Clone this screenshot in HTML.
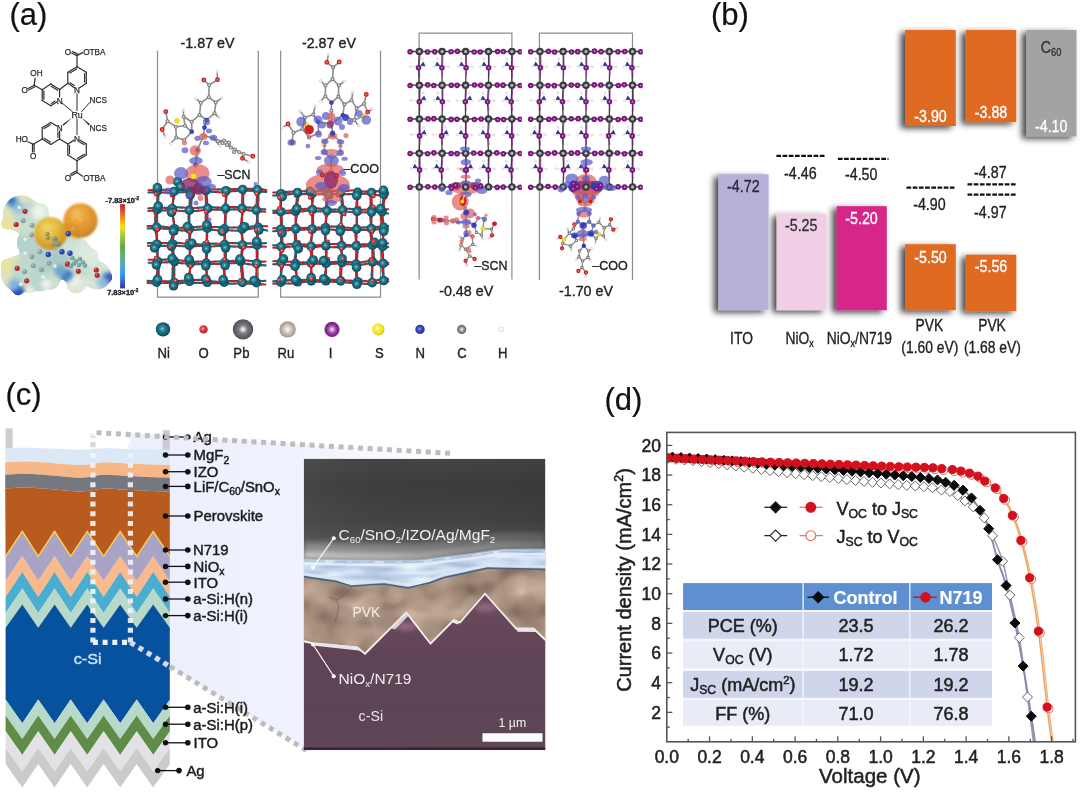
<!DOCTYPE html>
<html lang="en">
<head>
<meta charset="utf-8">
<title>Figure</title>
<style>
html,body{margin:0;padding:0;background:#fff;}
body{width:1080px;height:792px;overflow:hidden;font-family:'Liberation Sans', sans-serif;}
svg{display:block;position:absolute;left:0;top:0;}
svg text{font-family:'Liberation Sans', sans-serif;}
</style>
</head>
<body>
<svg width="1080" height="792" viewBox="0 0 1080 792">
<defs>
<filter id="soft" x="0" y="0" width="1080" height="792" filterUnits="userSpaceOnUse" color-interpolation-filters="sRGB"><feGaussianBlur stdDeviation="0.65"/></filter>
<radialGradient id="gNi" cx="0.45" cy="0.45" r="0.62" fx="0.45" fy="0.45"><stop offset="0" stop-color="#b5e0ea"/><stop offset="0.16" stop-color="#4397a9"/><stop offset="0.5" stop-color="#186b7c"/><stop offset="1" stop-color="#084251"/></radialGradient>
<radialGradient id="gO" cx="0.42" cy="0.42" r="0.65" fx="0.42" fy="0.42"><stop offset="0" stop-color="#ffc9c9"/><stop offset="0.3" stop-color="#e84848"/><stop offset="1" stop-color="#b00f14"/></radialGradient>
<radialGradient id="gPb" cx="0.5" cy="0.5" r="0.6" fx="0.5" fy="0.5"><stop offset="0" stop-color="#ffffff"/><stop offset="0.12" stop-color="#d8d8dc"/><stop offset="0.35" stop-color="#7c7c84"/><stop offset="1" stop-color="#3d3d44"/></radialGradient>
<radialGradient id="gRu" cx="0.5" cy="0.5" r="0.6" fx="0.5" fy="0.5"><stop offset="0" stop-color="#ffffff"/><stop offset="0.2" stop-color="#e8e2dc"/><stop offset="0.6" stop-color="#b9aea4"/><stop offset="1" stop-color="#8f857c"/></radialGradient>
<radialGradient id="gI" cx="0.5" cy="0.5" r="0.6" fx="0.5" fy="0.5"><stop offset="0" stop-color="#ffffff"/><stop offset="0.15" stop-color="#d8a8dc"/><stop offset="0.5" stop-color="#93359a"/><stop offset="1" stop-color="#5e1866"/></radialGradient>
<radialGradient id="gS" cx="0.42" cy="0.42" r="0.65" fx="0.42" fy="0.42"><stop offset="0" stop-color="#ffffe0"/><stop offset="0.25" stop-color="#f8f05a"/><stop offset="0.7" stop-color="#efe020"/><stop offset="1" stop-color="#c8b810"/></radialGradient>
<radialGradient id="gN" cx="0.45" cy="0.45" r="0.6" fx="0.45" fy="0.45"><stop offset="0" stop-color="#9aa2e8"/><stop offset="0.4" stop-color="#3b49b8"/><stop offset="1" stop-color="#26308c"/></radialGradient>
<radialGradient id="gC" cx="0.5" cy="0.5" r="0.6" fx="0.5" fy="0.5"><stop offset="0" stop-color="#f4f4f4"/><stop offset="0.3" stop-color="#b0b0b0"/><stop offset="0.6" stop-color="#787878"/><stop offset="1" stop-color="#5c5c5c"/></radialGradient>
<radialGradient id="gH" cx="0.5" cy="0.5" r="0.6" fx="0.5" fy="0.5"><stop offset="0" stop-color="#ffffff"/><stop offset="0.5" stop-color="#f4f4f4"/><stop offset="1" stop-color="#c4c4c4"/></radialGradient>
<radialGradient id="gor1" cx="0.4" cy="0.32" r="0.8" fx="0.4" fy="0.32"><stop offset="0" stop-color="#f2d766"/><stop offset="0.3" stop-color="#e9bd38"/><stop offset="0.7" stop-color="#d49c28"/><stop offset="1" stop-color="#a97a22"/></radialGradient>
<radialGradient id="gor2" cx="0.4" cy="0.32" r="0.8" fx="0.4" fy="0.32"><stop offset="0" stop-color="#f2bc5c"/><stop offset="0.3" stop-color="#e79c2a"/><stop offset="0.7" stop-color="#d6871e"/><stop offset="1" stop-color="#a96c1c"/></radialGradient>
<linearGradient id="cbar" x1="0" y1="0" x2="0" y2="1"><stop offset="0" stop-color="#c4232b"/><stop offset="0.1" stop-color="#e45a25"/><stop offset="0.19" stop-color="#f4a11c"/><stop offset="0.27" stop-color="#f5e11a"/><stop offset="0.37" stop-color="#a8c83a"/><stop offset="0.5" stop-color="#5faa45"/><stop offset="0.64" stop-color="#5db08a"/><stop offset="0.76" stop-color="#4aa6d8"/><stop offset="0.84" stop-color="#2f97ec"/><stop offset="0.92" stop-color="#3a62c4"/><stop offset="1" stop-color="#36399e"/></linearGradient>
<filter id="goo" x="-20%" y="-20%" width="140%" height="140%" color-interpolation-filters="sRGB"><feGaussianBlur stdDeviation="2.2" result="b"/><feColorMatrix in="b" mode="matrix" values="1 0 0 0 0  0 1 0 0 0  0 0 1 0 0  0 0 0 9 -3.6" result="g"/><feGaussianBlur in="g" stdDeviation="0.6"/></filter>
<filter id="blur08" x="-20%" y="-20%" width="140%" height="140%"><feGaussianBlur stdDeviation="0.8"/></filter>
<filter id="blur06" x="-20%" y="-20%" width="140%" height="140%"><feGaussianBlur stdDeviation="0.6"/></filter>
<filter id="blur04" x="-5%" y="-5%" width="110%" height="110%"><feGaussianBlur stdDeviation="0.4"/></filter>
<filter id="bsh" x="-30%" y="-30%" width="160%" height="160%"><feDropShadow dx="-4.4" dy="2.4" stdDeviation="3.3" flood-color="#000" flood-opacity="0.72"/></filter>
<linearGradient id="semtop" x1="0" y1="458.75" x2="0" y2="570" gradientUnits="userSpaceOnUse"><stop offset="0" stop-color="#454545"/><stop offset="0.25" stop-color="#3c3c3c"/><stop offset="0.55" stop-color="#434343"/><stop offset="0.75" stop-color="#505050"/><stop offset="0.9" stop-color="#686868"/><stop offset="1" stop-color="#7a7a7a"/></linearGradient>
<radialGradient id="semhaze"><stop offset="0" stop-color="#c8c8c8" stop-opacity="0.75"/><stop offset="0.5" stop-color="#a8a8a8" stop-opacity="0.4"/><stop offset="1" stop-color="#808080" stop-opacity="0"/></radialGradient>
<linearGradient id="zpan" x1="170" y1="0" x2="455" y2="0" gradientUnits="userSpaceOnUse"><stop offset="0" stop-color="#edf0fc"/><stop offset="0.45" stop-color="#f0f3fd"/><stop offset="0.7" stop-color="#f7f8fe"/><stop offset="1" stop-color="#ffffff"/></linearGradient>
<linearGradient id="csi" x1="0" y1="600" x2="0" y2="750" gradientUnits="userSpaceOnUse"><stop offset="0" stop-color="#6b4a5d"/><stop offset="0.4" stop-color="#5f4455"/><stop offset="1" stop-color="#5d4655"/></linearGradient>
<filter id="blur2" x="-20%" y="-50%" width="140%" height="200%"><feGaussianBlur stdDeviation="2"/></filter>
<filter id="blur3" x="-20%" y="-80%" width="140%" height="260%"><feGaussianBlur stdDeviation="3.2"/></filter>
<filter id="blur08c" x="-5%" y="-30%" width="110%" height="160%"><feGaussianBlur stdDeviation="0.7"/></filter>
<linearGradient id="hz" x1="303" y1="0" x2="546" y2="0" gradientUnits="userSpaceOnUse"><stop offset="0" stop-color="#d6d6d6"/><stop offset="0.35" stop-color="#c2c2c2"/><stop offset="0.65" stop-color="#9a9a9a"/><stop offset="1" stop-color="#7c7c7c"/></linearGradient>
<linearGradient id="semside" x1="303" y1="0" x2="546" y2="0" gradientUnits="userSpaceOnUse"><stop offset="0" stop-color="#606060" stop-opacity="0.25"/><stop offset="0.5" stop-color="#404040" stop-opacity="0"/><stop offset="1" stop-color="#202020" stop-opacity="0.12"/></linearGradient>
<filter id="pvktex" x="0" y="0" width="100%" height="100%" color-interpolation-filters="sRGB"><feTurbulence type="fractalNoise" baseFrequency="0.035 0.045" numOctaves="2" seed="4"/><feColorMatrix type="matrix" values="0.5 0 0 0 0.4  0.48 0 0 0 0.315  0.46 0 0 0 0.26  0 0 0 0 1"/><feGaussianBlur stdDeviation="0.8"/></filter>
<filter id="blutex" x="0" y="0" width="100%" height="100%" color-interpolation-filters="sRGB"><feTurbulence type="fractalNoise" baseFrequency="0.025 0.2" numOctaves="2" seed="9"/><feColorMatrix type="matrix" values="0.55 0 0 0 0.51  0.5 0 0 0 0.6  0.3 0 0 0 0.78  0 0 0 0 1"/><feGaussianBlur stdDeviation="0.8"/></filter>
<filter id="blur05" x="-5%" y="-5%" width="110%" height="110%"><feGaussianBlur stdDeviation="0.5"/></filter>

</defs>
<rect width="1080" height="792" fill="#fff"/>
<g filter="url(#soft)">
<g id="panel_a">
<text x="9.5" y="25.2" font-size="31" text-anchor="start" fill="#111" stroke="#111" stroke-width="0.2">(a)</text>
<line x1="77" y1="66.7" x2="86.3" y2="72.3" stroke="#2e2e2e" stroke-width="1.2" stroke-linecap="round"/>
<line x1="86.3" y1="72.3" x2="86.3" y2="83.3" stroke="#2e2e2e" stroke-width="1.2" stroke-linecap="round"/>
<line x1="84.6" y1="73.72" x2="84.6" y2="81.92" stroke="#2e2e2e" stroke-width="1.2" stroke-linecap="round"/>
<line x1="86.3" y1="83.3" x2="79.73" y2="87.75" stroke="#2e2e2e" stroke-width="1.2" stroke-linecap="round"/>
<line x1="74.28" y1="87.74" x2="67.8" y2="83.3" stroke="#2e2e2e" stroke-width="1.2" stroke-linecap="round"/>
<line x1="74.17" y1="85.61" x2="70.01" y2="82.76" stroke="#2e2e2e" stroke-width="1.2" stroke-linecap="round"/>
<line x1="67.8" y1="83.3" x2="67.8" y2="72.3" stroke="#2e2e2e" stroke-width="1.2" stroke-linecap="round"/>
<line x1="67.8" y1="72.3" x2="77" y2="66.7" stroke="#2e2e2e" stroke-width="1.2" stroke-linecap="round"/>
<line x1="69.82" y1="73.06" x2="76.62" y2="68.92" stroke="#2e2e2e" stroke-width="1.2" stroke-linecap="round"/>
<text x="77" y="93.25" font-size="8.2" text-anchor="middle" fill="#2a2a2a" stroke="#2a2a2a" stroke-width="0.25">N</text>
<line x1="50.8" y1="84" x2="59.6" y2="89.4" stroke="#2e2e2e" stroke-width="1.2" stroke-linecap="round"/>
<line x1="51.2" y1="86.24" x2="57.62" y2="90.17" stroke="#2e2e2e" stroke-width="1.2" stroke-linecap="round"/>
<line x1="59.6" y1="89.4" x2="59.6" y2="96.9" stroke="#2e2e2e" stroke-width="1.2" stroke-linecap="round"/>
<line x1="56.82" y1="101.97" x2="50.8" y2="105.8" stroke="#2e2e2e" stroke-width="1.2" stroke-linecap="round"/>
<line x1="55.1" y1="101.11" x2="51.45" y2="103.43" stroke="#2e2e2e" stroke-width="1.2" stroke-linecap="round"/>
<line x1="50.8" y1="105.8" x2="42.2" y2="100.6" stroke="#2e2e2e" stroke-width="1.2" stroke-linecap="round"/>
<line x1="42.2" y1="100.6" x2="42.2" y2="89.8" stroke="#2e2e2e" stroke-width="1.2" stroke-linecap="round"/>
<line x1="43.9" y1="99.15" x2="43.9" y2="91.15" stroke="#2e2e2e" stroke-width="1.2" stroke-linecap="round"/>
<line x1="42.2" y1="89.8" x2="50.8" y2="84" stroke="#2e2e2e" stroke-width="1.2" stroke-linecap="round"/>
<text x="59.6" y="103.55" font-size="8.2" text-anchor="middle" fill="#2a2a2a" stroke="#2a2a2a" stroke-width="0.25">N</text>
<line x1="59.6" y1="89.4" x2="67.8" y2="83.3" stroke="#2e2e2e" stroke-width="1.2" stroke-linecap="round"/>
<line x1="77" y1="66.7" x2="77" y2="55.6" stroke="#2e2e2e" stroke-width="1.2" stroke-linecap="round"/>
<line x1="77" y1="55.6" x2="71.64" y2="52.92" stroke="#2e2e2e" stroke-width="1.2" stroke-linecap="round"/>
<line x1="77.8" y1="54.1" x2="72.44" y2="51.42" stroke="#2e2e2e" stroke-width="1.2" stroke-linecap="round"/>
<line x1="77" y1="55.6" x2="82.56" y2="52.64" stroke="#2e2e2e" stroke-width="1.2" stroke-linecap="round"/>
<text x="68" y="54.55" font-size="8.2" text-anchor="middle" fill="#2a2a2a" stroke="#2a2a2a" stroke-width="0.25">O</text>
<text x="83.2" y="54.55" font-size="8.2" text-anchor="start" fill="#2a2a2a" stroke="#2a2a2a" stroke-width="0.25">OTBA</text>
<line x1="42.2" y1="89.8" x2="34.2" y2="85.2" stroke="#2e2e2e" stroke-width="1.2" stroke-linecap="round"/>
<line x1="34.2" y1="85.2" x2="35.08" y2="78.17" stroke="#2e2e2e" stroke-width="1.2" stroke-linecap="round"/>
<line x1="34.2" y1="85.2" x2="28.01" y2="88.43" stroke="#2e2e2e" stroke-width="1.2" stroke-linecap="round"/>
<line x1="34.9" y1="86.7" x2="28.71" y2="89.93" stroke="#2e2e2e" stroke-width="1.2" stroke-linecap="round"/>
<text x="36.5" y="76.25" font-size="8.2" text-anchor="middle" fill="#2a2a2a" stroke="#2a2a2a" stroke-width="0.25">OH</text>
<text x="24.6" y="93.15" font-size="8.2" text-anchor="middle" fill="#2a2a2a" stroke="#2a2a2a" stroke-width="0.25">O</text>
<text x="77" y="117.77" font-size="8.8" text-anchor="middle" fill="#2a2a2a" stroke="#2a2a2a" stroke-width="0.25">Ru</text>
<line x1="77" y1="93.6" x2="77" y2="110.6" stroke="#2e2e2e" stroke-width="1.0" stroke-linecap="round"/>
<line x1="62.3" y1="103.2" x2="72.4" y2="111.6" stroke="#2e2e2e" stroke-width="1.0" stroke-linecap="round"/>
<line x1="81.8" y1="111.5" x2="89.6" y2="102.6" stroke="#2e2e2e" stroke-width="1.0" stroke-linecap="round"/>
<text x="89.6" y="102.65" font-size="8.2" text-anchor="start" fill="#2a2a2a" stroke="#2a2a2a" stroke-width="0.25">NCS</text>
<text x="89.6" y="130.95" font-size="8.2" text-anchor="start" fill="#2a2a2a" stroke="#2a2a2a" stroke-width="0.25">NCS</text>
<polygon points="81.6,117.6 89.9,124.0 88.7,125.6" fill="#2e2e2e"/>
<polygon points="72.4,117.6 62.6,124.2 63.6,125.8" fill="#2e2e2e"/>
<line x1="77" y1="118.8" x2="77" y2="134.6" stroke="#2e2e2e" stroke-width="1.0" stroke-linecap="round"/>
<line x1="50.8" y1="122.4" x2="56.76" y2="125.92" stroke="#2e2e2e" stroke-width="1.2" stroke-linecap="round"/>
<line x1="59.6" y1="130.9" x2="59.6" y2="139" stroke="#2e2e2e" stroke-width="1.2" stroke-linecap="round"/>
<line x1="57.93" y1="132" x2="57.93" y2="137.3" stroke="#2e2e2e" stroke-width="1.2" stroke-linecap="round"/>
<line x1="59.6" y1="139" x2="50.8" y2="144.4" stroke="#2e2e2e" stroke-width="1.2" stroke-linecap="round"/>
<line x1="50.8" y1="144.4" x2="42.2" y2="139" stroke="#2e2e2e" stroke-width="1.2" stroke-linecap="round"/>
<line x1="50.4" y1="142.15" x2="44.17" y2="138.24" stroke="#2e2e2e" stroke-width="1.2" stroke-linecap="round"/>
<line x1="42.2" y1="139" x2="42.2" y2="127.8" stroke="#2e2e2e" stroke-width="1.2" stroke-linecap="round"/>
<line x1="42.2" y1="127.8" x2="50.8" y2="122.4" stroke="#2e2e2e" stroke-width="1.2" stroke-linecap="round"/>
<line x1="44.18" y1="128.56" x2="50.41" y2="124.65" stroke="#2e2e2e" stroke-width="1.2" stroke-linecap="round"/>
<text x="59.6" y="130.85" font-size="8.2" text-anchor="middle" fill="#2a2a2a" stroke="#2a2a2a" stroke-width="0.25">N</text>
<line x1="79.83" y1="140.1" x2="86.3" y2="144" stroke="#2e2e2e" stroke-width="1.2" stroke-linecap="round"/>
<line x1="79.96" y1="142.15" x2="84.03" y2="144.6" stroke="#2e2e2e" stroke-width="1.2" stroke-linecap="round"/>
<line x1="86.3" y1="144" x2="86.3" y2="155" stroke="#2e2e2e" stroke-width="1.2" stroke-linecap="round"/>
<line x1="86.3" y1="155" x2="77" y2="160.8" stroke="#2e2e2e" stroke-width="1.2" stroke-linecap="round"/>
<line x1="84.29" y1="154.25" x2="77.37" y2="158.57" stroke="#2e2e2e" stroke-width="1.2" stroke-linecap="round"/>
<line x1="77" y1="160.8" x2="67.8" y2="155" stroke="#2e2e2e" stroke-width="1.2" stroke-linecap="round"/>
<line x1="67.8" y1="155" x2="67.8" y2="144" stroke="#2e2e2e" stroke-width="1.2" stroke-linecap="round"/>
<line x1="69.5" y1="153.61" x2="69.5" y2="145.41" stroke="#2e2e2e" stroke-width="1.2" stroke-linecap="round"/>
<line x1="67.8" y1="144" x2="74.18" y2="140.12" stroke="#2e2e2e" stroke-width="1.2" stroke-linecap="round"/>
<text x="77" y="141.55" font-size="8.2" text-anchor="middle" fill="#2a2a2a" stroke="#2a2a2a" stroke-width="0.25">N</text>
<line x1="59.6" y1="139" x2="67.8" y2="144" stroke="#2e2e2e" stroke-width="1.2" stroke-linecap="round"/>
<line x1="42.2" y1="139" x2="33.3" y2="144.2" stroke="#2e2e2e" stroke-width="1.2" stroke-linecap="round"/>
<line x1="33.3" y1="144.2" x2="27.76" y2="141.75" stroke="#2e2e2e" stroke-width="1.2" stroke-linecap="round"/>
<line x1="32.5" y1="144.2" x2="32.5" y2="152" stroke="#2e2e2e" stroke-width="1.2" stroke-linecap="round"/>
<line x1="34.1" y1="144.2" x2="34.1" y2="152" stroke="#2e2e2e" stroke-width="1.2" stroke-linecap="round"/>
<text x="21.8" y="142.35" font-size="8.2" text-anchor="middle" fill="#2a2a2a" stroke="#2a2a2a" stroke-width="0.25">HO</text>
<text x="33.3" y="158.75" font-size="8.2" text-anchor="middle" fill="#2a2a2a" stroke="#2a2a2a" stroke-width="0.25">O</text>
<line x1="77" y1="160.8" x2="77" y2="172.4" stroke="#2e2e2e" stroke-width="1.2" stroke-linecap="round"/>
<line x1="77" y1="172.4" x2="71.22" y2="175.86" stroke="#2e2e2e" stroke-width="1.2" stroke-linecap="round"/>
<line x1="76.2" y1="170.9" x2="70.42" y2="174.36" stroke="#2e2e2e" stroke-width="1.2" stroke-linecap="round"/>
<line x1="77" y1="172.4" x2="82.58" y2="176.17" stroke="#2e2e2e" stroke-width="1.2" stroke-linecap="round"/>
<text x="68" y="180.95" font-size="8.2" text-anchor="middle" fill="#2a2a2a" stroke="#2a2a2a" stroke-width="0.25">O</text>
<text x="83.2" y="180.95" font-size="8.2" text-anchor="start" fill="#2a2a2a" stroke="#2a2a2a" stroke-width="0.25">OTBA</text>
<g filter="url(#goo)">
<circle cx="21.5" cy="214" r="18.5" fill="#dde2bd"/>
<circle cx="19" cy="273.5" r="18" fill="#dde2bd"/>
<circle cx="38" cy="228" r="15" fill="#c9ddd0"/>
<circle cx="36" cy="258" r="16" fill="#c9ddd0"/>
<circle cx="47" cy="246" r="15" fill="#c3dad0"/>
<circle cx="62" cy="262" r="14" fill="#c8ddd4"/>
<circle cx="79" cy="270" r="14.5" fill="#d3e2d6"/>
<circle cx="97" cy="275.5" r="14" fill="#d9e5d8"/>
<circle cx="50" cy="280" r="10" fill="#cbdfd0"/>
<circle cx="76" cy="284" r="9.5" fill="#dfe8d4"/>
<circle cx="60" cy="244" r="12" fill="#c3dad0"/>
<circle cx="70" cy="232" r="10" fill="#e2b860"/>
<circle cx="27" cy="215" r="13" fill="#bfd8d0"/>
<circle cx="25" cy="271" r="13" fill="#bfd8d0"/>
<circle cx="31" cy="243" r="14" fill="#b4d2cc"/>
<circle cx="45" cy="262" r="12" fill="#b0cfc9"/>
<circle cx="61" cy="258" r="10" fill="#a8c9c4"/>
<circle cx="84" cy="267" r="10" fill="#c3dad2"/>
<circle cx="96" cy="273" r="9" fill="#cfe0d6"/>
<circle cx="80" cy="248" r="9.5" fill="#d9e8e0"/>
<circle cx="89" cy="257" r="9.5" fill="#dcebe2"/>
<circle cx="70" cy="246" r="9" fill="#cfe2da"/>
<circle cx="40" cy="281" r="10.5" fill="#b9d6cf"/>
<circle cx="32" cy="226" r="12" fill="#c9ddd0"/>
<circle cx="40" cy="212" r="9" fill="#dfeadf"/>
<circle cx="38" cy="212" r="6" fill="#eef3ec"/>
<circle cx="46" cy="284" r="5" fill="#f0f4ee"/>
<circle cx="74" cy="281" r="5" fill="#eef3ea"/>
<circle cx="30" cy="290" r="4" fill="#e8efe6"/>
<circle cx="13.5" cy="203" r="5.2" fill="#2e70c8"/>
<circle cx="17.5" cy="207" r="5.5" fill="#8bbce0"/>
<circle cx="18" cy="290" r="5.6" fill="#2a4cb8"/>
<circle cx="14.5" cy="284.5" r="6" fill="#7fb2dc"/>
<circle cx="107.5" cy="277.5" r="5" fill="#3557b6"/>
<circle cx="102.5" cy="282" r="5.5" fill="#8fbadc"/>
<circle cx="67" cy="275" r="6" fill="#3f7cc4"/>
<circle cx="60" cy="271" r="6" fill="#6ea6cc"/>
<circle cx="6.5" cy="224" r="5.5" fill="#e8e49a"/>
<circle cx="6.5" cy="265" r="6" fill="#e8e49a"/>
</g>
<g filter="url(#blur08)" opacity="0.93">
<circle cx="80.5" cy="220.5" r="17.2" fill="url(#gor2)"/>
<circle cx="50.5" cy="233.5" r="16.4" fill="url(#gor1)"/>
</g>
<g filter="url(#blur05)">
<g fill="#b22a22"><circle cx="25" cy="211.3" r="2.6"/><circle cx="16.2" cy="224.5" r="2.6"/><circle cx="17.2" cy="268.3" r="2.6"/><circle cx="26.7" cy="280.8" r="2.6"/><circle cx="78.3" cy="271.3" r="2.6"/><circle cx="96.3" cy="270" r="2.6"/><circle cx="97.2" cy="275.3" r="2.6"/><circle cx="67.5" cy="264.2" r="2.6"/></g>
<g fill="#fff" opacity="0.4"><circle cx="24.22" cy="210.52" r="0.91"/><circle cx="15.42" cy="223.72" r="0.91"/><circle cx="16.42" cy="267.52" r="0.91"/><circle cx="25.92" cy="280.02" r="0.91"/><circle cx="77.52" cy="270.52" r="0.91"/><circle cx="95.52" cy="269.22" r="0.91"/><circle cx="96.42" cy="274.52" r="0.91"/><circle cx="66.72" cy="263.42" r="0.91"/></g>
<g fill="#8fa09c"><circle cx="23.3" cy="220.8" r="2.5"/><circle cx="32.2" cy="225.5" r="2.5"/><circle cx="31.7" cy="235" r="2.5"/><circle cx="32" cy="256.7" r="2.5"/><circle cx="40" cy="251.7" r="2.5"/><circle cx="33.3" cy="265.8" r="2.5"/><circle cx="24.7" cy="271.7" r="2.5"/><circle cx="41.7" cy="269.7" r="2.5"/><circle cx="49.2" cy="263.3" r="2.5"/></g>
<g fill="#fff" opacity="0.4"><circle cx="22.55" cy="220.05" r="0.88"/><circle cx="31.45" cy="224.75" r="0.88"/><circle cx="30.95" cy="234.25" r="0.88"/><circle cx="31.25" cy="255.95" r="0.88"/><circle cx="39.25" cy="250.95" r="0.88"/><circle cx="32.55" cy="265.05" r="0.88"/><circle cx="23.95" cy="270.95" r="0.88"/><circle cx="40.95" cy="268.95" r="0.88"/><circle cx="48.45" cy="262.55" r="0.88"/></g>
<g fill="#2b3fae"><circle cx="68.3" cy="233.7" r="2.7"/><circle cx="48.3" cy="254.5" r="2.7"/><circle cx="62" cy="251.7" r="2.7"/><circle cx="70" cy="253.3" r="2.7"/></g>
<g fill="#fff" opacity="0.4"><circle cx="67.49" cy="232.89" r="0.94"/><circle cx="47.49" cy="253.69" r="0.94"/><circle cx="61.19" cy="250.89" r="0.94"/><circle cx="69.19" cy="252.49" r="0.94"/></g>
<g fill="#6fa39a"><circle cx="72.5" cy="258" r="2.3"/><circle cx="76" cy="261" r="2.3"/><circle cx="80" cy="259" r="2.3"/><circle cx="83" cy="262.5" r="2.3"/><circle cx="74" cy="263.5" r="2.3"/><circle cx="79" cy="265" r="2.3"/><circle cx="85" cy="265.5" r="2.3"/><circle cx="71" cy="266" r="2.3"/></g>
<g fill="#fff" opacity="0.4"><circle cx="71.81" cy="257.31" r="0.8"/><circle cx="75.31" cy="260.31" r="0.8"/><circle cx="79.31" cy="258.31" r="0.8"/><circle cx="82.31" cy="261.81" r="0.8"/><circle cx="73.31" cy="262.81" r="0.8"/><circle cx="78.31" cy="264.31" r="0.8"/><circle cx="84.31" cy="264.81" r="0.8"/><circle cx="70.31" cy="265.31" r="0.8"/></g>
<g fill="#e9f1ee"><circle cx="19.2" cy="207.5" r="1.7"/><circle cx="41.7" cy="214.2" r="1.7"/><circle cx="25" cy="239.2" r="1.7"/><circle cx="25.3" cy="253.3" r="1.7"/><circle cx="43" cy="276.7" r="1.7"/><circle cx="20.8" cy="284.2" r="1.7"/><circle cx="55" cy="266" r="1.7"/></g>
<g fill="#fff" opacity="0.4"><circle cx="18.69" cy="206.99" r="0.59"/><circle cx="41.19" cy="213.69" r="0.59"/><circle cx="24.49" cy="238.69" r="0.59"/><circle cx="24.79" cy="252.79" r="0.59"/><circle cx="42.49" cy="276.19" r="0.59"/><circle cx="20.29" cy="283.69" r="0.59"/><circle cx="54.49" cy="265.49" r="0.59"/></g>
<g fill="#e9c92a"><circle cx="51.2" cy="233.7" r="2.8"/></g>
<g fill="#fff" opacity="0.4"><circle cx="50.36" cy="232.86" r="0.98"/></g>
<g fill="#9b8f5a"><circle cx="48" cy="238" r="2.3"/><circle cx="53" cy="244.5" r="2.3"/><circle cx="47.5" cy="234" r="2.3"/></g>
<g fill="#fff" opacity="0.4"><circle cx="47.31" cy="237.31" r="0.8"/><circle cx="52.31" cy="243.81" r="0.8"/><circle cx="46.81" cy="233.31" r="0.8"/></g>
<g fill="#6f8f80"><circle cx="55" cy="239" r="2.6"/><circle cx="58" cy="244" r="2.6"/></g>
<g fill="#fff" opacity="0.4"><circle cx="54.22" cy="238.22" r="0.91"/><circle cx="57.22" cy="243.22" r="0.91"/></g>
<g fill="#f0a63a"><circle cx="80.8" cy="220.5" r="2.5"/></g>
<g fill="#fff" opacity="0.4"><circle cx="80.05" cy="219.75" r="0.88"/></g>
<g fill="#d99a3c"><circle cx="73" cy="229" r="2.2"/></g>
<g fill="#fff" opacity="0.4"><circle cx="72.34" cy="228.34" r="0.77"/></g>
</g>
<rect x="120.1" y="204.2" width="4.9" height="84.2" fill="url(#cbar)"/>
<text x="122.3" y="203" font-size="7.4" text-anchor="middle" fill="#222" font-weight="bold" stroke="#222" stroke-width="0.35">-7.83×10<tspan font-size="62%" dy="-0.677em">-2</tspan><tspan dy="0.420em">&#8203;</tspan></text>
<text x="122.7" y="295.3" font-size="7.4" text-anchor="middle" fill="#222" font-weight="bold" stroke="#222" stroke-width="0.35">7.83×10<tspan font-size="62%" dy="-0.677em">-2</tspan><tspan dy="0.420em">&#8203;</tspan></text>
<path d="M157.5,50.8 V297.2 H258.3 V50.8" fill="none" stroke="#8f8f8f" stroke-width="1.25"/>
<path d="M280.6,50.8 V297.2 H380.5 V50.8" fill="none" stroke="#8f8f8f" stroke-width="1.25"/>
<g filter="url(#blur04)">
<path d="M157.47,189.83L164.97,189.73M164.37,192.51L173.95,193.02M157.47,189.83L152.97,190.01M152.97,192.32L148.47,192.51M157.39,199.11L157.3,209.38M158.67,190.98L158.16,201.81M182.63,190.03L190.33,189.77M173.95,192.6L183.71,192.15M173.95,191.46L173.02,200.7M173.78,197.99L171.57,208.52M190.33,190.44L197.13,189.91M197.6,192.2L206.16,191.98M189.84,200.54L189.31,210.2M192.32,191.41L191.22,204.38M218,189.43L225.98,189.51M206.16,191.32L216.57,192.03M206.16,190.32L206.97,199.35M205.77,197.7L206.14,208.38M225.98,189.61L232.73,189.16M234.48,191.05L242.58,190.23M225.8,200.43L225.65,208.33M227.32,190.76L225.51,202.93M249.22,188.75L257.33,188.98M242.58,190.38L249.85,190.71M242.58,189.47L242.21,200.68M243.16,197.74L243.15,208.3M257.33,188.41L262.65,189.41M261.88,191.57L266.33,191.95M256.92,197.91L256.3,210.09M258.68,189.79L258.37,199.76M164.53,207.82L172.23,207.54M157.3,210.68L165.58,210.35M152.8,208.21L148.3,208.34M157.3,210.68L152.8,210.82M157.3,209.38L156.88,219.42M155.31,217.83L155.2,227.12M172.23,207L182.37,207.53M180.94,210.88L189.31,211.69M173.24,218.1L174.36,228.69M171.63,208.52L172.74,215.15M197.82,207.83L207.78,206.91M189.31,211.77L198.6,210.66M189.31,210.2L189.33,222.09M188.58,216.78L188.74,228.91M207.78,207.09L218.39,207.6M216.19,209.76L225.65,209.84M207.48,220.65L207.29,228.23M205.79,208.38L205.75,218.83M234.49,207.05L241.96,207.02M225.65,209.58L234.96,209.43M225.65,208.33L225.14,216.5M225.73,216.96L225.31,228.86M241.96,207.07L249.48,207.61M248.54,210.31L256.3,211.21M242.05,220.35L242.12,228.92M243.27,208.3L241.68,218.88M261.69,209.25L265.3,209.42M256.3,211.19L261.46,211.47M256.3,210.09L257.51,220.67M257.34,216.13L256.33,227.32M156.56,225.97L166.57,227.06M163.69,228.6L174.36,229.1M156.56,225.97L152.06,226.03M152.06,228.32L147.56,228.37M156.75,236.61L156.89,244.2M154.99,227.12L155.99,233.55M182.51,227.78L189.34,228.04M174.36,229.93L181.74,230.43M174.36,228.69L173.3,237.51M171.72,238.03L170.53,243.96M189.34,227.63L199.15,226.76M196.82,229.71L207.29,229.04M189.35,234.93L189.36,245.25M191.11,228.91L189.97,236.62M214.74,227.02L224.35,227.02M207.29,229.43L214.34,229.94M207.29,228.23L206.8,235.35M207.05,238.52L206.75,245.43M224.35,227.62L233.79,227.49M231.95,230.48L242.12,230.99M224.48,235.74L224.64,244.54M224.63,228.86L224.93,235.39M249,226.92L258.27,225.88M242.12,230.14L249.68,228.94M242.12,228.92L242.27,237.29M242.07,236.98L243.85,244.95M258.27,225.94L262.08,226.09M263.06,229.68L267.27,230.54M257.51,237.83L256.99,244.95M256.83,227.32L257.12,235.11M164.5,243.02L172.52,243.21M156.89,245.55L164.76,245.78M152.39,242.94L147.89,243.03M156.89,245.55L152.39,245.64M156.89,244.2L157.29,253.14M157.64,250L157.23,261.34M172.52,242.43L180.7,243.18M179.59,245.99L189.36,246.7M173.24,250.81L174.35,261.25M171.16,243.96L172.38,251.81M197.12,244.42L206.11,244.79M189.36,246.39L196.13,246.1M189.36,245.25L189.84,254M189.66,256.29L188.97,263.23M206.11,243.89L216.04,243.64M214.86,246.25L224.64,245.45M206.12,251.96L206.14,263.09M208.08,245.43L206.82,256.21M231.86,243.07L242.4,242.92M224.64,245.92L234.72,246.53M224.64,244.54L224.68,253.92M226.07,251.67L225.57,262.59M242.4,243.47L250.11,243.41M251.01,246.88L256.99,247.19M241.67,251.63L240.62,261.31M243.18,244.95L242.43,251.09M260.63,243.3L265.99,243.08M256.99,246.45L261.47,246.59M256.99,244.95L256.84,254.62M256.91,255.9L257.2,263.49M157.65,259.89L165.67,259.62M166.12,262.37L174.35,261.97M157.65,259.89L153.15,259.86M153.15,262.75L148.65,262.73M157.03,273.01L156.53,282.21M158.85,261.34L158.6,273.16M183.21,260.78L190.35,261.55M174.35,262.69L181.66,263.14M174.35,261.25L174.28,274.79M172.69,268.91L172.36,282.66M190.35,262.11L198.24,261.68M196.77,264.14L206.14,263.85M189.89,272.47L189.46,281.25M191.31,263.23L190,269.51M214.17,261.71L224.71,261.26M206.14,264.13L214.17,264.02M206.14,263.09L206.86,275.45M206.57,273.68L207.68,282.26M224.71,261.38L234.05,260.94M234.16,263.08L240.62,262.59M224.41,272.96L224.14,282.2M223.12,262.59L224.18,271.76M248.71,260.74L256.7,261.62M240.62,262.79L249.58,264.3M240.62,261.31L241.42,271.04M242.85,273.27L243.61,282.46M256.7,262.06L261.96,261.69M261.66,265.13L265.7,265.31M256.54,272.95L256.38,282.67M256.58,263.49L256.56,269.94M164.74,281.29L174.25,281.41M156.53,283.24L164.72,283.01M152.03,281.07L147.53,280.95M156.53,283.24L152.03,283.13M174.25,281.35L181.92,280.82M180.57,283.21L189.46,282.14M196.71,279.9L207.25,280.18M189.46,282.8L200,282.91M207.25,281.19L215.84,281.64M214.02,283.22L224.14,283.05M234.03,281.02L242.35,281.19M224.14,283.58L234.65,283.59M242.35,281.43L249.56,281.7M249.76,283.74L256.38,283.95M260.49,280.98L265.38,280.8M256.38,284.2L261.72,284.36" stroke="#156777" stroke-width="2.2" fill="none" stroke-linecap="round"/>
<path d="M164.97,189.73L173.95,189.6M157.47,192.13L164.37,192.51M152.97,190.01L148.47,190.2M157.47,192.13L152.97,192.32M157.47,190.98L157.39,199.11M158.16,201.81L157.8,209.38M173.95,190.32L182.63,190.03M183.71,192.15L190.33,191.85M173.02,200.7L172.23,208.52M175.16,191.46L173.78,197.99M197.13,189.91L206.16,189.21M190.33,192.39L197.6,192.2M190.33,191.41L189.84,200.54M191.22,204.38L190.72,210.2M206.16,189.31L218,189.43M216.57,192.03L225.98,192.68M206.97,199.35L207.78,208.38M205.52,190.32L205.77,197.7M232.73,189.16L242.58,188.5M225.98,191.91L234.48,191.05M225.98,190.76L225.8,200.43M225.51,202.93L224.71,208.33M242.58,188.56L249.22,188.75M249.85,190.71L257.33,191.04M242.21,200.68L241.96,208.3M243.17,189.47L243.16,197.74M262.65,189.41L266.33,190.1M257.33,191.17L261.88,191.57M257.33,189.79L256.92,197.91M258.37,199.76L258.05,210.09M157.3,208.07L164.53,207.82M165.58,210.35L172.23,210.07M157.3,208.07L152.8,208.21M152.8,210.82L148.3,210.96M156.88,219.42L156.56,227.12M155.41,209.38L155.31,217.83M182.37,207.53L189.31,207.9M172.23,210.04L180.94,210.88M172.23,208.52L173.24,218.1M172.74,215.15L175.01,228.69M189.31,208.62L197.82,207.83M198.6,210.66L207.78,209.55M189.33,222.09L189.34,228.91M188.49,210.2L188.58,216.78M218.39,207.6L225.65,207.95M207.78,209.68L216.19,209.76M207.78,208.38L207.48,220.65M205.75,218.83L205.72,228.23M225.65,207.09L234.49,207.05M234.96,209.43L241.96,209.32M225.14,216.5L224.35,228.86M226.03,208.33L225.73,216.96M249.48,207.61L256.3,208.1M241.96,209.54L248.54,210.31M241.96,208.3L242.05,220.35M241.68,218.88L240.17,228.92M256.3,208.99L261.69,209.25M261.46,211.47L265.3,211.67M257.51,220.67L258.27,227.32M257.88,210.09L257.34,216.13M166.57,227.06L174.36,227.91M156.56,228.26L163.69,228.6M152.06,226.03L147.56,226.08M156.56,228.26L152.06,228.32M156.56,227.12L156.75,236.61M155.99,233.55L157.64,244.2M174.36,227.46L182.51,227.78M181.74,230.43L189.34,230.94M173.3,237.51L172.52,243.96M173.58,228.69L171.72,238.03M199.15,226.76L207.29,226.04M189.34,230.19L196.82,229.71M189.34,228.91L189.35,234.93M189.97,236.62L188.7,245.25M207.29,227.02L214.74,227.02M214.34,229.94L224.35,230.67M206.8,235.35L206.11,245.43M207.51,228.23L207.05,238.52M233.79,227.49L242.12,227.38M224.35,230.1L231.95,230.48M224.35,228.86L224.48,235.74M224.93,235.39L225.36,244.54M242.12,227.7L249,226.92M249.68,228.94L258.27,227.57M242.27,237.29L242.4,244.95M240.26,228.92L242.07,236.98M262.08,226.09L267.27,226.29M258.27,228.69L263.06,229.68M258.27,227.32L257.51,237.83M257.12,235.11L257.49,244.95M156.89,242.84L164.5,243.02M164.76,245.78L172.52,246.01M156.89,242.84L152.39,242.94M152.39,245.64L147.89,245.74M157.29,253.14L157.65,261.34M157.86,244.2L157.64,250M180.7,243.18L189.36,243.96M172.52,245.48L179.59,245.99M172.52,243.96L173.24,250.81M172.38,251.81L173.84,261.25M189.36,244.11L197.12,244.42M196.13,246.1L206.11,245.69M189.84,254L190.35,263.23M190.76,245.25L189.66,256.29M216.04,243.64L224.64,243.42M206.11,246.97L214.86,246.25M206.11,245.43L206.12,251.96M206.82,256.21L206.01,263.09M224.64,243.17L231.86,243.07M234.72,246.53L242.4,247M224.68,253.92L224.71,262.59M226.4,244.54L226.07,251.67M250.11,243.41L256.99,243.36M242.4,246.44L251.01,246.88M242.4,244.95L241.67,251.63M242.43,251.09L241.18,261.31M256.99,243.46L260.63,243.3M261.47,246.59L265.99,246.73M256.84,254.62L256.7,263.49M256.5,244.95L256.91,255.9M165.67,259.62L174.35,259.34M157.65,262.78L166.12,262.37M153.15,259.86L148.65,259.83M157.65,262.78L153.15,262.75M157.65,261.34L157.03,273.01M158.6,273.16L158.4,282.21M174.35,259.82L183.21,260.78M181.66,263.14L190.35,263.67M174.28,274.79L174.25,282.66M172.87,261.25L172.69,268.91M198.24,261.68L206.14,261.25M190.35,264.34L196.77,264.14M190.35,263.23L189.89,272.47M190,269.51L187.57,281.25M206.14,262.05L214.17,261.71M214.17,264.02L224.71,263.87M206.86,275.45L207.25,282.26M205.21,263.09L206.57,273.68M234.05,260.94L240.62,260.64M224.71,263.8L234.16,263.08M224.71,262.59L224.41,272.96M224.18,271.76L225.39,282.2M240.62,259.84L248.71,260.74M249.58,264.3L256.7,265.5M241.42,271.04L242.35,282.46M241.86,261.31L242.85,273.27M261.96,261.69L265.7,261.42M256.7,264.92L261.66,265.13M256.7,263.49L256.54,272.95M256.56,269.94L256.52,282.67M156.53,281.18L164.74,281.29M164.72,283.01L174.25,282.74M156.53,281.18L152.03,281.07M152.03,283.13L147.53,283.01M181.92,280.82L189.46,280.29M174.25,283.98L180.57,283.21M189.46,279.7L196.71,279.9M200,282.91L207.25,282.99M215.84,281.64L224.14,282.08M207.25,283.33L214.02,283.22M224.14,280.81L234.03,281.02M234.65,283.59L242.35,283.59M249.56,281.7L256.38,281.95M242.35,283.49L249.76,283.74M256.38,281.14L260.49,280.98M261.72,284.36L265.38,284.47" stroke="#cc1c26" stroke-width="2.0" fill="none" stroke-linecap="round"/>
<g fill="url(#gO)"><circle cx="156.19" cy="194.3" r="2.3"/><circle cx="171.89" cy="195.19" r="2.3"/><circle cx="190.9" cy="195.23" r="2.3"/><circle cx="205.24" cy="193.44" r="2.3"/><circle cx="224.05" cy="194.59" r="2.3"/><circle cx="243.24" cy="192.92" r="2.3"/><circle cx="256.67" cy="193.71" r="2.3"/><circle cx="155.85" cy="213.18" r="2.3"/><circle cx="174.34" cy="211.22" r="2.3"/><circle cx="190.15" cy="206.81" r="2.3"/><circle cx="206.21" cy="211.86" r="2.3"/><circle cx="225.34" cy="212.49" r="2.3"/><circle cx="241.92" cy="211.22" r="2.3"/><circle cx="256.26" cy="206.17" r="2.3"/><circle cx="157.58" cy="229.57" r="2.3"/><circle cx="175.94" cy="232.61" r="2.3"/><circle cx="189.5" cy="232.07" r="2.3"/><circle cx="209.46" cy="224.56" r="2.3"/><circle cx="222.55" cy="232.49" r="2.3"/><circle cx="243.47" cy="224.97" r="2.3"/><circle cx="256.3" cy="229.99" r="2.3"/><circle cx="155.29" cy="248.09" r="2.3"/><circle cx="170.32" cy="247.2" r="2.3"/><circle cx="187.31" cy="241.23" r="2.3"/><circle cx="206.8" cy="241.92" r="2.3"/><circle cx="224.48" cy="241.33" r="2.3"/><circle cx="243.64" cy="247.44" r="2.3"/><circle cx="257.18" cy="240.9" r="2.3"/><circle cx="156.06" cy="258.07" r="2.3"/><circle cx="176.04" cy="263.78" r="2.3"/><circle cx="190.62" cy="266.21" r="2.3"/><circle cx="206.26" cy="260.46" r="2.3"/><circle cx="224.53" cy="259.41" r="2.3"/><circle cx="240.46" cy="264.07" r="2.3"/><circle cx="256.18" cy="266.06" r="2.3"/><circle cx="156.58" cy="280.14" r="2.3"/><circle cx="175.56" cy="280.83" r="2.3"/><circle cx="191.52" cy="279.8" r="2.3"/><circle cx="207.33" cy="279.85" r="2.3"/><circle cx="223.64" cy="280.64" r="2.3"/><circle cx="240.49" cy="280.58" r="2.3"/><circle cx="256.01" cy="280.77" r="2.3"/></g>
<g fill="url(#gNi)"><circle cx="157.47" cy="190.98" r="4.8"/><circle cx="157.39" cy="187.54" r="4.8"/><circle cx="173.95" cy="191.46" r="4.8"/><circle cx="190.33" cy="191.41" r="4.8"/><circle cx="190.27" cy="194.87" r="4.8"/><circle cx="206.16" cy="190.32" r="4.8"/><circle cx="225.98" cy="190.76" r="4.8"/><circle cx="242.58" cy="189.47" r="4.8"/><circle cx="257.33" cy="189.79" r="4.8"/><circle cx="157.3" cy="209.38" r="4.8"/><circle cx="158.23" cy="206.12" r="4.8"/><circle cx="172.23" cy="208.52" r="4.8"/><circle cx="171.48" cy="212.42" r="4.8"/><circle cx="189.31" cy="210.2" r="4.8"/><circle cx="207.78" cy="208.38" r="4.8"/><circle cx="225.65" cy="208.33" r="4.8"/><circle cx="241.96" cy="208.3" r="4.8"/><circle cx="256.3" cy="210.09" r="4.8"/><circle cx="156.56" cy="227.12" r="4.8"/><circle cx="174.36" cy="228.69" r="4.8"/><circle cx="173.42" cy="231.02" r="4.8"/><circle cx="189.34" cy="228.91" r="4.8"/><circle cx="187.45" cy="226.66" r="4.8"/><circle cx="207.29" cy="228.23" r="4.8"/><circle cx="206.78" cy="224.98" r="4.8"/><circle cx="224.35" cy="228.86" r="4.8"/><circle cx="222.17" cy="231.33" r="4.8"/><circle cx="242.12" cy="228.92" r="4.8"/><circle cx="244.44" cy="226.7" r="4.8"/><circle cx="258.27" cy="227.32" r="4.8"/><circle cx="258.84" cy="230.01" r="4.8"/><circle cx="156.89" cy="244.2" r="4.8"/><circle cx="154.59" cy="247.98" r="4.8"/><circle cx="172.52" cy="243.96" r="4.8"/><circle cx="171.41" cy="246.28" r="4.8"/><circle cx="189.36" cy="245.25" r="4.8"/><circle cx="191.83" cy="243.18" r="4.8"/><circle cx="206.11" cy="245.43" r="4.8"/><circle cx="206.65" cy="248.88" r="4.8"/><circle cx="224.64" cy="244.54" r="4.8"/><circle cx="225.56" cy="247.83" r="4.8"/><circle cx="242.4" cy="244.95" r="4.8"/><circle cx="256.99" cy="244.95" r="4.8"/><circle cx="256.74" cy="241.3" r="4.8"/><circle cx="157.65" cy="261.34" r="4.8"/><circle cx="156.39" cy="264.74" r="4.8"/><circle cx="174.35" cy="261.25" r="4.8"/><circle cx="172.08" cy="258.4" r="4.8"/><circle cx="190.35" cy="263.23" r="4.8"/><circle cx="189.14" cy="259.32" r="4.8"/><circle cx="206.14" cy="263.09" r="4.8"/><circle cx="205.79" cy="265.76" r="4.8"/><circle cx="224.71" cy="262.59" r="4.8"/><circle cx="225.09" cy="265.55" r="4.8"/><circle cx="240.62" cy="261.31" r="4.8"/><circle cx="239.87" cy="259.03" r="4.8"/><circle cx="256.7" cy="263.49" r="4.8"/><circle cx="156.53" cy="282.21" r="4.8"/><circle cx="157.55" cy="279.42" r="4.8"/><circle cx="174.25" cy="282.66" r="4.8"/><circle cx="173.52" cy="285.82" r="4.8"/><circle cx="189.46" cy="281.25" r="4.8"/><circle cx="188.71" cy="277.65" r="4.8"/><circle cx="207.25" cy="282.26" r="4.8"/><circle cx="205.65" cy="278.96" r="4.8"/><circle cx="224.14" cy="282.2" r="4.8"/><circle cx="223.17" cy="279.66" r="4.8"/><circle cx="242.35" cy="282.46" r="4.8"/><circle cx="256.38" cy="282.67" r="4.8"/><circle cx="254.03" cy="280.44" r="4.8"/><circle cx="177.5" cy="181.7" r="4.8"/><circle cx="180.5" cy="186.5" r="4.8"/><circle cx="198.3" cy="187.3" r="4.8"/></g>
<g fill="url(#gO)"><circle cx="156.19" cy="194.3" r="2.0"/><circle cx="190.9" cy="195.23" r="2.0"/><circle cx="224.05" cy="194.59" r="2.0"/><circle cx="256.67" cy="193.71" r="2.0"/><circle cx="174.34" cy="211.22" r="2.0"/><circle cx="206.21" cy="211.86" r="2.0"/><circle cx="241.92" cy="211.22" r="2.0"/><circle cx="157.58" cy="229.57" r="2.0"/><circle cx="189.5" cy="232.07" r="2.0"/><circle cx="222.55" cy="232.49" r="2.0"/><circle cx="256.3" cy="229.99" r="2.0"/><circle cx="170.32" cy="247.2" r="2.0"/><circle cx="206.8" cy="241.92" r="2.0"/><circle cx="243.64" cy="247.44" r="2.0"/><circle cx="156.06" cy="258.07" r="2.0"/><circle cx="190.62" cy="266.21" r="2.0"/><circle cx="224.53" cy="259.41" r="2.0"/><circle cx="256.18" cy="266.06" r="2.0"/><circle cx="175.56" cy="280.83" r="2.0"/><circle cx="207.33" cy="279.85" r="2.0"/><circle cx="240.49" cy="280.58" r="2.0"/></g>
<path d="M281.05,192.25L288.96,191.8M287.91,194.35L297.51,193.13M281.05,192.25L277.12,192.39M277.12,195.36L273.2,195.5M280.94,201.32L280.78,211.7M281.18,193.74L280.69,200.3M304.68,191.23L312.09,191.31M297.51,193.83L304.75,194.05M297.51,192.5L296.34,203.67M297.02,205.34L295.93,211.25M312.09,191.92L320.84,190.68M318.92,194.16L326.86,193.1M312.18,199.99L312.33,209.66M313.98,193.49L312.65,201.15M333.56,190.78L340.46,190.79M326.86,193.35L332.67,193.94M326.86,192.06L326.91,201.63M326.47,199.01L326.13,210.64M340.46,191.36L347.68,190.81M348.32,194.14L357.54,194.19M341.3,199.75L342.5,209.8M341.58,192.72L342.86,203.45M365.5,191.61L371.5,191.81M357.54,193.46L364.32,193.82M357.54,192.41L357.38,199.39M356.74,202.21L355.84,211.42M371.5,190.97L378.24,191.33M377.94,195.26L383.76,196.25M371.69,203.22L371.81,210.04M370.81,192.56L370.62,198.7M386.15,192.77L388.2,192.47M383.76,195.02L385.65,194.8M383.76,194.07L382.92,202.84M383.64,204.8L382.37,211.56M289.28,210.67L295.54,210.73M280.78,212.82L287.89,213.04M276.99,210.69L273.2,210.81M280.78,212.82L276.99,212.93M280.78,211.7L280.85,218.7M281.83,219.93L282.06,229.19M295.54,210.17L302.28,209.29M303.91,211.16L312.33,209.98M295.62,219.64L295.71,228.75M297.1,211.25L296.41,217.69M318.6,208.55L326.95,209.12M312.33,211.21L320.57,211.31M312.33,209.66L312.24,221.59M313.15,221.61L313.28,229.01M326.95,209.53L335.18,209.58M333.21,211.73L342.5,211.68M326.03,221.05L325.44,227.69M327.28,210.64L325.92,220.19M348.94,208.84L357.09,209.42M342.5,211.23L350.89,212M342.5,209.8L341.24,221.7M341.25,218.3L341.05,228.6M357.09,210.21L363.36,209.75M365.24,212.28L371.81,212.01M356.92,218.82L356.68,229.1M356.7,211.42L356.65,222.75M377.92,209.6L382.08,210.14M371.81,211.27L377.89,212.15M371.81,210.04L371.57,217.59M370.38,217.11L371.11,228.66M382.08,210.09L385.32,209.61M384.88,213.23L388.2,213.48M383,220L383.81,227.37M380.37,211.56L381.06,218.16M280.94,227.73L287.93,227.99M288.63,230.13L295.71,229.65M280.94,227.73L277.07,228.02M277.07,230.95L273.2,231.24M281.03,237.1L281.12,246.6M282.09,229.19L282.25,235.22M305.08,227.89L312.19,228.15M295.71,229.96L304.26,229.59M295.71,228.75L296.2,238.3M294.99,238.86L295.44,245.16M312.19,227.78L318.91,227.5M318.71,229.41L325.44,228.56M311.49,238.97L310.99,246.19M313.67,229.01L311.26,238.6M331.93,226.56L340.51,226.56M325.44,228.82L333.19,229.73M325.44,227.69L325.6,235.1M324.91,233.73L325.5,245.75M340.51,227.28L347.7,227.75M347.73,230L356.68,230.09M341.01,236.18L341.62,245.63M339.77,228.6L341.75,237.94M363.26,227.59L371.22,226.86M356.68,230.01L364.91,230M356.68,229.1L356.45,236.92M355.92,240.5L356.42,245.88M371.22,227.21L378.73,226.9M377.79,229.29L383.81,228.54M371.76,235.96L372.42,245.07M370.18,228.66L370.8,236.48M385.9,226.4L388.2,226.32M383.81,228.28L385.92,228.83M383.81,227.37L383.3,235.67M383.09,237.74L383.48,246.48M288.06,244.43L296.56,243.28M281.12,247.83L287.61,247.01M277.16,245.39L273.2,245.4M281.12,247.83L277.16,247.84M281.12,246.6L281.15,254.91M280.33,253.83L280.22,262.45M296.56,244.19L304.39,244.59M304.54,246.36L310.99,246.54M296.08,252.88L295.42,263.61M296.58,245.16L294.9,257.56M319.89,245.16L325.82,245.3M310.99,247.41L317.11,246.84M310.99,246.19L311.06,252.89M312.25,255.58L312.4,262.92M325.82,244.2L332.88,243.98M334.76,247.18L341.62,247.1M325.92,255.32L326,263.32M326.32,245.75L326.52,252.54M348.99,245.08L356.18,245.47M341.62,246.57L350.26,246.52M341.62,245.63L341.79,253.21M342.23,256.02L343.86,262.54M356.18,244.63L363.71,244.35M364.11,246.37L372.42,245.58M356.11,256.92L356.07,264.17M358.03,245.88L357.08,257.23M377.06,244.29L382.63,244.79M372.42,246.25L376.86,246.69M372.42,245.07L372.41,253.2M373.54,251.88L374.26,261.85M382.63,245.13L385.17,244.27M385.56,247.44L388.2,247.08M382.86,254.26L383.14,263.45M381.66,246.48L382.06,253.62M281.17,260.95L287.5,261.56M289.44,265.16L295.42,266.04M281.17,260.95L277.19,261.09M277.19,264.1L273.2,264.25M281.01,270.91L280.79,282.16M282.85,262.45L280.88,275.71M302.71,262.47L311.17,262.55M295.42,264.82L304.14,263.99M295.42,263.61L296.38,271.99M296.45,275.73L297.56,281.82M311.17,261.91L319.15,261.65M319.66,263.78L326,263.66M311.22,272.7L311.26,280.87M310.39,262.92L311.22,268.97M334.59,261.92L342,261.76M326,264.54L334.82,263.67M326,263.32L325.98,272M325.48,271.4L323.97,280.76M342,261.23L349.72,261.99M348.38,264.25L356.07,264.72M341.17,273.74L340.64,280.91M340.86,262.54L340.44,269.05M365.69,261.52L372.4,260.51M356.07,265.35L365.53,264.11M356.07,264.17L357.01,274M356.35,276.11L356.95,281.69M372.4,260.71L378.15,261.87M377.33,264.05L383.14,265.31M372.3,271.43L372.17,282.61M372.51,261.85L371.69,275.49M385.41,262.32L388.2,262.86M383.14,265.02L385.86,264.74M383.14,263.45L383.47,273.82M382.53,270.71L383.75,280.52M288.21,280.44L297.51,279.72M280.79,283.3L288.87,283.49M276.99,281.22L273.2,281.43M280.79,283.3L276.99,283.5M297.51,280.77L304.32,279.95M303.48,282.05L311.26,280.99M319.99,280.26L325.95,280.55M311.26,281.89L319.94,281.65M325.95,279.74L332.01,279.81M333.61,281.83L340.64,281.87M350.01,280.65L357.75,281.31M340.64,281.95L350.74,282.96M357.75,280.25L365,280.97M364.49,283.77L372.17,284.5M377.83,280.01L383.68,278.57M372.17,283.82L377.01,282.94M383.68,279.14L385.6,279.08M386.12,281.58L388.2,281.32" stroke="#156777" stroke-width="2.2" fill="none" stroke-linecap="round"/>
<path d="M288.96,191.8L297.51,191.32M281.05,195.22L287.91,194.35M277.12,192.39L273.2,192.52M281.05,195.22L277.12,195.36M281.05,193.74L280.94,201.32M280.69,200.3L279.84,211.7M297.51,191.16L304.68,191.23M304.75,194.05L312.09,194.27M296.34,203.67L295.54,211.25M299.39,192.5L297.02,205.34M320.84,190.68L326.86,189.83M312.09,195.07L318.92,194.16M312.09,193.49L312.18,199.99M312.65,201.15L311.17,209.66M326.86,190.78L333.56,190.78M332.67,193.94L340.46,194.72M326.91,201.63L326.95,210.64M326.67,192.06L326.47,199.01M347.68,190.81L357.54,190.07M340.46,194.09L348.32,194.14M340.46,192.72L341.3,199.75M342.86,203.45L343.61,209.8M357.54,191.35L365.5,191.61M364.32,193.82L371.5,194.21M357.38,199.39L357.09,211.42M357.7,192.41L356.74,202.21M378.24,191.33L383.76,191.63M371.5,194.16L377.94,195.26M371.5,192.56L371.69,203.22M370.62,198.7L370.28,210.04M383.76,193.12L386.15,192.77M385.65,194.8L388.2,194.5M382.92,202.84L382.08,211.56M385.66,194.07L383.64,204.8M280.78,210.57L289.28,210.67M287.89,213.04L295.54,213.29M280.78,210.57L276.99,210.69M276.99,212.93L273.2,213.05M280.85,218.7L280.94,229.19M281.63,211.7L281.83,219.93M302.28,209.29L312.33,207.97M295.54,212.33L303.91,211.16M295.54,211.25L295.62,219.64M296.41,217.69L295.22,228.75M312.33,208.12L318.6,208.55M320.57,211.31L326.95,211.39M312.24,221.59L312.19,229.01M312.94,209.66L313.15,221.61M335.18,209.58L342.5,209.63M326.95,211.76L333.21,211.73M326.95,210.64L326.03,221.05M325.92,220.19L324.85,227.69M342.5,208.38L348.94,208.84M350.89,212L357.09,212.57M341.24,221.7L340.51,228.6M341.42,209.8L341.25,218.3M363.36,209.75L371.81,209.13M357.09,212.63L365.24,212.28M357.09,211.42L356.92,218.82M356.65,222.75L356.62,229.1M371.81,208.81L377.92,209.6M377.89,212.15L382.08,212.75M371.57,217.59L371.22,228.66M369.93,210.04L370.38,217.11M385.32,209.61L388.2,209.19M382.08,213.02L384.88,213.23M382.08,211.56L383,220M381.06,218.16L382.03,227.37M287.93,227.99L295.71,228.28M280.94,230.65L288.63,230.13M277.07,228.02L273.2,228.32M280.94,230.65L277.07,230.95M280.94,229.19L281.03,237.1M282.25,235.22L282.53,246.6M295.71,227.54L305.08,227.89M304.26,229.59L312.19,229.25M296.2,238.3L296.56,245.16M294.27,228.75L294.99,238.86M318.91,227.5L325.44,227.22M312.19,230.23L318.71,229.41M312.19,229.01L311.49,238.97M311.26,238.6L309.36,246.19M325.44,226.57L331.93,226.56M333.19,229.73L340.51,230.59M325.6,235.1L325.82,245.75M324.62,227.69L324.91,233.73M347.7,227.75L356.68,228.32M340.51,229.93L347.73,230M340.51,228.6L341.01,236.18M341.75,237.94L343.37,245.63M356.68,228.2L363.26,227.59M364.91,230L371.22,229.99M356.45,236.92L356.18,245.88M354.86,229.1L355.92,240.5M378.73,226.9L383.81,226.7M371.22,230.11L377.79,229.29M371.22,228.66L371.76,235.96M370.8,236.48L371.48,245.07M383.81,226.47L385.9,226.4M385.92,228.83L388.2,229.43M383.3,235.67L382.63,246.48M382.62,227.37L383.09,237.74M281.12,245.37L288.06,244.43M287.61,247.01L296.56,245.89M281.12,245.37L277.16,245.39M277.16,247.84L273.2,247.86M281.15,254.91L281.17,262.45M280.42,246.6L280.33,253.83M304.39,244.59L310.99,244.93M296.56,246.14L304.54,246.36M296.56,245.16L296.08,252.88M294.9,257.56L294.07,263.61M310.99,244.96L319.89,245.16M317.11,246.84L325.82,246.03M311.06,252.89L311.17,262.92M312.05,246.19L312.25,255.58M332.88,243.98L341.62,243.72M325.82,247.3L334.76,247.18M325.82,245.75L325.92,255.32M326.52,252.54L326.82,263.32M341.62,244.68L348.99,245.08M350.26,246.52L356.18,246.48M341.79,253.21L342,262.54M339.64,245.63L342.23,256.02M363.71,244.35L372.42,244.02M356.18,247.13L364.11,246.37M356.18,245.88L356.11,256.92M357.08,257.23L356.5,264.17M372.42,243.88L377.06,244.29M376.86,246.69L382.63,247.26M372.41,253.2L372.4,261.85M373.04,245.07L373.54,251.88M385.17,244.27L388.2,243.26M382.63,247.84L385.56,247.44M382.63,246.48L382.86,254.26M382.06,253.62L382.6,263.45M287.5,261.56L295.42,262.33M281.17,263.96L289.44,265.16M277.19,261.09L273.2,261.24M281.17,263.96L277.19,264.1M281.17,262.45L281.01,270.91M280.88,275.71L279.93,282.16M295.42,262.4L302.71,262.47M304.14,263.99L311.17,263.31M296.38,271.99L297.51,281.82M294.22,263.61L296.45,275.73M319.15,261.65L326,261.42M311.17,263.93L319.66,263.78M311.17,262.92L311.22,272.7M311.22,268.97L312.84,280.87M326,262.1L334.59,261.92M334.82,263.67L342,262.96M325.98,272L325.95,280.76M326.78,263.32L325.48,271.4M349.72,261.99L356.07,262.62M342,263.86L348.38,264.25M342,262.54L341.17,273.74M340.44,269.05L339.68,280.91M356.07,262.98L365.69,261.52M365.53,264.11L372.4,263.21M357.01,274L357.75,281.69M355.06,264.17L356.35,276.11M378.15,261.87L383.14,262.87M372.4,262.99L377.33,264.05M372.4,261.85L372.3,271.43M371.69,275.49L371.27,282.61M383.14,261.87L385.41,262.32M385.86,264.74L388.2,264.51M383.47,273.82L383.68,280.52M381.63,263.45L382.53,270.71M280.79,281.01L288.21,280.44M288.87,283.49L297.51,283.7M280.79,281.01L276.99,281.22M276.99,283.5L273.2,283.71M304.32,279.95L311.26,279.11M297.51,282.87L303.48,282.05M311.26,279.85L319.99,280.26M319.94,281.65L325.95,281.49M332.01,279.81L340.64,279.9M325.95,281.78L333.61,281.83M340.64,279.87L350.01,280.65M350.74,282.96L357.75,283.66M365,280.97L372.17,281.68M357.75,283.13L364.49,283.77M372.17,281.39L377.83,280.01M377.01,282.94L383.68,281.73M385.6,279.08L388.2,278.99M383.68,281.89L386.12,281.58" stroke="#cc1c26" stroke-width="2.0" fill="none" stroke-linecap="round"/>
<g fill="url(#gO)"><circle cx="279.26" cy="197.52" r="2.3"/><circle cx="296.29" cy="195.63" r="2.3"/><circle cx="310.12" cy="197.39" r="2.3"/><circle cx="328.8" cy="196.08" r="2.3"/><circle cx="338.49" cy="195.3" r="2.3"/><circle cx="357.7" cy="196.17" r="2.3"/><circle cx="373.32" cy="195.91" r="2.3"/><circle cx="385.18" cy="197.27" r="2.3"/><circle cx="279.31" cy="208.33" r="2.3"/><circle cx="294.61" cy="208.41" r="2.3"/><circle cx="311.48" cy="213.62" r="2.3"/><circle cx="326.4" cy="214.74" r="2.3"/><circle cx="344.23" cy="213.9" r="2.3"/><circle cx="359.02" cy="208.15" r="2.3"/><circle cx="373.38" cy="206.76" r="2.3"/><circle cx="382.22" cy="215.12" r="2.3"/><circle cx="280.38" cy="232.39" r="2.3"/><circle cx="296.37" cy="225.36" r="2.3"/><circle cx="310.38" cy="231.41" r="2.3"/><circle cx="326.59" cy="225.17" r="2.3"/><circle cx="340.79" cy="224.88" r="2.3"/><circle cx="355.36" cy="226.48" r="2.3"/><circle cx="372.11" cy="231.64" r="2.3"/><circle cx="383.84" cy="231.07" r="2.3"/><circle cx="282.05" cy="250.61" r="2.3"/><circle cx="298.56" cy="242.38" r="2.3"/><circle cx="310.61" cy="249.52" r="2.3"/><circle cx="327.65" cy="241.81" r="2.3"/><circle cx="341.47" cy="248.59" r="2.3"/><circle cx="357.56" cy="242.81" r="2.3"/><circle cx="373.6" cy="241.51" r="2.3"/><circle cx="382.22" cy="242.87" r="2.3"/><circle cx="281.83" cy="266.16" r="2.3"/><circle cx="295.65" cy="260.97" r="2.3"/><circle cx="311.35" cy="265.71" r="2.3"/><circle cx="327.89" cy="259.14" r="2.3"/><circle cx="342.81" cy="258.73" r="2.3"/><circle cx="357.83" cy="267.7" r="2.3"/><circle cx="371.38" cy="259.42" r="2.3"/><circle cx="382.46" cy="266.14" r="2.3"/><circle cx="279.15" cy="280.16" r="2.3"/><circle cx="298.99" cy="279.98" r="2.3"/><circle cx="311.38" cy="278.98" r="2.3"/><circle cx="324.74" cy="278.66" r="2.3"/><circle cx="340.98" cy="279.1" r="2.3"/><circle cx="356.32" cy="280.09" r="2.3"/><circle cx="372.39" cy="280.94" r="2.3"/><circle cx="384.28" cy="278.89" r="2.3"/></g>
<g fill="url(#gNi)"><circle cx="281.05" cy="193.74" r="4.8"/><circle cx="282.17" cy="196.71" r="4.8"/><circle cx="297.51" cy="192.5" r="4.8"/><circle cx="312.09" cy="193.49" r="4.8"/><circle cx="310.05" cy="191.28" r="4.8"/><circle cx="326.86" cy="192.06" r="4.8"/><circle cx="328.86" cy="194.74" r="4.8"/><circle cx="340.46" cy="192.72" r="4.8"/><circle cx="357.54" cy="192.41" r="4.8"/><circle cx="356.78" cy="195.49" r="4.8"/><circle cx="371.5" cy="192.56" r="4.8"/><circle cx="383.76" cy="194.07" r="4.8"/><circle cx="383.45" cy="190.27" r="4.8"/><circle cx="280.78" cy="211.7" r="4.8"/><circle cx="295.54" cy="211.25" r="4.8"/><circle cx="296.85" cy="208.61" r="4.8"/><circle cx="312.33" cy="209.66" r="4.8"/><circle cx="326.95" cy="210.64" r="4.8"/><circle cx="342.5" cy="209.8" r="4.8"/><circle cx="357.09" cy="211.42" r="4.8"/><circle cx="371.81" cy="210.04" r="4.8"/><circle cx="371.51" cy="212.22" r="4.8"/><circle cx="382.08" cy="211.56" r="4.8"/><circle cx="380.64" cy="208.55" r="4.8"/><circle cx="280.94" cy="229.19" r="4.8"/><circle cx="282.01" cy="233.07" r="4.8"/><circle cx="295.71" cy="228.75" r="4.8"/><circle cx="312.19" cy="229.01" r="4.8"/><circle cx="325.44" cy="227.69" r="4.8"/><circle cx="325.51" cy="230.52" r="4.8"/><circle cx="340.51" cy="228.6" r="4.8"/><circle cx="340.21" cy="231.34" r="4.8"/><circle cx="356.68" cy="229.1" r="4.8"/><circle cx="371.22" cy="228.66" r="4.8"/><circle cx="383.81" cy="227.37" r="4.8"/><circle cx="383.69" cy="231.3" r="4.8"/><circle cx="281.12" cy="246.6" r="4.8"/><circle cx="296.56" cy="245.16" r="4.8"/><circle cx="298.32" cy="248.59" r="4.8"/><circle cx="310.99" cy="246.19" r="4.8"/><circle cx="325.82" cy="245.75" r="4.8"/><circle cx="341.62" cy="245.63" r="4.8"/><circle cx="356.18" cy="245.88" r="4.8"/><circle cx="372.42" cy="245.07" r="4.8"/><circle cx="374.45" cy="242.29" r="4.8"/><circle cx="382.63" cy="246.48" r="4.8"/><circle cx="382.61" cy="242.98" r="4.8"/><circle cx="281.17" cy="262.45" r="4.8"/><circle cx="283.43" cy="258.83" r="4.8"/><circle cx="295.42" cy="263.61" r="4.8"/><circle cx="295.03" cy="266.13" r="4.8"/><circle cx="311.17" cy="262.92" r="4.8"/><circle cx="313.2" cy="259.94" r="4.8"/><circle cx="326" cy="263.32" r="4.8"/><circle cx="323.63" cy="260.67" r="4.8"/><circle cx="342" cy="262.54" r="4.8"/><circle cx="342.07" cy="258.76" r="4.8"/><circle cx="356.07" cy="264.17" r="4.8"/><circle cx="356.58" cy="267.44" r="4.8"/><circle cx="372.4" cy="261.85" r="4.8"/><circle cx="383.14" cy="263.45" r="4.8"/><circle cx="280.79" cy="282.16" r="4.8"/><circle cx="282.15" cy="279.64" r="4.8"/><circle cx="297.51" cy="281.82" r="4.8"/><circle cx="295.28" cy="279.7" r="4.8"/><circle cx="311.26" cy="280.87" r="4.8"/><circle cx="311.22" cy="277.57" r="4.8"/><circle cx="325.95" cy="280.76" r="4.8"/><circle cx="323.82" cy="278.71" r="4.8"/><circle cx="340.64" cy="280.91" r="4.8"/><circle cx="357.75" cy="281.69" r="4.8"/><circle cx="356.88" cy="284.25" r="4.8"/><circle cx="372.17" cy="282.61" r="4.8"/><circle cx="383.68" cy="280.52" r="4.8"/></g>
<g fill="url(#gO)"><circle cx="279.26" cy="197.52" r="2.0"/><circle cx="310.12" cy="197.39" r="2.0"/><circle cx="338.49" cy="195.3" r="2.0"/><circle cx="373.32" cy="195.91" r="2.0"/><circle cx="279.31" cy="208.33" r="2.0"/><circle cx="311.48" cy="213.62" r="2.0"/><circle cx="344.23" cy="213.9" r="2.0"/><circle cx="373.38" cy="206.76" r="2.0"/><circle cx="280.38" cy="232.39" r="2.0"/><circle cx="310.38" cy="231.41" r="2.0"/><circle cx="340.79" cy="224.88" r="2.0"/><circle cx="372.11" cy="231.64" r="2.0"/><circle cx="282.05" cy="250.61" r="2.0"/><circle cx="310.61" cy="249.52" r="2.0"/><circle cx="341.47" cy="248.59" r="2.0"/><circle cx="373.6" cy="241.51" r="2.0"/><circle cx="281.83" cy="266.16" r="2.0"/><circle cx="311.35" cy="265.71" r="2.0"/><circle cx="342.81" cy="258.73" r="2.0"/><circle cx="371.38" cy="259.42" r="2.0"/><circle cx="279.15" cy="280.16" r="2.0"/><circle cx="311.38" cy="278.98" r="2.0"/><circle cx="340.98" cy="279.1" r="2.0"/><circle cx="372.39" cy="280.94" r="2.0"/></g>
</g>
<g filter="url(#blur04)">
<line x1="217.2" y1="71.7" x2="217.5" y2="79.7" stroke="#8c8c8c" stroke-width="1.6"/>
<line x1="203.8" y1="80" x2="209.2" y2="85" stroke="#8c8c8c" stroke-width="1.6"/>
<line x1="217.5" y1="79.7" x2="209.2" y2="85" stroke="#8c8c8c" stroke-width="1.6"/>
<line x1="209.2" y1="85" x2="208.8" y2="97.2" stroke="#8c8c8c" stroke-width="1.6"/>
<line x1="208.8" y1="97.2" x2="215.8" y2="102.5" stroke="#8c8c8c" stroke-width="1.6"/>
<line x1="215.8" y1="102.5" x2="214.5" y2="113.3" stroke="#8c8c8c" stroke-width="1.6"/>
<line x1="214.5" y1="113.3" x2="206.7" y2="120" stroke="#8c8c8c" stroke-width="1.6"/>
<line x1="206.7" y1="120" x2="199.5" y2="115" stroke="#8c8c8c" stroke-width="1.6"/>
<line x1="199.5" y1="115" x2="200.8" y2="102.8" stroke="#8c8c8c" stroke-width="1.6"/>
<line x1="200.8" y1="102.8" x2="208.8" y2="97.2" stroke="#8c8c8c" stroke-width="1.6"/>
<line x1="200.8" y1="102.8" x2="195.8" y2="98.7" stroke="#8c8c8c" stroke-width="1.6"/>
<line x1="215.8" y1="102.5" x2="221.7" y2="97.8" stroke="#8c8c8c" stroke-width="1.6"/>
<line x1="214.5" y1="113.3" x2="219.2" y2="117.8" stroke="#8c8c8c" stroke-width="1.6"/>
<line x1="199.5" y1="115" x2="191.7" y2="121.7" stroke="#8c8c8c" stroke-width="1.6"/>
<line x1="191.7" y1="121.7" x2="183.7" y2="116.7" stroke="#8c8c8c" stroke-width="1.6"/>
<line x1="183.7" y1="116.7" x2="183.3" y2="110" stroke="#8c8c8c" stroke-width="1.6"/>
<line x1="183.7" y1="116.7" x2="185" y2="125.8" stroke="#8c8c8c" stroke-width="1.6"/>
<line x1="185" y1="125.8" x2="175.8" y2="126.7" stroke="#8c8c8c" stroke-width="1.6"/>
<line x1="175.8" y1="126.7" x2="167.5" y2="121.3" stroke="#8c8c8c" stroke-width="1.6"/>
<line x1="167.5" y1="121.3" x2="165.8" y2="111.7" stroke="#8c8c8c" stroke-width="1.6"/>
<line x1="167.5" y1="121.3" x2="162.2" y2="129.5" stroke="#8c8c8c" stroke-width="1.6"/>
<line x1="162.2" y1="129.5" x2="165" y2="136.7" stroke="#8c8c8c" stroke-width="1.6"/>
<line x1="175.8" y1="126.7" x2="176.3" y2="137.5" stroke="#8c8c8c" stroke-width="1.6"/>
<line x1="176.3" y1="137.5" x2="170.8" y2="143.3" stroke="#8c8c8c" stroke-width="1.6"/>
<line x1="176.3" y1="137.5" x2="184.2" y2="140" stroke="#8c8c8c" stroke-width="1.6"/>
<line x1="184.2" y1="140" x2="191.7" y2="131.7" stroke="#8c8c8c" stroke-width="1.6"/>
<line x1="191.7" y1="131.7" x2="191.7" y2="121.7" stroke="#8c8c8c" stroke-width="1.6"/>
<line x1="191.7" y1="131.7" x2="185" y2="125.8" stroke="#8c8c8c" stroke-width="1.6"/>
<line x1="206.7" y1="120" x2="204.5" y2="127.5" stroke="#8c8c8c" stroke-width="1.6"/>
<line x1="204.5" y1="127.5" x2="203.5" y2="135.5" stroke="#8c8c8c" stroke-width="1.6"/>
<line x1="203.5" y1="135.5" x2="213.3" y2="138.3" stroke="#8c8c8c" stroke-width="1.6"/>
<line x1="213.3" y1="138.3" x2="218" y2="141" stroke="#8c8c8c" stroke-width="1.6"/>
<line x1="218" y1="141" x2="222.5" y2="143" stroke="#8c8c8c" stroke-width="1.6"/>
<line x1="222.5" y1="143" x2="227" y2="145" stroke="#8c8c8c" stroke-width="1.6"/>
<line x1="227" y1="145" x2="231" y2="147.5" stroke="#8c8c8c" stroke-width="1.6"/>
<line x1="231" y1="147.5" x2="235" y2="149.5" stroke="#8c8c8c" stroke-width="1.6"/>
<line x1="235" y1="149.5" x2="239" y2="152" stroke="#8c8c8c" stroke-width="1.6"/>
<line x1="239" y1="152" x2="243.5" y2="154" stroke="#8c8c8c" stroke-width="1.6"/>
<line x1="243.5" y1="154" x2="242.5" y2="158.3" stroke="#8c8c8c" stroke-width="1.6"/>
<line x1="243.5" y1="154" x2="252.8" y2="156.2" stroke="#8c8c8c" stroke-width="1.6"/>
<line x1="242.5" y1="158.3" x2="248.5" y2="162" stroke="#8c8c8c" stroke-width="1.6"/>
<line x1="218" y1="141" x2="224" y2="140.5" stroke="#8c8c8c" stroke-width="1.6"/>
<line x1="224" y1="140.5" x2="229" y2="142.5" stroke="#8c8c8c" stroke-width="1.6"/>
<line x1="229" y1="142.5" x2="231" y2="147.5" stroke="#8c8c8c" stroke-width="1.6"/>
<line x1="235" y1="149.5" x2="234" y2="152" stroke="#8c8c8c" stroke-width="1.6"/>
<line x1="213.3" y1="138.3" x2="220" y2="146" stroke="#8c8c8c" stroke-width="1.6"/>
<line x1="203.5" y1="135.5" x2="197.5" y2="150" stroke="#8c8c8c" stroke-width="1.6"/>
<line x1="197.5" y1="150" x2="196.5" y2="157.5" stroke="#8c8c8c" stroke-width="1.6"/>
<line x1="196.5" y1="157.5" x2="195.5" y2="165" stroke="#8c8c8c" stroke-width="1.6"/>
<circle cx="217.2" cy="71.7" r="1.3" fill="#f6f6f6" stroke="#cfcfcf" stroke-width="0.7"/>
<circle cx="203.8" cy="80" r="1.8" fill="#e86a6a" stroke="#cf1a1a" stroke-width="1.25"/>
<circle cx="217.5" cy="79.7" r="1.8" fill="#e86a6a" stroke="#cf1a1a" stroke-width="1.25"/>
<circle cx="209.2" cy="85" r="1.5" fill="#e6e6e6" stroke="#7b7b7b" stroke-width="1.1"/>
<circle cx="208.8" cy="97.2" r="1.5" fill="#e6e6e6" stroke="#7b7b7b" stroke-width="1.1"/>
<circle cx="215.8" cy="102.5" r="1.5" fill="#e6e6e6" stroke="#7b7b7b" stroke-width="1.1"/>
<circle cx="214.5" cy="113.3" r="1.5" fill="#e6e6e6" stroke="#7b7b7b" stroke-width="1.1"/>
<circle cx="206.7" cy="120" r="1.9" fill="#3a48c4" stroke="#2a38b4" stroke-width="0.9"/>
<circle cx="199.5" cy="115" r="1.5" fill="#e6e6e6" stroke="#7b7b7b" stroke-width="1.1"/>
<circle cx="200.8" cy="102.8" r="1.5" fill="#e6e6e6" stroke="#7b7b7b" stroke-width="1.1"/>
<circle cx="195.8" cy="98.7" r="1.3" fill="#f6f6f6" stroke="#cfcfcf" stroke-width="0.7"/>
<circle cx="221.7" cy="97.8" r="1.3" fill="#f6f6f6" stroke="#cfcfcf" stroke-width="0.7"/>
<circle cx="219.2" cy="117.8" r="1.3" fill="#f6f6f6" stroke="#cfcfcf" stroke-width="0.7"/>
<circle cx="191.7" cy="121.7" r="1.5" fill="#e6e6e6" stroke="#7b7b7b" stroke-width="1.1"/>
<circle cx="183.7" cy="116.7" r="1.5" fill="#e6e6e6" stroke="#7b7b7b" stroke-width="1.1"/>
<circle cx="183.3" cy="110" r="1.3" fill="#f6f6f6" stroke="#cfcfcf" stroke-width="0.7"/>
<circle cx="177" cy="120.8" r="2.5" fill="#f2df1e" stroke="#d8c010" stroke-width="0.4"/>
<circle cx="167.5" cy="121.3" r="1.5" fill="#e6e6e6" stroke="#7b7b7b" stroke-width="1.1"/>
<circle cx="165.8" cy="111.7" r="1.8" fill="#e86a6a" stroke="#cf1a1a" stroke-width="1.25"/>
<circle cx="162.2" cy="129.5" r="1.8" fill="#e86a6a" stroke="#cf1a1a" stroke-width="1.25"/>
<circle cx="165" cy="136.7" r="1.3" fill="#f6f6f6" stroke="#cfcfcf" stroke-width="0.7"/>
<circle cx="175.8" cy="126.7" r="1.5" fill="#e6e6e6" stroke="#7b7b7b" stroke-width="1.1"/>
<circle cx="176.3" cy="137.5" r="1.5" fill="#e6e6e6" stroke="#7b7b7b" stroke-width="1.1"/>
<circle cx="170.8" cy="143.3" r="1.3" fill="#f6f6f6" stroke="#cfcfcf" stroke-width="0.7"/>
<circle cx="184.2" cy="140" r="1.5" fill="#e6e6e6" stroke="#7b7b7b" stroke-width="1.1"/>
<circle cx="191.7" cy="131.7" r="1.9" fill="#3a48c4" stroke="#2a38b4" stroke-width="0.9"/>
<circle cx="185" cy="125.8" r="1.5" fill="#e6e6e6" stroke="#7b7b7b" stroke-width="1.1"/>
<circle cx="204.5" cy="127.5" r="1.9" fill="#3a48c4" stroke="#2a38b4" stroke-width="0.9"/>
<circle cx="203.5" cy="135.5" r="1.5" fill="#e6e6e6" stroke="#7b7b7b" stroke-width="1.1"/>
<circle cx="213.3" cy="138.3" r="1.5" fill="#e6e6e6" stroke="#7b7b7b" stroke-width="1.1"/>
<circle cx="218" cy="141" r="1.5" fill="#e6e6e6" stroke="#7b7b7b" stroke-width="1.1"/>
<circle cx="222.5" cy="143" r="1.5" fill="#e6e6e6" stroke="#7b7b7b" stroke-width="1.1"/>
<circle cx="227" cy="145" r="1.5" fill="#e6e6e6" stroke="#7b7b7b" stroke-width="1.1"/>
<circle cx="231" cy="147.5" r="1.5" fill="#e6e6e6" stroke="#7b7b7b" stroke-width="1.1"/>
<circle cx="235" cy="149.5" r="1.5" fill="#e6e6e6" stroke="#7b7b7b" stroke-width="1.1"/>
<circle cx="239" cy="152" r="1.5" fill="#e6e6e6" stroke="#7b7b7b" stroke-width="1.1"/>
<circle cx="243.5" cy="154" r="1.5" fill="#e6e6e6" stroke="#7b7b7b" stroke-width="1.1"/>
<circle cx="242.5" cy="158.3" r="1.8" fill="#e86a6a" stroke="#cf1a1a" stroke-width="1.25"/>
<circle cx="252.8" cy="156.2" r="1.8" fill="#e86a6a" stroke="#cf1a1a" stroke-width="1.25"/>
<circle cx="248.5" cy="162" r="1.3" fill="#f6f6f6" stroke="#cfcfcf" stroke-width="0.7"/>
<circle cx="224" cy="140.5" r="1.5" fill="#e6e6e6" stroke="#7b7b7b" stroke-width="1.1"/>
<circle cx="229" cy="142.5" r="1.5" fill="#e6e6e6" stroke="#7b7b7b" stroke-width="1.1"/>
<circle cx="234" cy="152" r="1.5" fill="#e6e6e6" stroke="#7b7b7b" stroke-width="1.1"/>
<circle cx="220" cy="146" r="1.3" fill="#f6f6f6" stroke="#cfcfcf" stroke-width="0.7"/>
<circle cx="197.5" cy="150" r="1.9" fill="#3a48c4" stroke="#2a38b4" stroke-width="0.9"/>
<circle cx="196.5" cy="157.5" r="1.5" fill="#e6e6e6" stroke="#7b7b7b" stroke-width="1.1"/>
<circle cx="195.5" cy="165" r="1.9" fill="#3a48c4" stroke="#2a38b4" stroke-width="0.9"/>
<line x1="193.3" y1="176.3" x2="196" y2="166" stroke="#e8d820" stroke-width="1.3"/><line x1="193.3" y1="176.3" x2="186" y2="180" stroke="#e8d820" stroke-width="1.3"/><line x1="193.3" y1="176.3" x2="197" y2="181.5" stroke="#e8d820" stroke-width="1.3"/>
<line x1="328.4" y1="54.4" x2="326.8" y2="62.3" stroke="#8c8c8c" stroke-width="1.6"/>
<line x1="326.8" y1="62.3" x2="333.2" y2="67.4" stroke="#8c8c8c" stroke-width="1.6"/>
<line x1="339.2" y1="62" x2="333.2" y2="67.4" stroke="#8c8c8c" stroke-width="1.6"/>
<line x1="333.2" y1="67.4" x2="332.6" y2="79.1" stroke="#8c8c8c" stroke-width="1.6"/>
<line x1="332.6" y1="79.1" x2="338.8" y2="85.5" stroke="#8c8c8c" stroke-width="1.6"/>
<line x1="338.8" y1="85.5" x2="338.4" y2="96.6" stroke="#8c8c8c" stroke-width="1.6"/>
<line x1="338.4" y1="96.6" x2="331.4" y2="102.6" stroke="#8c8c8c" stroke-width="1.6"/>
<line x1="331.4" y1="102.6" x2="325.4" y2="96.3" stroke="#8c8c8c" stroke-width="1.6"/>
<line x1="325.4" y1="96.3" x2="325.4" y2="85.5" stroke="#8c8c8c" stroke-width="1.6"/>
<line x1="325.4" y1="85.5" x2="332.6" y2="79.1" stroke="#8c8c8c" stroke-width="1.6"/>
<line x1="325.4" y1="85.5" x2="320.8" y2="80.9" stroke="#8c8c8c" stroke-width="1.6"/>
<line x1="338.8" y1="85.5" x2="344.4" y2="81.3" stroke="#8c8c8c" stroke-width="1.6"/>
<line x1="325.4" y1="96.3" x2="320.6" y2="101.4" stroke="#8c8c8c" stroke-width="1.6"/>
<line x1="338.4" y1="96.6" x2="344.4" y2="104.4" stroke="#8c8c8c" stroke-width="1.6"/>
<line x1="344.4" y1="104.4" x2="351.6" y2="100.2" stroke="#8c8c8c" stroke-width="1.6"/>
<line x1="351.6" y1="100.2" x2="352.8" y2="92" stroke="#8c8c8c" stroke-width="1.6"/>
<line x1="351.6" y1="100.2" x2="356.7" y2="108.4" stroke="#8c8c8c" stroke-width="1.6"/>
<line x1="356.7" y1="108.4" x2="364.1" y2="103.8" stroke="#8c8c8c" stroke-width="1.6"/>
<line x1="364.1" y1="103.8" x2="366.3" y2="94.4" stroke="#8c8c8c" stroke-width="1.6"/>
<line x1="364.1" y1="103.8" x2="367.7" y2="112.2" stroke="#8c8c8c" stroke-width="1.6"/>
<line x1="367.7" y1="112.2" x2="372.3" y2="108.8" stroke="#8c8c8c" stroke-width="1.6"/>
<line x1="344.4" y1="104.4" x2="342.8" y2="115.2" stroke="#8c8c8c" stroke-width="1.6"/>
<line x1="342.8" y1="115.2" x2="354.3" y2="120" stroke="#8c8c8c" stroke-width="1.6"/>
<line x1="354.3" y1="120" x2="356.7" y2="108.4" stroke="#8c8c8c" stroke-width="1.6"/>
<line x1="354.3" y1="120" x2="358.5" y2="125.7" stroke="#8c8c8c" stroke-width="1.6"/>
<line x1="354.3" y1="120" x2="363.6" y2="116.1" stroke="#8c8c8c" stroke-width="1.6"/>
<line x1="313.3" y1="114.6" x2="315.1" y2="106" stroke="#8c8c8c" stroke-width="1.6"/>
<line x1="313.3" y1="114.6" x2="304.9" y2="117.6" stroke="#8c8c8c" stroke-width="1.6"/>
<line x1="304.9" y1="117.6" x2="300.1" y2="111" stroke="#8c8c8c" stroke-width="1.6"/>
<line x1="304.9" y1="117.6" x2="302.5" y2="129.1" stroke="#8c8c8c" stroke-width="1.6"/>
<line x1="302.5" y1="129.1" x2="293.5" y2="132.7" stroke="#8c8c8c" stroke-width="1.6"/>
<line x1="293.5" y1="132.7" x2="288.1" y2="124" stroke="#8c8c8c" stroke-width="1.6"/>
<line x1="288.1" y1="124" x2="282.6" y2="127.3" stroke="#8c8c8c" stroke-width="1.6"/>
<line x1="293.5" y1="132.7" x2="291.7" y2="142.5" stroke="#8c8c8c" stroke-width="1.6"/>
<line x1="313.3" y1="114.6" x2="318.1" y2="121.8" stroke="#8c8c8c" stroke-width="1.6"/>
<line x1="318.1" y1="121.8" x2="318.5" y2="133" stroke="#8c8c8c" stroke-width="1.6"/>
<line x1="318.5" y1="133" x2="309.1" y2="137.5" stroke="#8c8c8c" stroke-width="1.6"/>
<line x1="309.1" y1="137.5" x2="302.5" y2="129.1" stroke="#8c8c8c" stroke-width="1.6"/>
<line x1="332.6" y1="134.7" x2="324.8" y2="140.7" stroke="#8c8c8c" stroke-width="1.6"/>
<line x1="332.6" y1="134.7" x2="340.4" y2="141.5" stroke="#8c8c8c" stroke-width="1.6"/>
<line x1="324.8" y1="140.7" x2="324.2" y2="152.1" stroke="#8c8c8c" stroke-width="1.6"/>
<line x1="340.4" y1="141.5" x2="340.4" y2="152.7" stroke="#8c8c8c" stroke-width="1.6"/>
<line x1="324.2" y1="152.1" x2="331.4" y2="158.7" stroke="#8c8c8c" stroke-width="1.6"/>
<line x1="340.4" y1="152.7" x2="331.4" y2="158.7" stroke="#8c8c8c" stroke-width="1.6"/>
<line x1="331.4" y1="158.7" x2="331" y2="170.5" stroke="#8c8c8c" stroke-width="1.6"/>
<line x1="331" y1="170.5" x2="322.4" y2="175" stroke="#8c8c8c" stroke-width="1.6"/>
<line x1="331" y1="170.5" x2="336.8" y2="175.6" stroke="#8c8c8c" stroke-width="1.6"/>
<line x1="331.4" y1="102.6" x2="331.4" y2="110.5" stroke="#8c8c8c" stroke-width="1.6"/>
<line x1="331.4" y1="110.5" x2="331.8" y2="124" stroke="#8c8c8c" stroke-width="1.6"/>
<line x1="331.8" y1="124" x2="332.6" y2="134.7" stroke="#8c8c8c" stroke-width="1.6"/>
<line x1="342.8" y1="115.2" x2="331.8" y2="124" stroke="#8c8c8c" stroke-width="1.6"/>
<line x1="318.1" y1="121.8" x2="331.8" y2="124" stroke="#8c8c8c" stroke-width="1.6"/>
<circle cx="328.4" cy="54.4" r="1.3" fill="#f6f6f6" stroke="#cfcfcf" stroke-width="0.7"/>
<circle cx="326.8" cy="62.3" r="1.8" fill="#e86a6a" stroke="#cf1a1a" stroke-width="1.25"/>
<circle cx="339.2" cy="62" r="1.8" fill="#e86a6a" stroke="#cf1a1a" stroke-width="1.25"/>
<circle cx="333.2" cy="67.4" r="1.5" fill="#e6e6e6" stroke="#7b7b7b" stroke-width="1.1"/>
<circle cx="332.6" cy="79.1" r="1.5" fill="#e6e6e6" stroke="#7b7b7b" stroke-width="1.1"/>
<circle cx="338.8" cy="85.5" r="1.5" fill="#e6e6e6" stroke="#7b7b7b" stroke-width="1.1"/>
<circle cx="338.4" cy="96.6" r="1.5" fill="#e6e6e6" stroke="#7b7b7b" stroke-width="1.1"/>
<circle cx="331.4" cy="102.6" r="1.9" fill="#3a48c4" stroke="#2a38b4" stroke-width="0.9"/>
<circle cx="325.4" cy="96.3" r="1.5" fill="#e6e6e6" stroke="#7b7b7b" stroke-width="1.1"/>
<circle cx="325.4" cy="85.5" r="1.5" fill="#e6e6e6" stroke="#7b7b7b" stroke-width="1.1"/>
<circle cx="320.8" cy="80.9" r="1.3" fill="#f6f6f6" stroke="#cfcfcf" stroke-width="0.7"/>
<circle cx="344.4" cy="81.3" r="1.3" fill="#f6f6f6" stroke="#cfcfcf" stroke-width="0.7"/>
<circle cx="320.6" cy="101.4" r="1.3" fill="#f6f6f6" stroke="#cfcfcf" stroke-width="0.7"/>
<circle cx="344.4" cy="104.4" r="1.5" fill="#e6e6e6" stroke="#7b7b7b" stroke-width="1.1"/>
<circle cx="351.6" cy="100.2" r="1.5" fill="#e6e6e6" stroke="#7b7b7b" stroke-width="1.1"/>
<circle cx="352.8" cy="92" r="1.3" fill="#f6f6f6" stroke="#cfcfcf" stroke-width="0.7"/>
<circle cx="356.7" cy="108.4" r="1.5" fill="#e6e6e6" stroke="#7b7b7b" stroke-width="1.1"/>
<circle cx="364.1" cy="103.8" r="1.5" fill="#e6e6e6" stroke="#7b7b7b" stroke-width="1.1"/>
<circle cx="366.3" cy="94.4" r="1.8" fill="#e86a6a" stroke="#cf1a1a" stroke-width="1.25"/>
<circle cx="367.7" cy="112.2" r="1.8" fill="#e86a6a" stroke="#cf1a1a" stroke-width="1.25"/>
<circle cx="372.3" cy="108.8" r="1.3" fill="#f6f6f6" stroke="#cfcfcf" stroke-width="0.7"/>
<circle cx="342.8" cy="115.2" r="1.9" fill="#3a48c4" stroke="#2a38b4" stroke-width="0.9"/>
<circle cx="354.3" cy="120" r="1.5" fill="#e6e6e6" stroke="#7b7b7b" stroke-width="1.1"/>
<circle cx="363.6" cy="116.1" r="2.5" fill="#f2df1e" stroke="#d8c010" stroke-width="0.4"/>
<circle cx="358.5" cy="125.7" r="1.3" fill="#f6f6f6" stroke="#cfcfcf" stroke-width="0.7"/>
<circle cx="313.3" cy="114.6" r="1.5" fill="#e6e6e6" stroke="#7b7b7b" stroke-width="1.1"/>
<circle cx="315.1" cy="106" r="1.3" fill="#f6f6f6" stroke="#cfcfcf" stroke-width="0.7"/>
<circle cx="304.9" cy="117.6" r="1.5" fill="#e6e6e6" stroke="#7b7b7b" stroke-width="1.1"/>
<circle cx="300.1" cy="111" r="1.3" fill="#f6f6f6" stroke="#cfcfcf" stroke-width="0.7"/>
<circle cx="306.7" cy="124.9" r="2.5" fill="#f2df1e" stroke="#d8c010" stroke-width="0.4"/>
<circle cx="302.5" cy="129.1" r="1.5" fill="#e6e6e6" stroke="#7b7b7b" stroke-width="1.1"/>
<circle cx="293.5" cy="132.7" r="1.5" fill="#e6e6e6" stroke="#7b7b7b" stroke-width="1.1"/>
<circle cx="288.1" cy="124" r="1.8" fill="#e86a6a" stroke="#cf1a1a" stroke-width="1.25"/>
<circle cx="282.6" cy="127.3" r="1.3" fill="#f6f6f6" stroke="#cfcfcf" stroke-width="0.7"/>
<circle cx="318.1" cy="121.8" r="1.9" fill="#3a48c4" stroke="#2a38b4" stroke-width="0.9"/>
<circle cx="291.7" cy="142.5" r="1.8" fill="#e86a6a" stroke="#cf1a1a" stroke-width="1.25"/>
<circle cx="309.1" cy="137.5" r="1.5" fill="#e6e6e6" stroke="#7b7b7b" stroke-width="1.1"/>
<circle cx="318.5" cy="133" r="1.5" fill="#e6e6e6" stroke="#7b7b7b" stroke-width="1.1"/>
<circle cx="332.6" cy="134.7" r="1.9" fill="#3a48c4" stroke="#2a38b4" stroke-width="0.9"/>
<circle cx="324.8" cy="140.7" r="1.5" fill="#e6e6e6" stroke="#7b7b7b" stroke-width="1.1"/>
<circle cx="340.4" cy="141.5" r="1.5" fill="#e6e6e6" stroke="#7b7b7b" stroke-width="1.1"/>
<circle cx="324.2" cy="152.1" r="1.5" fill="#e6e6e6" stroke="#7b7b7b" stroke-width="1.1"/>
<circle cx="340.4" cy="152.7" r="1.5" fill="#e6e6e6" stroke="#7b7b7b" stroke-width="1.1"/>
<circle cx="331.4" cy="158.7" r="1.5" fill="#e6e6e6" stroke="#7b7b7b" stroke-width="1.1"/>
<circle cx="331" cy="170.5" r="1.5" fill="#e6e6e6" stroke="#7b7b7b" stroke-width="1.1"/>
<circle cx="322.4" cy="175" r="1.8" fill="#e86a6a" stroke="#cf1a1a" stroke-width="1.25"/>
<circle cx="336.8" cy="175.6" r="1.8" fill="#e86a6a" stroke="#cf1a1a" stroke-width="1.25"/>
<circle cx="331.4" cy="110.5" r="1.5" fill="#e6e6e6" stroke="#7b7b7b" stroke-width="1.1"/>
<circle cx="345.8" cy="135.3" r="1.3" fill="#f6f6f6" stroke="#cfcfcf" stroke-width="0.7"/>
<circle cx="331.8" cy="124" r="1.5" fill="#e6e6e6" stroke="#7b7b7b" stroke-width="1.1"/>
</g>
<g filter="url(#blur06)">
<ellipse cx="206.5" cy="122" rx="3.6" ry="3.2" fill="#5a5cc8" opacity="0.72"/>
<ellipse cx="203.3" cy="136.7" rx="4.2" ry="3.6" fill="#e0615c" opacity="0.72"/>
<ellipse cx="197.5" cy="138.3" rx="3.2" ry="2.6" fill="#5a5cc8" opacity="0.72"/>
<ellipse cx="213.3" cy="137.8" rx="4" ry="3" fill="#5a5cc8" opacity="0.72"/>
<ellipse cx="209" cy="131" rx="3" ry="2.4" fill="#5a5cc8" opacity="0.72"/>
<ellipse cx="185" cy="150.3" rx="3.4" ry="3" fill="#5a5cc8" opacity="0.72"/>
<ellipse cx="195.3" cy="150.5" rx="5.6" ry="5.2" fill="#e0615c" opacity="0.72"/>
<ellipse cx="196" cy="160.8" rx="6.8" ry="3.8" fill="#5a5cc8" opacity="0.72"/>
<ellipse cx="184.5" cy="143" rx="2.6" ry="2.4" fill="#e0615c" opacity="0.72"/>
<ellipse cx="206" cy="143" rx="3" ry="2.2" fill="#5a5cc8" opacity="0.72"/>
<ellipse cx="197.5" cy="173.5" rx="12" ry="9.5" fill="#e0615c" opacity="0.72"/>
<ellipse cx="181" cy="173.3" rx="7" ry="6.2" fill="#5a5cc8" opacity="0.72"/>
<ellipse cx="170" cy="180" rx="4.6" ry="4.6" fill="#e0615c" opacity="0.72"/>
<ellipse cx="203.8" cy="182" rx="8" ry="6" fill="#5a5cc8" opacity="0.72"/>
<ellipse cx="190" cy="184" rx="9" ry="6" fill="#8a2a6c" opacity="0.8"/>
<ellipse cx="199" cy="190" rx="8" ry="5" fill="#8a2a6c" opacity="0.8"/>
<ellipse cx="168" cy="191" rx="3.5" ry="3.5" fill="#5a5cc8" opacity="0.72"/>
<ellipse cx="212" cy="187" rx="4" ry="3" fill="#5a5cc8" opacity="0.72"/>
<ellipse cx="189" cy="196" rx="3" ry="3" fill="#5a5cc8" opacity="0.72"/>
<ellipse cx="196" cy="203" rx="2.5" ry="2.5" fill="#5a5cc8" opacity="0.72"/>
<ellipse cx="209.5" cy="219.5" rx="2" ry="2" fill="#5a5cc8" opacity="0.72"/>
<ellipse cx="255.5" cy="184" rx="2" ry="2" fill="#5a5cc8" opacity="0.72"/>
<ellipse cx="200.5" cy="198" rx="3" ry="3" fill="#e0615c" opacity="0.72"/>
</g>
<circle cx="193.3" cy="176.3" r="2.8" fill="#f5e21c"/>
<g filter="url(#blur06)">
<ellipse cx="301.3" cy="121.8" rx="5" ry="5" fill="#5a5cc8" opacity="0.72"/>
<ellipse cx="318" cy="119.5" rx="4.5" ry="4" fill="#5a5cc8" opacity="0.72"/>
<ellipse cx="326" cy="116" rx="4" ry="4" fill="#5a5cc8" opacity="0.72"/>
<ellipse cx="331.4" cy="117" rx="4" ry="5" fill="#e0615c" opacity="0.72"/>
<ellipse cx="338" cy="121" rx="4.5" ry="4.5" fill="#5a5cc8" opacity="0.72"/>
<ellipse cx="345.5" cy="117.5" rx="3.5" ry="3.5" fill="#2d3bb8" opacity="0.85"/>
<ellipse cx="366.3" cy="120" rx="4.8" ry="4.8" fill="#5a5cc8" opacity="0.72"/>
<ellipse cx="359" cy="113.5" rx="3.6" ry="3.6" fill="#5a5cc8" opacity="0.72"/>
<ellipse cx="322" cy="125" rx="4" ry="3.5" fill="#5a5cc8" opacity="0.72"/>
<ellipse cx="330" cy="124.5" rx="3.5" ry="4" fill="#8a2a6c" opacity="0.8"/>
<ellipse cx="342" cy="127" rx="3" ry="3" fill="#5a5cc8" opacity="0.72"/>
<ellipse cx="350" cy="122" rx="3" ry="3" fill="#5a5cc8" opacity="0.72"/>
<ellipse cx="291.7" cy="142.5" rx="4.2" ry="3.2" fill="#5a5cc8" opacity="0.72"/>
<ellipse cx="307.9" cy="146.1" rx="2.4" ry="2.4" fill="#5a5cc8" opacity="0.72"/>
<ellipse cx="309.1" cy="137" rx="2.4" ry="2" fill="#e0615c" opacity="0.72"/>
<ellipse cx="318.5" cy="134" rx="3.5" ry="3.5" fill="#5a5cc8" opacity="0.72"/>
<ellipse cx="346" cy="135.5" rx="2.6" ry="2.6" fill="#e0615c" opacity="0.72"/>
<ellipse cx="332.6" cy="136" rx="4.6" ry="3.4" fill="#e0615c" opacity="0.72"/>
<ellipse cx="332.6" cy="133" rx="2.6" ry="2.6" fill="#2d3bb8" opacity="0.85"/>
<ellipse cx="324.8" cy="141.5" rx="3.8" ry="2.8" fill="#5a5cc8" opacity="0.72"/>
<ellipse cx="340.4" cy="142" rx="3.8" ry="2.8" fill="#5a5cc8" opacity="0.72"/>
<ellipse cx="324.5" cy="145.5" rx="2.4" ry="1.6" fill="#e0615c" opacity="0.72"/>
<ellipse cx="340.5" cy="146" rx="2.4" ry="1.6" fill="#e0615c" opacity="0.72"/>
<ellipse cx="331.4" cy="152.1" rx="7" ry="3.2" fill="#e0615c" opacity="0.72"/>
<ellipse cx="324.2" cy="152.1" rx="3.6" ry="3.2" fill="#5a5cc8" opacity="0.72"/>
<ellipse cx="340.4" cy="152.7" rx="3.6" ry="3.2" fill="#5a5cc8" opacity="0.72"/>
<ellipse cx="318.1" cy="158.1" rx="3.2" ry="2" fill="#5a5cc8" opacity="0.72"/>
<ellipse cx="344.6" cy="158.7" rx="3.2" ry="2" fill="#5a5cc8" opacity="0.72"/>
<ellipse cx="331.4" cy="160.8" rx="7.4" ry="6.2" fill="#5a5cc8" opacity="0.72"/>
<ellipse cx="330.2" cy="169.5" rx="13.5" ry="6" fill="#e0615c" opacity="0.72"/>
<ellipse cx="319.5" cy="172.6" rx="3.5" ry="3" fill="#5a5cc8" opacity="0.72"/>
<ellipse cx="342.5" cy="173" rx="3.5" ry="3" fill="#5a5cc8" opacity="0.72"/>
<ellipse cx="327.8" cy="185" rx="22" ry="11.5" fill="#e0615c" opacity="0.72"/>
<ellipse cx="331" cy="180" rx="7" ry="9" fill="#8a2a6c" opacity="0.8"/>
<ellipse cx="321" cy="186" rx="6" ry="4" fill="#5a5cc8" opacity="0.72"/>
<ellipse cx="344" cy="188" rx="6" ry="4" fill="#5a5cc8" opacity="0.72"/>
<ellipse cx="332" cy="199" rx="10" ry="4" fill="#e0615c" opacity="0.72"/>
<ellipse cx="331" cy="203" rx="6" ry="3" fill="#5a5cc8" opacity="0.72"/>
<ellipse cx="309.1" cy="129.7" rx="4.8" ry="4.8" fill="#d01822" opacity="0.95"/>
</g>
<circle cx="322.4" cy="175" r="1.9" fill="#e04040" stroke="#c01010" stroke-width="1"/><circle cx="336.8" cy="175.6" r="1.9" fill="#e04040" stroke="#c01010" stroke-width="1"/>
<text x="207.6" y="48.2" font-size="14.3" text-anchor="middle" fill="#222" stroke="#222" stroke-width="0.35">-1.87 eV</text>
<text x="328.9" y="48.2" font-size="14.3" text-anchor="middle" fill="#222" stroke="#222" stroke-width="0.35">-2.87 eV</text>
<text transform="translate(217.4,178.8) scale(0.97,1)" font-size="12.8" text-anchor="start" fill="#222" stroke="#222" stroke-width="0.35">–SCN</text>
<text transform="translate(343.4,173.2) scale(0.98,1)" font-size="12.8" text-anchor="start" fill="#222" stroke="#222" stroke-width="0.35">–COO</text>
<path d="M419.1,279.6 V33.0 H511.9 V279.6" fill="none" stroke="#8f8f8f" stroke-width="1.25"/>
<path d="M539.4,279.9 V33.0 H632.5 V279.9" fill="none" stroke="#8f8f8f" stroke-width="1.25"/>
<clipPath id="clipR21"><rect x="400" y="0" width="121.8" height="300"/></clipPath><clipPath id="clipR22"><rect x="520" y="0" width="122.8" height="300"/></clipPath>
<g filter="url(#blur04)">
<line x1="408.5" y1="51.5" x2="520.8" y2="51.5" stroke="#3b3b42" stroke-width="1.3"/><line x1="408.5" y1="85.2" x2="520.8" y2="85.2" stroke="#3b3b42" stroke-width="1.3"/><line x1="408.5" y1="119" x2="520.8" y2="119" stroke="#3b3b42" stroke-width="1.3"/><line x1="408.5" y1="153.2" x2="520.8" y2="153.2" stroke="#3b3b42" stroke-width="1.3"/><line x1="408.5" y1="186.9" x2="520.8" y2="186.9" stroke="#3b3b42" stroke-width="1.3"/><line x1="419.3" y1="51.5" x2="418.56" y2="67.7" stroke="#3b3b42" stroke-width="1.25"/><line x1="418.56" y1="67.7" x2="419.3" y2="85.2" stroke="#3b3b42" stroke-width="1.25"/><line x1="420.2" y1="53.5" x2="419.16" y2="67.7" stroke="#8b1d8c" stroke-width="0.9" opacity="0.8"/><line x1="418.86" y1="67.7" x2="419.9" y2="76.7" stroke="#8b1d8c" stroke-width="0.9" opacity="0.8"/><line x1="419.3" y1="85.2" x2="419.32" y2="101.7" stroke="#3b3b42" stroke-width="1.25"/><line x1="419.32" y1="101.7" x2="419.3" y2="119" stroke="#3b3b42" stroke-width="1.25"/><line x1="420.2" y1="87.2" x2="419.92" y2="101.7" stroke="#8b1d8c" stroke-width="0.9" opacity="0.8"/><line x1="419.62" y1="101.7" x2="419.9" y2="110.7" stroke="#8b1d8c" stroke-width="0.9" opacity="0.8"/><line x1="419.3" y1="119" x2="419.65" y2="135.9" stroke="#3b3b42" stroke-width="1.25"/><line x1="419.65" y1="135.9" x2="419.3" y2="153.2" stroke="#3b3b42" stroke-width="1.25"/><line x1="420.2" y1="121" x2="420.25" y2="135.9" stroke="#8b1d8c" stroke-width="0.9" opacity="0.8"/><line x1="419.95" y1="135.9" x2="419.9" y2="144.9" stroke="#8b1d8c" stroke-width="0.9" opacity="0.8"/><line x1="419.3" y1="153.2" x2="419.59" y2="169.9" stroke="#3b3b42" stroke-width="1.25"/><line x1="419.59" y1="169.9" x2="419.3" y2="186.9" stroke="#3b3b42" stroke-width="1.25"/><line x1="420.2" y1="155.2" x2="420.19" y2="169.9" stroke="#8b1d8c" stroke-width="0.9" opacity="0.8"/><line x1="419.89" y1="169.9" x2="419.9" y2="178.9" stroke="#8b1d8c" stroke-width="0.9" opacity="0.8"/><line x1="442.1" y1="51.5" x2="441.91" y2="67.7" stroke="#3b3b42" stroke-width="1.25"/><line x1="441.91" y1="67.7" x2="442.1" y2="85.2" stroke="#3b3b42" stroke-width="1.25"/><line x1="443" y1="53.5" x2="442.51" y2="67.7" stroke="#8b1d8c" stroke-width="0.9" opacity="0.8"/><line x1="442.21" y1="67.7" x2="442.7" y2="76.7" stroke="#8b1d8c" stroke-width="0.9" opacity="0.8"/><line x1="442.1" y1="85.2" x2="442.36" y2="101.7" stroke="#3b3b42" stroke-width="1.25"/><line x1="442.36" y1="101.7" x2="442.1" y2="119" stroke="#3b3b42" stroke-width="1.25"/><line x1="443" y1="87.2" x2="442.96" y2="101.7" stroke="#8b1d8c" stroke-width="0.9" opacity="0.8"/><line x1="442.66" y1="101.7" x2="442.7" y2="110.7" stroke="#8b1d8c" stroke-width="0.9" opacity="0.8"/><line x1="442.1" y1="119" x2="441.69" y2="135.9" stroke="#3b3b42" stroke-width="1.25"/><line x1="441.69" y1="135.9" x2="442.1" y2="153.2" stroke="#3b3b42" stroke-width="1.25"/><line x1="443" y1="121" x2="442.29" y2="135.9" stroke="#8b1d8c" stroke-width="0.9" opacity="0.8"/><line x1="441.99" y1="135.9" x2="442.7" y2="144.9" stroke="#8b1d8c" stroke-width="0.9" opacity="0.8"/><line x1="442.1" y1="153.2" x2="441.21" y2="169.9" stroke="#3b3b42" stroke-width="1.25"/><line x1="441.21" y1="169.9" x2="442.1" y2="186.9" stroke="#3b3b42" stroke-width="1.25"/><line x1="443" y1="155.2" x2="441.81" y2="169.9" stroke="#8b1d8c" stroke-width="0.9" opacity="0.8"/><line x1="441.51" y1="169.9" x2="442.7" y2="178.9" stroke="#8b1d8c" stroke-width="0.9" opacity="0.8"/><line x1="465.6" y1="51.5" x2="466.07" y2="67.7" stroke="#3b3b42" stroke-width="1.25"/><line x1="466.07" y1="67.7" x2="465.6" y2="85.2" stroke="#3b3b42" stroke-width="1.25"/><line x1="466.5" y1="53.5" x2="466.67" y2="67.7" stroke="#8b1d8c" stroke-width="0.9" opacity="0.8"/><line x1="466.37" y1="67.7" x2="466.2" y2="76.7" stroke="#8b1d8c" stroke-width="0.9" opacity="0.8"/><line x1="465.6" y1="85.2" x2="465.3" y2="101.7" stroke="#3b3b42" stroke-width="1.25"/><line x1="465.3" y1="101.7" x2="465.6" y2="119" stroke="#3b3b42" stroke-width="1.25"/><line x1="466.5" y1="87.2" x2="465.9" y2="101.7" stroke="#8b1d8c" stroke-width="0.9" opacity="0.8"/><line x1="465.6" y1="101.7" x2="466.2" y2="110.7" stroke="#8b1d8c" stroke-width="0.9" opacity="0.8"/><line x1="465.6" y1="119" x2="465.59" y2="135.9" stroke="#3b3b42" stroke-width="1.25"/><line x1="465.59" y1="135.9" x2="465.6" y2="153.2" stroke="#3b3b42" stroke-width="1.25"/><line x1="466.5" y1="121" x2="466.19" y2="135.9" stroke="#8b1d8c" stroke-width="0.9" opacity="0.8"/><line x1="465.89" y1="135.9" x2="466.2" y2="144.9" stroke="#8b1d8c" stroke-width="0.9" opacity="0.8"/><line x1="465.6" y1="153.2" x2="466.13" y2="169.9" stroke="#3b3b42" stroke-width="1.25"/><line x1="466.13" y1="169.9" x2="465.6" y2="186.9" stroke="#3b3b42" stroke-width="1.25"/><line x1="466.5" y1="155.2" x2="466.73" y2="169.9" stroke="#8b1d8c" stroke-width="0.9" opacity="0.8"/><line x1="466.43" y1="169.9" x2="466.2" y2="178.9" stroke="#8b1d8c" stroke-width="0.9" opacity="0.8"/><line x1="488.5" y1="51.5" x2="488.61" y2="67.7" stroke="#3b3b42" stroke-width="1.25"/><line x1="488.61" y1="67.7" x2="488.5" y2="85.2" stroke="#3b3b42" stroke-width="1.25"/><line x1="489.4" y1="53.5" x2="489.21" y2="67.7" stroke="#8b1d8c" stroke-width="0.9" opacity="0.8"/><line x1="488.91" y1="67.7" x2="489.1" y2="76.7" stroke="#8b1d8c" stroke-width="0.9" opacity="0.8"/><line x1="488.5" y1="85.2" x2="487.54" y2="101.7" stroke="#3b3b42" stroke-width="1.25"/><line x1="487.54" y1="101.7" x2="488.5" y2="119" stroke="#3b3b42" stroke-width="1.25"/><line x1="489.4" y1="87.2" x2="488.14" y2="101.7" stroke="#8b1d8c" stroke-width="0.9" opacity="0.8"/><line x1="487.84" y1="101.7" x2="489.1" y2="110.7" stroke="#8b1d8c" stroke-width="0.9" opacity="0.8"/><line x1="488.5" y1="119" x2="487.7" y2="135.9" stroke="#3b3b42" stroke-width="1.25"/><line x1="487.7" y1="135.9" x2="488.5" y2="153.2" stroke="#3b3b42" stroke-width="1.25"/><line x1="489.4" y1="121" x2="488.3" y2="135.9" stroke="#8b1d8c" stroke-width="0.9" opacity="0.8"/><line x1="488" y1="135.9" x2="489.1" y2="144.9" stroke="#8b1d8c" stroke-width="0.9" opacity="0.8"/><line x1="488.5" y1="153.2" x2="488.23" y2="169.9" stroke="#3b3b42" stroke-width="1.25"/><line x1="488.23" y1="169.9" x2="488.5" y2="186.9" stroke="#3b3b42" stroke-width="1.25"/><line x1="489.4" y1="155.2" x2="488.83" y2="169.9" stroke="#8b1d8c" stroke-width="0.9" opacity="0.8"/><line x1="488.53" y1="169.9" x2="489.1" y2="178.9" stroke="#8b1d8c" stroke-width="0.9" opacity="0.8"/><line x1="511.9" y1="51.5" x2="511.54" y2="67.7" stroke="#3b3b42" stroke-width="1.25"/><line x1="511.54" y1="67.7" x2="511.9" y2="85.2" stroke="#3b3b42" stroke-width="1.25"/><line x1="512.8" y1="53.5" x2="512.14" y2="67.7" stroke="#8b1d8c" stroke-width="0.9" opacity="0.8"/><line x1="511.84" y1="67.7" x2="512.5" y2="76.7" stroke="#8b1d8c" stroke-width="0.9" opacity="0.8"/><line x1="511.9" y1="85.2" x2="511.2" y2="101.7" stroke="#3b3b42" stroke-width="1.25"/><line x1="511.2" y1="101.7" x2="511.9" y2="119" stroke="#3b3b42" stroke-width="1.25"/><line x1="512.8" y1="87.2" x2="511.8" y2="101.7" stroke="#8b1d8c" stroke-width="0.9" opacity="0.8"/><line x1="511.5" y1="101.7" x2="512.5" y2="110.7" stroke="#8b1d8c" stroke-width="0.9" opacity="0.8"/><line x1="511.9" y1="119" x2="511.65" y2="135.9" stroke="#3b3b42" stroke-width="1.25"/><line x1="511.65" y1="135.9" x2="511.9" y2="153.2" stroke="#3b3b42" stroke-width="1.25"/><line x1="512.8" y1="121" x2="512.25" y2="135.9" stroke="#8b1d8c" stroke-width="0.9" opacity="0.8"/><line x1="511.95" y1="135.9" x2="512.5" y2="144.9" stroke="#8b1d8c" stroke-width="0.9" opacity="0.8"/><line x1="511.9" y1="153.2" x2="511.02" y2="169.9" stroke="#3b3b42" stroke-width="1.25"/><line x1="511.02" y1="169.9" x2="511.9" y2="186.9" stroke="#3b3b42" stroke-width="1.25"/><line x1="512.8" y1="155.2" x2="511.62" y2="169.9" stroke="#8b1d8c" stroke-width="0.9" opacity="0.8"/><line x1="511.32" y1="169.9" x2="512.5" y2="178.9" stroke="#8b1d8c" stroke-width="0.9" opacity="0.8"/>
<circle cx="410.36" cy="66.5" r="1.1" fill="#ededed" stroke="#cfcfcf" stroke-width="0.5"/>
<circle cx="424.86" cy="66.7" r="1.1" fill="#ededed" stroke="#cfcfcf" stroke-width="0.5"/>
<circle cx="422.46" cy="59.1" r="1.1" fill="#ededed" stroke="#cfcfcf" stroke-width="0.5"/>
<line x1="411.36" y1="66.5" x2="424.06" y2="66.7" stroke="#d4d4d4" stroke-width="0.7"/>
<polygon points="420.06,65.8 423.36,61.5 425.36,66" fill="#2b3796"/>
<circle cx="411.12" cy="100.5" r="1.1" fill="#ededed" stroke="#cfcfcf" stroke-width="0.5"/>
<circle cx="425.62" cy="100.7" r="1.1" fill="#ededed" stroke="#cfcfcf" stroke-width="0.5"/>
<circle cx="423.22" cy="93.1" r="1.1" fill="#ededed" stroke="#cfcfcf" stroke-width="0.5"/>
<line x1="412.12" y1="100.5" x2="424.82" y2="100.7" stroke="#d4d4d4" stroke-width="0.7"/>
<polygon points="420.82,99.8 424.12,95.5 426.12,100" fill="#2b3796"/>
<circle cx="411.45" cy="134.7" r="1.1" fill="#ededed" stroke="#cfcfcf" stroke-width="0.5"/>
<circle cx="425.95" cy="134.9" r="1.1" fill="#ededed" stroke="#cfcfcf" stroke-width="0.5"/>
<circle cx="423.55" cy="127.3" r="1.1" fill="#ededed" stroke="#cfcfcf" stroke-width="0.5"/>
<line x1="412.45" y1="134.7" x2="425.15" y2="134.9" stroke="#d4d4d4" stroke-width="0.7"/>
<polygon points="421.15,134 424.45,129.7 426.45,134.2" fill="#2b3796"/>
<circle cx="411.39" cy="168.7" r="1.1" fill="#ededed" stroke="#cfcfcf" stroke-width="0.5"/>
<circle cx="425.89" cy="168.9" r="1.1" fill="#ededed" stroke="#cfcfcf" stroke-width="0.5"/>
<circle cx="415.09" cy="161.3" r="1.1" fill="#ededed" stroke="#cfcfcf" stroke-width="0.5"/>
<line x1="412.39" y1="168.7" x2="425.09" y2="168.9" stroke="#d4d4d4" stroke-width="0.7"/>
<polygon points="412.69,168 414.79,163.7 417.99,168.2" fill="#2b3796"/>
<circle cx="433.71" cy="66.5" r="1.1" fill="#ededed" stroke="#cfcfcf" stroke-width="0.5"/>
<circle cx="448.21" cy="66.7" r="1.1" fill="#ededed" stroke="#cfcfcf" stroke-width="0.5"/>
<circle cx="437.41" cy="59.1" r="1.1" fill="#ededed" stroke="#cfcfcf" stroke-width="0.5"/>
<line x1="434.71" y1="66.5" x2="447.41" y2="66.7" stroke="#d4d4d4" stroke-width="0.7"/>
<polygon points="435.01,65.8 437.11,61.5 440.31,66" fill="#2b3796"/>
<circle cx="434.16" cy="100.5" r="1.1" fill="#ededed" stroke="#cfcfcf" stroke-width="0.5"/>
<circle cx="448.66" cy="100.7" r="1.1" fill="#ededed" stroke="#cfcfcf" stroke-width="0.5"/>
<circle cx="437.86" cy="93.1" r="1.1" fill="#ededed" stroke="#cfcfcf" stroke-width="0.5"/>
<line x1="435.16" y1="100.5" x2="447.86" y2="100.7" stroke="#d4d4d4" stroke-width="0.7"/>
<polygon points="435.46,99.8 437.56,95.5 440.76,100" fill="#2b3796"/>
<circle cx="433.49" cy="134.7" r="1.1" fill="#ededed" stroke="#cfcfcf" stroke-width="0.5"/>
<circle cx="447.99" cy="134.9" r="1.1" fill="#ededed" stroke="#cfcfcf" stroke-width="0.5"/>
<circle cx="445.59" cy="127.3" r="1.1" fill="#ededed" stroke="#cfcfcf" stroke-width="0.5"/>
<line x1="434.49" y1="134.7" x2="447.19" y2="134.9" stroke="#d4d4d4" stroke-width="0.7"/>
<polygon points="443.19,134 446.49,129.7 448.49,134.2" fill="#2b3796"/>
<circle cx="433.01" cy="168.7" r="1.1" fill="#ededed" stroke="#cfcfcf" stroke-width="0.5"/>
<circle cx="447.51" cy="168.9" r="1.1" fill="#ededed" stroke="#cfcfcf" stroke-width="0.5"/>
<circle cx="436.71" cy="161.3" r="1.1" fill="#ededed" stroke="#cfcfcf" stroke-width="0.5"/>
<line x1="434.01" y1="168.7" x2="446.71" y2="168.9" stroke="#d4d4d4" stroke-width="0.7"/>
<polygon points="434.31,168 436.41,163.7 439.61,168.2" fill="#2b3796"/>
<circle cx="457.87" cy="66.5" r="1.1" fill="#ededed" stroke="#cfcfcf" stroke-width="0.5"/>
<circle cx="472.37" cy="66.7" r="1.1" fill="#ededed" stroke="#cfcfcf" stroke-width="0.5"/>
<circle cx="461.57" cy="59.1" r="1.1" fill="#ededed" stroke="#cfcfcf" stroke-width="0.5"/>
<line x1="458.87" y1="66.5" x2="471.57" y2="66.7" stroke="#d4d4d4" stroke-width="0.7"/>
<polygon points="459.17,65.8 461.27,61.5 464.47,66" fill="#2b3796"/>
<circle cx="457.1" cy="100.5" r="1.1" fill="#ededed" stroke="#cfcfcf" stroke-width="0.5"/>
<circle cx="471.6" cy="100.7" r="1.1" fill="#ededed" stroke="#cfcfcf" stroke-width="0.5"/>
<circle cx="469.2" cy="93.1" r="1.1" fill="#ededed" stroke="#cfcfcf" stroke-width="0.5"/>
<line x1="458.1" y1="100.5" x2="470.8" y2="100.7" stroke="#d4d4d4" stroke-width="0.7"/>
<polygon points="466.8,99.8 470.1,95.5 472.1,100" fill="#2b3796"/>
<circle cx="457.39" cy="134.7" r="1.1" fill="#ededed" stroke="#cfcfcf" stroke-width="0.5"/>
<circle cx="471.89" cy="134.9" r="1.1" fill="#ededed" stroke="#cfcfcf" stroke-width="0.5"/>
<circle cx="461.09" cy="127.3" r="1.1" fill="#ededed" stroke="#cfcfcf" stroke-width="0.5"/>
<line x1="458.39" y1="134.7" x2="471.09" y2="134.9" stroke="#d4d4d4" stroke-width="0.7"/>
<polygon points="458.69,134 460.79,129.7 463.99,134.2" fill="#2b3796"/>
<circle cx="457.93" cy="168.7" r="1.1" fill="#ededed" stroke="#cfcfcf" stroke-width="0.5"/>
<circle cx="472.43" cy="168.9" r="1.1" fill="#ededed" stroke="#cfcfcf" stroke-width="0.5"/>
<circle cx="470.03" cy="161.3" r="1.1" fill="#ededed" stroke="#cfcfcf" stroke-width="0.5"/>
<line x1="458.93" y1="168.7" x2="471.63" y2="168.9" stroke="#d4d4d4" stroke-width="0.7"/>
<polygon points="467.63,168 470.93,163.7 472.93,168.2" fill="#2b3796"/>
<circle cx="480.41" cy="66.5" r="1.1" fill="#ededed" stroke="#cfcfcf" stroke-width="0.5"/>
<circle cx="494.91" cy="66.7" r="1.1" fill="#ededed" stroke="#cfcfcf" stroke-width="0.5"/>
<circle cx="484.11" cy="59.1" r="1.1" fill="#ededed" stroke="#cfcfcf" stroke-width="0.5"/>
<line x1="481.41" y1="66.5" x2="494.11" y2="66.7" stroke="#d4d4d4" stroke-width="0.7"/>
<polygon points="481.71,65.8 483.81,61.5 487.01,66" fill="#2b3796"/>
<circle cx="479.34" cy="100.5" r="1.1" fill="#ededed" stroke="#cfcfcf" stroke-width="0.5"/>
<circle cx="493.84" cy="100.7" r="1.1" fill="#ededed" stroke="#cfcfcf" stroke-width="0.5"/>
<circle cx="483.04" cy="93.1" r="1.1" fill="#ededed" stroke="#cfcfcf" stroke-width="0.5"/>
<line x1="480.34" y1="100.5" x2="493.04" y2="100.7" stroke="#d4d4d4" stroke-width="0.7"/>
<polygon points="480.64,99.8 482.74,95.5 485.94,100" fill="#2b3796"/>
<circle cx="479.5" cy="134.7" r="1.1" fill="#ededed" stroke="#cfcfcf" stroke-width="0.5"/>
<circle cx="494" cy="134.9" r="1.1" fill="#ededed" stroke="#cfcfcf" stroke-width="0.5"/>
<circle cx="483.2" cy="127.3" r="1.1" fill="#ededed" stroke="#cfcfcf" stroke-width="0.5"/>
<line x1="480.5" y1="134.7" x2="493.2" y2="134.9" stroke="#d4d4d4" stroke-width="0.7"/>
<polygon points="480.8,134 482.9,129.7 486.1,134.2" fill="#2b3796"/>
<circle cx="480.03" cy="168.7" r="1.1" fill="#ededed" stroke="#cfcfcf" stroke-width="0.5"/>
<circle cx="494.53" cy="168.9" r="1.1" fill="#ededed" stroke="#cfcfcf" stroke-width="0.5"/>
<circle cx="483.73" cy="161.3" r="1.1" fill="#ededed" stroke="#cfcfcf" stroke-width="0.5"/>
<line x1="481.03" y1="168.7" x2="493.73" y2="168.9" stroke="#d4d4d4" stroke-width="0.7"/>
<polygon points="481.33,168 483.43,163.7 486.63,168.2" fill="#2b3796"/>
<circle cx="503.34" cy="66.5" r="1.1" fill="#ededed" stroke="#cfcfcf" stroke-width="0.5"/>
<circle cx="517.84" cy="66.7" r="1.1" fill="#ededed" stroke="#cfcfcf" stroke-width="0.5"/>
<circle cx="507.04" cy="59.1" r="1.1" fill="#ededed" stroke="#cfcfcf" stroke-width="0.5"/>
<line x1="504.34" y1="66.5" x2="517.04" y2="66.7" stroke="#d4d4d4" stroke-width="0.7"/>
<polygon points="504.64,65.8 506.74,61.5 509.94,66" fill="#2b3796"/>
<circle cx="503" cy="100.5" r="1.1" fill="#ededed" stroke="#cfcfcf" stroke-width="0.5"/>
<circle cx="517.5" cy="100.7" r="1.1" fill="#ededed" stroke="#cfcfcf" stroke-width="0.5"/>
<circle cx="506.7" cy="93.1" r="1.1" fill="#ededed" stroke="#cfcfcf" stroke-width="0.5"/>
<line x1="504" y1="100.5" x2="516.7" y2="100.7" stroke="#d4d4d4" stroke-width="0.7"/>
<polygon points="504.3,99.8 506.4,95.5 509.6,100" fill="#2b3796"/>
<circle cx="503.45" cy="134.7" r="1.1" fill="#ededed" stroke="#cfcfcf" stroke-width="0.5"/>
<circle cx="517.95" cy="134.9" r="1.1" fill="#ededed" stroke="#cfcfcf" stroke-width="0.5"/>
<circle cx="507.15" cy="127.3" r="1.1" fill="#ededed" stroke="#cfcfcf" stroke-width="0.5"/>
<line x1="504.45" y1="134.7" x2="517.15" y2="134.9" stroke="#d4d4d4" stroke-width="0.7"/>
<polygon points="504.75,134 506.85,129.7 510.05,134.2" fill="#2b3796"/>
<circle cx="502.82" cy="168.7" r="1.1" fill="#ededed" stroke="#cfcfcf" stroke-width="0.5"/>
<circle cx="517.32" cy="168.9" r="1.1" fill="#ededed" stroke="#cfcfcf" stroke-width="0.5"/>
<circle cx="506.52" cy="161.3" r="1.1" fill="#ededed" stroke="#cfcfcf" stroke-width="0.5"/>
<line x1="503.82" y1="168.7" x2="516.52" y2="168.9" stroke="#d4d4d4" stroke-width="0.7"/>
<polygon points="504.12,168 506.22,163.7 509.42,168.2" fill="#2b3796"/>
<circle cx="418.56" cy="67.7" r="2.8" fill="#7a187c"/><circle cx="418.56" cy="67.7" r="0.84" fill="#c98fca"/>
<circle cx="419.32" cy="101.7" r="2.8" fill="#7a187c"/><circle cx="419.32" cy="101.7" r="0.84" fill="#c98fca"/>
<circle cx="419.65" cy="135.9" r="2.8" fill="#7a187c"/><circle cx="419.65" cy="135.9" r="0.84" fill="#c98fca"/>
<circle cx="419.59" cy="169.9" r="2.8" fill="#7a187c"/><circle cx="419.59" cy="169.9" r="0.84" fill="#c98fca"/>
<circle cx="441.91" cy="67.7" r="2.8" fill="#7a187c"/><circle cx="441.91" cy="67.7" r="0.84" fill="#c98fca"/>
<circle cx="442.36" cy="101.7" r="2.8" fill="#7a187c"/><circle cx="442.36" cy="101.7" r="0.84" fill="#c98fca"/>
<circle cx="441.69" cy="135.9" r="2.8" fill="#7a187c"/><circle cx="441.69" cy="135.9" r="0.84" fill="#c98fca"/>
<circle cx="441.21" cy="169.9" r="2.8" fill="#7a187c"/><circle cx="441.21" cy="169.9" r="0.84" fill="#c98fca"/>
<circle cx="466.07" cy="67.7" r="2.8" fill="#7a187c"/><circle cx="466.07" cy="67.7" r="0.84" fill="#c98fca"/>
<circle cx="465.3" cy="101.7" r="2.8" fill="#7a187c"/><circle cx="465.3" cy="101.7" r="0.84" fill="#c98fca"/>
<circle cx="465.59" cy="135.9" r="2.8" fill="#7a187c"/><circle cx="465.59" cy="135.9" r="0.84" fill="#c98fca"/>
<circle cx="466.13" cy="169.9" r="2.8" fill="#7a187c"/><circle cx="466.13" cy="169.9" r="0.84" fill="#c98fca"/>
<circle cx="488.61" cy="67.7" r="2.8" fill="#7a187c"/><circle cx="488.61" cy="67.7" r="0.84" fill="#c98fca"/>
<circle cx="487.54" cy="101.7" r="2.8" fill="#7a187c"/><circle cx="487.54" cy="101.7" r="0.84" fill="#c98fca"/>
<circle cx="487.7" cy="135.9" r="2.8" fill="#7a187c"/><circle cx="487.7" cy="135.9" r="0.84" fill="#c98fca"/>
<circle cx="488.23" cy="169.9" r="2.8" fill="#7a187c"/><circle cx="488.23" cy="169.9" r="0.84" fill="#c98fca"/>
<circle cx="511.54" cy="67.7" r="2.8" fill="#7a187c"/><circle cx="511.54" cy="67.7" r="0.84" fill="#c98fca"/>
<circle cx="511.2" cy="101.7" r="2.8" fill="#7a187c"/><circle cx="511.2" cy="101.7" r="0.84" fill="#c98fca"/>
<circle cx="511.65" cy="135.9" r="2.8" fill="#7a187c"/><circle cx="511.65" cy="135.9" r="0.84" fill="#c98fca"/>
<circle cx="511.02" cy="169.9" r="2.8" fill="#7a187c"/><circle cx="511.02" cy="169.9" r="0.84" fill="#c98fca"/>
<circle cx="427.55" cy="52.07" r="2.8" fill="#7a187c"/><circle cx="427.55" cy="52.07" r="0.84" fill="#c98fca"/>
<circle cx="434.77" cy="51.85" r="2.8" fill="#7a187c"/><circle cx="434.77" cy="51.85" r="0.84" fill="#c98fca"/>
<circle cx="451.02" cy="51.68" r="2.8" fill="#7a187c"/><circle cx="451.02" cy="51.68" r="0.84" fill="#c98fca"/>
<circle cx="457.38" cy="51.22" r="2.8" fill="#7a187c"/><circle cx="457.38" cy="51.22" r="0.84" fill="#c98fca"/>
<circle cx="474.17" cy="51.93" r="2.8" fill="#7a187c"/><circle cx="474.17" cy="51.93" r="0.84" fill="#c98fca"/>
<circle cx="480.24" cy="52.02" r="2.8" fill="#7a187c"/><circle cx="480.24" cy="52.02" r="0.84" fill="#c98fca"/>
<circle cx="497.57" cy="51.51" r="2.8" fill="#7a187c"/><circle cx="497.57" cy="51.51" r="0.84" fill="#c98fca"/>
<circle cx="503.34" cy="51.55" r="2.8" fill="#7a187c"/><circle cx="503.34" cy="51.55" r="0.84" fill="#c98fca"/>
<circle cx="410.1" cy="51.8" r="2.8" fill="#7a187c"/><circle cx="410.1" cy="51.8" r="0.84" fill="#c98fca"/>
<g clip-path="url(#clipR21)"><circle cx="520.1" cy="51.8" r="2.8" fill="#7a187c"/><circle cx="520.1" cy="51.8" r="0.84" fill="#c98fca"/></g>
<circle cx="419.3" cy="51.5" r="3.75" fill="#3a3a41"/><circle cx="419.3" cy="51.5" r="1.57" fill="#b9b9bf"/>
<circle cx="442.1" cy="51.5" r="3.75" fill="#3a3a41"/><circle cx="442.1" cy="51.5" r="1.57" fill="#b9b9bf"/>
<circle cx="465.6" cy="51.5" r="3.75" fill="#3a3a41"/><circle cx="465.6" cy="51.5" r="1.57" fill="#b9b9bf"/>
<circle cx="488.5" cy="51.5" r="3.75" fill="#3a3a41"/><circle cx="488.5" cy="51.5" r="1.57" fill="#b9b9bf"/>
<circle cx="511.9" cy="51.5" r="3.75" fill="#3a3a41"/><circle cx="511.9" cy="51.5" r="1.57" fill="#b9b9bf"/>
<circle cx="427.76" cy="84.83" r="2.8" fill="#7a187c"/><circle cx="427.76" cy="84.83" r="0.84" fill="#c98fca"/>
<circle cx="433.81" cy="85.52" r="2.8" fill="#7a187c"/><circle cx="433.81" cy="85.52" r="0.84" fill="#c98fca"/>
<circle cx="451.29" cy="85.3" r="2.8" fill="#7a187c"/><circle cx="451.29" cy="85.3" r="0.84" fill="#c98fca"/>
<circle cx="457.09" cy="85.35" r="2.8" fill="#7a187c"/><circle cx="457.09" cy="85.35" r="0.84" fill="#c98fca"/>
<circle cx="474.5" cy="85.02" r="2.8" fill="#7a187c"/><circle cx="474.5" cy="85.02" r="0.84" fill="#c98fca"/>
<circle cx="480.73" cy="85.36" r="2.8" fill="#7a187c"/><circle cx="480.73" cy="85.36" r="0.84" fill="#c98fca"/>
<circle cx="497.25" cy="84.98" r="2.8" fill="#7a187c"/><circle cx="497.25" cy="84.98" r="0.84" fill="#c98fca"/>
<circle cx="503.1" cy="85.15" r="2.8" fill="#7a187c"/><circle cx="503.1" cy="85.15" r="0.84" fill="#c98fca"/>
<circle cx="410.1" cy="85.5" r="2.8" fill="#7a187c"/><circle cx="410.1" cy="85.5" r="0.84" fill="#c98fca"/>
<g clip-path="url(#clipR21)"><circle cx="520.1" cy="85.5" r="2.8" fill="#7a187c"/><circle cx="520.1" cy="85.5" r="0.84" fill="#c98fca"/></g>
<circle cx="419.3" cy="85.2" r="3.75" fill="#3a3a41"/><circle cx="419.3" cy="85.2" r="1.57" fill="#b9b9bf"/>
<circle cx="442.1" cy="85.2" r="3.75" fill="#3a3a41"/><circle cx="442.1" cy="85.2" r="1.57" fill="#b9b9bf"/>
<circle cx="465.6" cy="85.2" r="3.75" fill="#3a3a41"/><circle cx="465.6" cy="85.2" r="1.57" fill="#b9b9bf"/>
<circle cx="488.5" cy="85.2" r="3.75" fill="#3a3a41"/><circle cx="488.5" cy="85.2" r="1.57" fill="#b9b9bf"/>
<circle cx="511.9" cy="85.2" r="3.75" fill="#3a3a41"/><circle cx="511.9" cy="85.2" r="1.57" fill="#b9b9bf"/>
<circle cx="428.02" cy="118.91" r="2.8" fill="#7a187c"/><circle cx="428.02" cy="118.91" r="0.84" fill="#c98fca"/>
<circle cx="433.82" cy="118.67" r="2.8" fill="#7a187c"/><circle cx="433.82" cy="118.67" r="0.84" fill="#c98fca"/>
<circle cx="451.08" cy="119.38" r="2.8" fill="#7a187c"/><circle cx="451.08" cy="119.38" r="0.84" fill="#c98fca"/>
<circle cx="456.95" cy="119.28" r="2.8" fill="#7a187c"/><circle cx="456.95" cy="119.28" r="0.84" fill="#c98fca"/>
<circle cx="474.41" cy="119.5" r="2.8" fill="#7a187c"/><circle cx="474.41" cy="119.5" r="0.84" fill="#c98fca"/>
<circle cx="481.15" cy="119.01" r="2.8" fill="#7a187c"/><circle cx="481.15" cy="119.01" r="0.84" fill="#c98fca"/>
<circle cx="497.69" cy="119.56" r="2.8" fill="#7a187c"/><circle cx="497.69" cy="119.56" r="0.84" fill="#c98fca"/>
<circle cx="503.61" cy="119.48" r="2.8" fill="#7a187c"/><circle cx="503.61" cy="119.48" r="0.84" fill="#c98fca"/>
<circle cx="410.1" cy="119.3" r="2.8" fill="#7a187c"/><circle cx="410.1" cy="119.3" r="0.84" fill="#c98fca"/>
<g clip-path="url(#clipR21)"><circle cx="520.1" cy="119.3" r="2.8" fill="#7a187c"/><circle cx="520.1" cy="119.3" r="0.84" fill="#c98fca"/></g>
<circle cx="419.3" cy="119" r="3.75" fill="#3a3a41"/><circle cx="419.3" cy="119" r="1.57" fill="#b9b9bf"/>
<circle cx="442.1" cy="119" r="3.75" fill="#3a3a41"/><circle cx="442.1" cy="119" r="1.57" fill="#b9b9bf"/>
<circle cx="465.6" cy="119" r="3.75" fill="#3a3a41"/><circle cx="465.6" cy="119" r="1.57" fill="#b9b9bf"/>
<circle cx="488.5" cy="119" r="3.75" fill="#3a3a41"/><circle cx="488.5" cy="119" r="1.57" fill="#b9b9bf"/>
<circle cx="511.9" cy="119" r="3.75" fill="#3a3a41"/><circle cx="511.9" cy="119" r="1.57" fill="#b9b9bf"/>
<circle cx="427.6" cy="153.68" r="2.8" fill="#7a187c"/><circle cx="427.6" cy="153.68" r="0.84" fill="#c98fca"/>
<circle cx="433.89" cy="152.87" r="2.8" fill="#7a187c"/><circle cx="433.89" cy="152.87" r="0.84" fill="#c98fca"/>
<circle cx="451.07" cy="153.57" r="2.8" fill="#7a187c"/><circle cx="451.07" cy="153.57" r="0.84" fill="#c98fca"/>
<circle cx="457.08" cy="153.64" r="2.8" fill="#7a187c"/><circle cx="457.08" cy="153.64" r="0.84" fill="#c98fca"/>
<circle cx="473.66" cy="153.06" r="2.8" fill="#7a187c"/><circle cx="473.66" cy="153.06" r="0.84" fill="#c98fca"/>
<circle cx="480.35" cy="153.22" r="2.8" fill="#7a187c"/><circle cx="480.35" cy="153.22" r="0.84" fill="#c98fca"/>
<circle cx="496.7" cy="152.87" r="2.8" fill="#7a187c"/><circle cx="496.7" cy="152.87" r="0.84" fill="#c98fca"/>
<circle cx="503.31" cy="153.7" r="2.8" fill="#7a187c"/><circle cx="503.31" cy="153.7" r="0.84" fill="#c98fca"/>
<circle cx="410.1" cy="153.5" r="2.8" fill="#7a187c"/><circle cx="410.1" cy="153.5" r="0.84" fill="#c98fca"/>
<g clip-path="url(#clipR21)"><circle cx="520.1" cy="153.5" r="2.8" fill="#7a187c"/><circle cx="520.1" cy="153.5" r="0.84" fill="#c98fca"/></g>
<circle cx="419.3" cy="153.2" r="3.75" fill="#3a3a41"/><circle cx="419.3" cy="153.2" r="1.57" fill="#b9b9bf"/>
<circle cx="442.1" cy="153.2" r="3.75" fill="#3a3a41"/><circle cx="442.1" cy="153.2" r="1.57" fill="#b9b9bf"/>
<circle cx="465.6" cy="153.2" r="3.75" fill="#3a3a41"/><circle cx="465.6" cy="153.2" r="1.57" fill="#b9b9bf"/>
<circle cx="488.5" cy="153.2" r="3.75" fill="#3a3a41"/><circle cx="488.5" cy="153.2" r="1.57" fill="#b9b9bf"/>
<circle cx="511.9" cy="153.2" r="3.75" fill="#3a3a41"/><circle cx="511.9" cy="153.2" r="1.57" fill="#b9b9bf"/>
<circle cx="427.87" cy="186.75" r="2.8" fill="#7a187c"/><circle cx="427.87" cy="186.75" r="0.84" fill="#c98fca"/>
<circle cx="434.85" cy="187.03" r="2.8" fill="#7a187c"/><circle cx="434.85" cy="187.03" r="0.84" fill="#c98fca"/>
<circle cx="450.97" cy="186.53" r="2.8" fill="#7a187c"/><circle cx="450.97" cy="186.53" r="0.84" fill="#c98fca"/>
<circle cx="456.75" cy="187.34" r="2.8" fill="#7a187c"/><circle cx="456.75" cy="187.34" r="0.84" fill="#c98fca"/>
<circle cx="474.55" cy="187.38" r="2.8" fill="#7a187c"/><circle cx="474.55" cy="187.38" r="0.84" fill="#c98fca"/>
<circle cx="480.72" cy="186.93" r="2.8" fill="#7a187c"/><circle cx="480.72" cy="186.93" r="0.84" fill="#c98fca"/>
<circle cx="497.2" cy="187.35" r="2.8" fill="#7a187c"/><circle cx="497.2" cy="187.35" r="0.84" fill="#c98fca"/>
<circle cx="503.27" cy="187.03" r="2.8" fill="#7a187c"/><circle cx="503.27" cy="187.03" r="0.84" fill="#c98fca"/>
<circle cx="410.1" cy="187.2" r="2.8" fill="#7a187c"/><circle cx="410.1" cy="187.2" r="0.84" fill="#c98fca"/>
<g clip-path="url(#clipR21)"><circle cx="520.1" cy="187.2" r="2.8" fill="#7a187c"/><circle cx="520.1" cy="187.2" r="0.84" fill="#c98fca"/></g>
<circle cx="419.3" cy="186.9" r="3.75" fill="#3a3a41"/><circle cx="419.3" cy="186.9" r="1.57" fill="#b9b9bf"/>
<circle cx="442.1" cy="186.9" r="3.75" fill="#3a3a41"/><circle cx="442.1" cy="186.9" r="1.57" fill="#b9b9bf"/>
<circle cx="465.6" cy="186.9" r="3.75" fill="#3a3a41"/><circle cx="465.6" cy="186.9" r="1.57" fill="#b9b9bf"/>
<circle cx="488.5" cy="186.9" r="3.75" fill="#3a3a41"/><circle cx="488.5" cy="186.9" r="1.57" fill="#b9b9bf"/>
<circle cx="511.9" cy="186.9" r="3.75" fill="#3a3a41"/><circle cx="511.9" cy="186.9" r="1.57" fill="#b9b9bf"/>
<line x1="531.6" y1="51.5" x2="641.8" y2="51.5" stroke="#3b3b42" stroke-width="1.3"/><line x1="531.6" y1="85.2" x2="641.8" y2="85.2" stroke="#3b3b42" stroke-width="1.3"/><line x1="531.6" y1="119" x2="641.8" y2="119" stroke="#3b3b42" stroke-width="1.3"/><line x1="531.6" y1="153.2" x2="641.8" y2="153.2" stroke="#3b3b42" stroke-width="1.3"/><line x1="531.6" y1="186.9" x2="641.8" y2="186.9" stroke="#3b3b42" stroke-width="1.3"/><line x1="539.9" y1="51.5" x2="540.43" y2="67.7" stroke="#3b3b42" stroke-width="1.25"/><line x1="540.43" y1="67.7" x2="539.9" y2="85.2" stroke="#3b3b42" stroke-width="1.25"/><line x1="540.8" y1="53.5" x2="541.03" y2="67.7" stroke="#8b1d8c" stroke-width="0.9" opacity="0.8"/><line x1="540.73" y1="67.7" x2="540.5" y2="76.7" stroke="#8b1d8c" stroke-width="0.9" opacity="0.8"/><line x1="539.9" y1="85.2" x2="539.29" y2="101.7" stroke="#3b3b42" stroke-width="1.25"/><line x1="539.29" y1="101.7" x2="539.9" y2="119" stroke="#3b3b42" stroke-width="1.25"/><line x1="540.8" y1="87.2" x2="539.89" y2="101.7" stroke="#8b1d8c" stroke-width="0.9" opacity="0.8"/><line x1="539.59" y1="101.7" x2="540.5" y2="110.7" stroke="#8b1d8c" stroke-width="0.9" opacity="0.8"/><line x1="539.9" y1="119" x2="539.19" y2="135.9" stroke="#3b3b42" stroke-width="1.25"/><line x1="539.19" y1="135.9" x2="539.9" y2="153.2" stroke="#3b3b42" stroke-width="1.25"/><line x1="540.8" y1="121" x2="539.79" y2="135.9" stroke="#8b1d8c" stroke-width="0.9" opacity="0.8"/><line x1="539.49" y1="135.9" x2="540.5" y2="144.9" stroke="#8b1d8c" stroke-width="0.9" opacity="0.8"/><line x1="539.9" y1="153.2" x2="540.08" y2="169.9" stroke="#3b3b42" stroke-width="1.25"/><line x1="540.08" y1="169.9" x2="539.9" y2="186.9" stroke="#3b3b42" stroke-width="1.25"/><line x1="540.8" y1="155.2" x2="540.68" y2="169.9" stroke="#8b1d8c" stroke-width="0.9" opacity="0.8"/><line x1="540.38" y1="169.9" x2="540.5" y2="178.9" stroke="#8b1d8c" stroke-width="0.9" opacity="0.8"/><line x1="563.1" y1="51.5" x2="563.37" y2="67.7" stroke="#3b3b42" stroke-width="1.25"/><line x1="563.37" y1="67.7" x2="563.1" y2="85.2" stroke="#3b3b42" stroke-width="1.25"/><line x1="564" y1="53.5" x2="563.97" y2="67.7" stroke="#8b1d8c" stroke-width="0.9" opacity="0.8"/><line x1="563.67" y1="67.7" x2="563.7" y2="76.7" stroke="#8b1d8c" stroke-width="0.9" opacity="0.8"/><line x1="563.1" y1="85.2" x2="562.47" y2="101.7" stroke="#3b3b42" stroke-width="1.25"/><line x1="562.47" y1="101.7" x2="563.1" y2="119" stroke="#3b3b42" stroke-width="1.25"/><line x1="564" y1="87.2" x2="563.07" y2="101.7" stroke="#8b1d8c" stroke-width="0.9" opacity="0.8"/><line x1="562.77" y1="101.7" x2="563.7" y2="110.7" stroke="#8b1d8c" stroke-width="0.9" opacity="0.8"/><line x1="563.1" y1="119" x2="562.61" y2="135.9" stroke="#3b3b42" stroke-width="1.25"/><line x1="562.61" y1="135.9" x2="563.1" y2="153.2" stroke="#3b3b42" stroke-width="1.25"/><line x1="564" y1="121" x2="563.21" y2="135.9" stroke="#8b1d8c" stroke-width="0.9" opacity="0.8"/><line x1="562.91" y1="135.9" x2="563.7" y2="144.9" stroke="#8b1d8c" stroke-width="0.9" opacity="0.8"/><line x1="563.1" y1="153.2" x2="563.59" y2="169.9" stroke="#3b3b42" stroke-width="1.25"/><line x1="563.59" y1="169.9" x2="563.1" y2="186.9" stroke="#3b3b42" stroke-width="1.25"/><line x1="564" y1="155.2" x2="564.19" y2="169.9" stroke="#8b1d8c" stroke-width="0.9" opacity="0.8"/><line x1="563.89" y1="169.9" x2="563.7" y2="178.9" stroke="#8b1d8c" stroke-width="0.9" opacity="0.8"/><line x1="586" y1="51.5" x2="586.13" y2="67.7" stroke="#3b3b42" stroke-width="1.25"/><line x1="586.13" y1="67.7" x2="586" y2="85.2" stroke="#3b3b42" stroke-width="1.25"/><line x1="586.9" y1="53.5" x2="586.73" y2="67.7" stroke="#8b1d8c" stroke-width="0.9" opacity="0.8"/><line x1="586.43" y1="67.7" x2="586.6" y2="76.7" stroke="#8b1d8c" stroke-width="0.9" opacity="0.8"/><line x1="586" y1="85.2" x2="585.92" y2="101.7" stroke="#3b3b42" stroke-width="1.25"/><line x1="585.92" y1="101.7" x2="586" y2="119" stroke="#3b3b42" stroke-width="1.25"/><line x1="586.9" y1="87.2" x2="586.52" y2="101.7" stroke="#8b1d8c" stroke-width="0.9" opacity="0.8"/><line x1="586.22" y1="101.7" x2="586.6" y2="110.7" stroke="#8b1d8c" stroke-width="0.9" opacity="0.8"/><line x1="586" y1="119" x2="585.94" y2="135.9" stroke="#3b3b42" stroke-width="1.25"/><line x1="585.94" y1="135.9" x2="586" y2="153.2" stroke="#3b3b42" stroke-width="1.25"/><line x1="586.9" y1="121" x2="586.54" y2="135.9" stroke="#8b1d8c" stroke-width="0.9" opacity="0.8"/><line x1="586.24" y1="135.9" x2="586.6" y2="144.9" stroke="#8b1d8c" stroke-width="0.9" opacity="0.8"/><line x1="586" y1="153.2" x2="585.67" y2="169.9" stroke="#3b3b42" stroke-width="1.25"/><line x1="585.67" y1="169.9" x2="586" y2="186.9" stroke="#3b3b42" stroke-width="1.25"/><line x1="586.9" y1="155.2" x2="586.27" y2="169.9" stroke="#8b1d8c" stroke-width="0.9" opacity="0.8"/><line x1="585.97" y1="169.9" x2="586.6" y2="178.9" stroke="#8b1d8c" stroke-width="0.9" opacity="0.8"/><line x1="609.3" y1="51.5" x2="609.66" y2="67.7" stroke="#3b3b42" stroke-width="1.25"/><line x1="609.66" y1="67.7" x2="609.3" y2="85.2" stroke="#3b3b42" stroke-width="1.25"/><line x1="610.2" y1="53.5" x2="610.26" y2="67.7" stroke="#8b1d8c" stroke-width="0.9" opacity="0.8"/><line x1="609.96" y1="67.7" x2="609.9" y2="76.7" stroke="#8b1d8c" stroke-width="0.9" opacity="0.8"/><line x1="609.3" y1="85.2" x2="609.42" y2="101.7" stroke="#3b3b42" stroke-width="1.25"/><line x1="609.42" y1="101.7" x2="609.3" y2="119" stroke="#3b3b42" stroke-width="1.25"/><line x1="610.2" y1="87.2" x2="610.02" y2="101.7" stroke="#8b1d8c" stroke-width="0.9" opacity="0.8"/><line x1="609.72" y1="101.7" x2="609.9" y2="110.7" stroke="#8b1d8c" stroke-width="0.9" opacity="0.8"/><line x1="609.3" y1="119" x2="608.71" y2="135.9" stroke="#3b3b42" stroke-width="1.25"/><line x1="608.71" y1="135.9" x2="609.3" y2="153.2" stroke="#3b3b42" stroke-width="1.25"/><line x1="610.2" y1="121" x2="609.31" y2="135.9" stroke="#8b1d8c" stroke-width="0.9" opacity="0.8"/><line x1="609.01" y1="135.9" x2="609.9" y2="144.9" stroke="#8b1d8c" stroke-width="0.9" opacity="0.8"/><line x1="609.3" y1="153.2" x2="608.8" y2="169.9" stroke="#3b3b42" stroke-width="1.25"/><line x1="608.8" y1="169.9" x2="609.3" y2="186.9" stroke="#3b3b42" stroke-width="1.25"/><line x1="610.2" y1="155.2" x2="609.4" y2="169.9" stroke="#8b1d8c" stroke-width="0.9" opacity="0.8"/><line x1="609.1" y1="169.9" x2="609.9" y2="178.9" stroke="#8b1d8c" stroke-width="0.9" opacity="0.8"/><line x1="632.5" y1="51.5" x2="631.95" y2="67.7" stroke="#3b3b42" stroke-width="1.25"/><line x1="631.95" y1="67.7" x2="632.5" y2="85.2" stroke="#3b3b42" stroke-width="1.25"/><line x1="633.4" y1="53.5" x2="632.55" y2="67.7" stroke="#8b1d8c" stroke-width="0.9" opacity="0.8"/><line x1="632.25" y1="67.7" x2="633.1" y2="76.7" stroke="#8b1d8c" stroke-width="0.9" opacity="0.8"/><line x1="632.5" y1="85.2" x2="632.57" y2="101.7" stroke="#3b3b42" stroke-width="1.25"/><line x1="632.57" y1="101.7" x2="632.5" y2="119" stroke="#3b3b42" stroke-width="1.25"/><line x1="633.4" y1="87.2" x2="633.17" y2="101.7" stroke="#8b1d8c" stroke-width="0.9" opacity="0.8"/><line x1="632.87" y1="101.7" x2="633.1" y2="110.7" stroke="#8b1d8c" stroke-width="0.9" opacity="0.8"/><line x1="632.5" y1="119" x2="632.19" y2="135.9" stroke="#3b3b42" stroke-width="1.25"/><line x1="632.19" y1="135.9" x2="632.5" y2="153.2" stroke="#3b3b42" stroke-width="1.25"/><line x1="633.4" y1="121" x2="632.79" y2="135.9" stroke="#8b1d8c" stroke-width="0.9" opacity="0.8"/><line x1="632.49" y1="135.9" x2="633.1" y2="144.9" stroke="#8b1d8c" stroke-width="0.9" opacity="0.8"/><line x1="632.5" y1="153.2" x2="632.35" y2="169.9" stroke="#3b3b42" stroke-width="1.25"/><line x1="632.35" y1="169.9" x2="632.5" y2="186.9" stroke="#3b3b42" stroke-width="1.25"/><line x1="633.4" y1="155.2" x2="632.95" y2="169.9" stroke="#8b1d8c" stroke-width="0.9" opacity="0.8"/><line x1="632.65" y1="169.9" x2="633.1" y2="178.9" stroke="#8b1d8c" stroke-width="0.9" opacity="0.8"/>
<circle cx="532.23" cy="66.5" r="1.1" fill="#ededed" stroke="#cfcfcf" stroke-width="0.5"/>
<circle cx="546.73" cy="66.7" r="1.1" fill="#ededed" stroke="#cfcfcf" stroke-width="0.5"/>
<circle cx="535.93" cy="59.1" r="1.1" fill="#ededed" stroke="#cfcfcf" stroke-width="0.5"/>
<line x1="533.23" y1="66.5" x2="545.93" y2="66.7" stroke="#d4d4d4" stroke-width="0.7"/>
<polygon points="533.53,65.8 535.63,61.5 538.83,66" fill="#2b3796"/>
<circle cx="531.09" cy="100.5" r="1.1" fill="#ededed" stroke="#cfcfcf" stroke-width="0.5"/>
<circle cx="545.59" cy="100.7" r="1.1" fill="#ededed" stroke="#cfcfcf" stroke-width="0.5"/>
<circle cx="543.19" cy="93.1" r="1.1" fill="#ededed" stroke="#cfcfcf" stroke-width="0.5"/>
<line x1="532.09" y1="100.5" x2="544.79" y2="100.7" stroke="#d4d4d4" stroke-width="0.7"/>
<polygon points="540.79,99.8 544.09,95.5 546.09,100" fill="#2b3796"/>
<circle cx="530.99" cy="134.7" r="1.1" fill="#ededed" stroke="#cfcfcf" stroke-width="0.5"/>
<circle cx="545.49" cy="134.9" r="1.1" fill="#ededed" stroke="#cfcfcf" stroke-width="0.5"/>
<circle cx="534.69" cy="127.3" r="1.1" fill="#ededed" stroke="#cfcfcf" stroke-width="0.5"/>
<line x1="531.99" y1="134.7" x2="544.69" y2="134.9" stroke="#d4d4d4" stroke-width="0.7"/>
<polygon points="532.29,134 534.39,129.7 537.59,134.2" fill="#2b3796"/>
<circle cx="531.88" cy="168.7" r="1.1" fill="#ededed" stroke="#cfcfcf" stroke-width="0.5"/>
<circle cx="546.38" cy="168.9" r="1.1" fill="#ededed" stroke="#cfcfcf" stroke-width="0.5"/>
<circle cx="535.58" cy="161.3" r="1.1" fill="#ededed" stroke="#cfcfcf" stroke-width="0.5"/>
<line x1="532.88" y1="168.7" x2="545.58" y2="168.9" stroke="#d4d4d4" stroke-width="0.7"/>
<polygon points="533.18,168 535.28,163.7 538.48,168.2" fill="#2b3796"/>
<circle cx="555.17" cy="66.5" r="1.1" fill="#ededed" stroke="#cfcfcf" stroke-width="0.5"/>
<circle cx="569.67" cy="66.7" r="1.1" fill="#ededed" stroke="#cfcfcf" stroke-width="0.5"/>
<circle cx="558.87" cy="59.1" r="1.1" fill="#ededed" stroke="#cfcfcf" stroke-width="0.5"/>
<line x1="556.17" y1="66.5" x2="568.87" y2="66.7" stroke="#d4d4d4" stroke-width="0.7"/>
<polygon points="556.47,65.8 558.57,61.5 561.77,66" fill="#2b3796"/>
<circle cx="554.27" cy="100.5" r="1.1" fill="#ededed" stroke="#cfcfcf" stroke-width="0.5"/>
<circle cx="568.77" cy="100.7" r="1.1" fill="#ededed" stroke="#cfcfcf" stroke-width="0.5"/>
<circle cx="557.97" cy="93.1" r="1.1" fill="#ededed" stroke="#cfcfcf" stroke-width="0.5"/>
<line x1="555.27" y1="100.5" x2="567.97" y2="100.7" stroke="#d4d4d4" stroke-width="0.7"/>
<polygon points="555.57,99.8 557.67,95.5 560.87,100" fill="#2b3796"/>
<circle cx="554.41" cy="134.7" r="1.1" fill="#ededed" stroke="#cfcfcf" stroke-width="0.5"/>
<circle cx="568.91" cy="134.9" r="1.1" fill="#ededed" stroke="#cfcfcf" stroke-width="0.5"/>
<circle cx="558.11" cy="127.3" r="1.1" fill="#ededed" stroke="#cfcfcf" stroke-width="0.5"/>
<line x1="555.41" y1="134.7" x2="568.11" y2="134.9" stroke="#d4d4d4" stroke-width="0.7"/>
<polygon points="555.71,134 557.81,129.7 561.01,134.2" fill="#2b3796"/>
<circle cx="555.39" cy="168.7" r="1.1" fill="#ededed" stroke="#cfcfcf" stroke-width="0.5"/>
<circle cx="569.89" cy="168.9" r="1.1" fill="#ededed" stroke="#cfcfcf" stroke-width="0.5"/>
<circle cx="567.49" cy="161.3" r="1.1" fill="#ededed" stroke="#cfcfcf" stroke-width="0.5"/>
<line x1="556.39" y1="168.7" x2="569.09" y2="168.9" stroke="#d4d4d4" stroke-width="0.7"/>
<polygon points="565.09,168 568.39,163.7 570.39,168.2" fill="#2b3796"/>
<circle cx="577.93" cy="66.5" r="1.1" fill="#ededed" stroke="#cfcfcf" stroke-width="0.5"/>
<circle cx="592.43" cy="66.7" r="1.1" fill="#ededed" stroke="#cfcfcf" stroke-width="0.5"/>
<circle cx="581.63" cy="59.1" r="1.1" fill="#ededed" stroke="#cfcfcf" stroke-width="0.5"/>
<line x1="578.93" y1="66.5" x2="591.63" y2="66.7" stroke="#d4d4d4" stroke-width="0.7"/>
<polygon points="579.23,65.8 581.33,61.5 584.53,66" fill="#2b3796"/>
<circle cx="577.72" cy="100.5" r="1.1" fill="#ededed" stroke="#cfcfcf" stroke-width="0.5"/>
<circle cx="592.22" cy="100.7" r="1.1" fill="#ededed" stroke="#cfcfcf" stroke-width="0.5"/>
<circle cx="581.42" cy="93.1" r="1.1" fill="#ededed" stroke="#cfcfcf" stroke-width="0.5"/>
<line x1="578.72" y1="100.5" x2="591.42" y2="100.7" stroke="#d4d4d4" stroke-width="0.7"/>
<polygon points="579.02,99.8 581.12,95.5 584.32,100" fill="#2b3796"/>
<circle cx="577.74" cy="134.7" r="1.1" fill="#ededed" stroke="#cfcfcf" stroke-width="0.5"/>
<circle cx="592.24" cy="134.9" r="1.1" fill="#ededed" stroke="#cfcfcf" stroke-width="0.5"/>
<circle cx="581.44" cy="127.3" r="1.1" fill="#ededed" stroke="#cfcfcf" stroke-width="0.5"/>
<line x1="578.74" y1="134.7" x2="591.44" y2="134.9" stroke="#d4d4d4" stroke-width="0.7"/>
<polygon points="579.04,134 581.14,129.7 584.34,134.2" fill="#2b3796"/>
<circle cx="577.47" cy="168.7" r="1.1" fill="#ededed" stroke="#cfcfcf" stroke-width="0.5"/>
<circle cx="591.97" cy="168.9" r="1.1" fill="#ededed" stroke="#cfcfcf" stroke-width="0.5"/>
<circle cx="581.17" cy="161.3" r="1.1" fill="#ededed" stroke="#cfcfcf" stroke-width="0.5"/>
<line x1="578.47" y1="168.7" x2="591.17" y2="168.9" stroke="#d4d4d4" stroke-width="0.7"/>
<polygon points="578.77,168 580.87,163.7 584.07,168.2" fill="#2b3796"/>
<circle cx="601.46" cy="66.5" r="1.1" fill="#ededed" stroke="#cfcfcf" stroke-width="0.5"/>
<circle cx="615.96" cy="66.7" r="1.1" fill="#ededed" stroke="#cfcfcf" stroke-width="0.5"/>
<circle cx="605.16" cy="59.1" r="1.1" fill="#ededed" stroke="#cfcfcf" stroke-width="0.5"/>
<line x1="602.46" y1="66.5" x2="615.16" y2="66.7" stroke="#d4d4d4" stroke-width="0.7"/>
<polygon points="602.76,65.8 604.86,61.5 608.06,66" fill="#2b3796"/>
<circle cx="601.22" cy="100.5" r="1.1" fill="#ededed" stroke="#cfcfcf" stroke-width="0.5"/>
<circle cx="615.72" cy="100.7" r="1.1" fill="#ededed" stroke="#cfcfcf" stroke-width="0.5"/>
<circle cx="604.92" cy="93.1" r="1.1" fill="#ededed" stroke="#cfcfcf" stroke-width="0.5"/>
<line x1="602.22" y1="100.5" x2="614.92" y2="100.7" stroke="#d4d4d4" stroke-width="0.7"/>
<polygon points="602.52,99.8 604.62,95.5 607.82,100" fill="#2b3796"/>
<circle cx="600.51" cy="134.7" r="1.1" fill="#ededed" stroke="#cfcfcf" stroke-width="0.5"/>
<circle cx="615.01" cy="134.9" r="1.1" fill="#ededed" stroke="#cfcfcf" stroke-width="0.5"/>
<circle cx="612.61" cy="127.3" r="1.1" fill="#ededed" stroke="#cfcfcf" stroke-width="0.5"/>
<line x1="601.51" y1="134.7" x2="614.21" y2="134.9" stroke="#d4d4d4" stroke-width="0.7"/>
<polygon points="610.21,134 613.51,129.7 615.51,134.2" fill="#2b3796"/>
<circle cx="600.6" cy="168.7" r="1.1" fill="#ededed" stroke="#cfcfcf" stroke-width="0.5"/>
<circle cx="615.1" cy="168.9" r="1.1" fill="#ededed" stroke="#cfcfcf" stroke-width="0.5"/>
<circle cx="604.3" cy="161.3" r="1.1" fill="#ededed" stroke="#cfcfcf" stroke-width="0.5"/>
<line x1="601.6" y1="168.7" x2="614.3" y2="168.9" stroke="#d4d4d4" stroke-width="0.7"/>
<polygon points="601.9,168 604,163.7 607.2,168.2" fill="#2b3796"/>
<circle cx="623.75" cy="66.5" r="1.1" fill="#ededed" stroke="#cfcfcf" stroke-width="0.5"/>
<circle cx="638.25" cy="66.7" r="1.1" fill="#ededed" stroke="#cfcfcf" stroke-width="0.5"/>
<circle cx="627.45" cy="59.1" r="1.1" fill="#ededed" stroke="#cfcfcf" stroke-width="0.5"/>
<line x1="624.75" y1="66.5" x2="637.45" y2="66.7" stroke="#d4d4d4" stroke-width="0.7"/>
<polygon points="625.05,65.8 627.15,61.5 630.35,66" fill="#2b3796"/>
<circle cx="624.37" cy="100.5" r="1.1" fill="#ededed" stroke="#cfcfcf" stroke-width="0.5"/>
<circle cx="638.87" cy="100.7" r="1.1" fill="#ededed" stroke="#cfcfcf" stroke-width="0.5"/>
<circle cx="628.07" cy="93.1" r="1.1" fill="#ededed" stroke="#cfcfcf" stroke-width="0.5"/>
<line x1="625.37" y1="100.5" x2="638.07" y2="100.7" stroke="#d4d4d4" stroke-width="0.7"/>
<polygon points="625.67,99.8 627.77,95.5 630.97,100" fill="#2b3796"/>
<circle cx="623.99" cy="134.7" r="1.1" fill="#ededed" stroke="#cfcfcf" stroke-width="0.5"/>
<circle cx="638.49" cy="134.9" r="1.1" fill="#ededed" stroke="#cfcfcf" stroke-width="0.5"/>
<circle cx="627.69" cy="127.3" r="1.1" fill="#ededed" stroke="#cfcfcf" stroke-width="0.5"/>
<line x1="624.99" y1="134.7" x2="637.69" y2="134.9" stroke="#d4d4d4" stroke-width="0.7"/>
<polygon points="625.29,134 627.39,129.7 630.59,134.2" fill="#2b3796"/>
<circle cx="624.15" cy="168.7" r="1.1" fill="#ededed" stroke="#cfcfcf" stroke-width="0.5"/>
<circle cx="638.65" cy="168.9" r="1.1" fill="#ededed" stroke="#cfcfcf" stroke-width="0.5"/>
<circle cx="627.85" cy="161.3" r="1.1" fill="#ededed" stroke="#cfcfcf" stroke-width="0.5"/>
<line x1="625.15" y1="168.7" x2="637.85" y2="168.9" stroke="#d4d4d4" stroke-width="0.7"/>
<polygon points="625.45,168 627.55,163.7 630.75,168.2" fill="#2b3796"/>
<circle cx="540.43" cy="67.7" r="2.8" fill="#7a187c"/><circle cx="540.43" cy="67.7" r="0.84" fill="#c98fca"/>
<circle cx="539.29" cy="101.7" r="2.8" fill="#7a187c"/><circle cx="539.29" cy="101.7" r="0.84" fill="#c98fca"/>
<circle cx="539.19" cy="135.9" r="2.8" fill="#7a187c"/><circle cx="539.19" cy="135.9" r="0.84" fill="#c98fca"/>
<circle cx="540.08" cy="169.9" r="2.8" fill="#7a187c"/><circle cx="540.08" cy="169.9" r="0.84" fill="#c98fca"/>
<circle cx="563.37" cy="67.7" r="2.8" fill="#7a187c"/><circle cx="563.37" cy="67.7" r="0.84" fill="#c98fca"/>
<circle cx="562.47" cy="101.7" r="2.8" fill="#7a187c"/><circle cx="562.47" cy="101.7" r="0.84" fill="#c98fca"/>
<circle cx="562.61" cy="135.9" r="2.8" fill="#7a187c"/><circle cx="562.61" cy="135.9" r="0.84" fill="#c98fca"/>
<circle cx="563.59" cy="169.9" r="2.8" fill="#7a187c"/><circle cx="563.59" cy="169.9" r="0.84" fill="#c98fca"/>
<circle cx="586.13" cy="67.7" r="2.8" fill="#7a187c"/><circle cx="586.13" cy="67.7" r="0.84" fill="#c98fca"/>
<circle cx="585.92" cy="101.7" r="2.8" fill="#7a187c"/><circle cx="585.92" cy="101.7" r="0.84" fill="#c98fca"/>
<circle cx="585.94" cy="135.9" r="2.8" fill="#7a187c"/><circle cx="585.94" cy="135.9" r="0.84" fill="#c98fca"/>
<circle cx="585.67" cy="169.9" r="2.8" fill="#7a187c"/><circle cx="585.67" cy="169.9" r="0.84" fill="#c98fca"/>
<circle cx="609.66" cy="67.7" r="2.8" fill="#7a187c"/><circle cx="609.66" cy="67.7" r="0.84" fill="#c98fca"/>
<circle cx="609.42" cy="101.7" r="2.8" fill="#7a187c"/><circle cx="609.42" cy="101.7" r="0.84" fill="#c98fca"/>
<circle cx="608.71" cy="135.9" r="2.8" fill="#7a187c"/><circle cx="608.71" cy="135.9" r="0.84" fill="#c98fca"/>
<circle cx="608.8" cy="169.9" r="2.8" fill="#7a187c"/><circle cx="608.8" cy="169.9" r="0.84" fill="#c98fca"/>
<circle cx="631.95" cy="67.7" r="2.8" fill="#7a187c"/><circle cx="631.95" cy="67.7" r="0.84" fill="#c98fca"/>
<circle cx="632.57" cy="101.7" r="2.8" fill="#7a187c"/><circle cx="632.57" cy="101.7" r="0.84" fill="#c98fca"/>
<circle cx="632.19" cy="135.9" r="2.8" fill="#7a187c"/><circle cx="632.19" cy="135.9" r="0.84" fill="#c98fca"/>
<circle cx="632.35" cy="169.9" r="2.8" fill="#7a187c"/><circle cx="632.35" cy="169.9" r="0.84" fill="#c98fca"/>
<circle cx="548.4" cy="51.35" r="2.8" fill="#7a187c"/><circle cx="548.4" cy="51.35" r="0.84" fill="#c98fca"/>
<circle cx="554.64" cy="51.98" r="2.8" fill="#7a187c"/><circle cx="554.64" cy="51.98" r="0.84" fill="#c98fca"/>
<circle cx="571.58" cy="52.02" r="2.8" fill="#7a187c"/><circle cx="571.58" cy="52.02" r="0.84" fill="#c98fca"/>
<circle cx="577.72" cy="51.66" r="2.8" fill="#7a187c"/><circle cx="577.72" cy="51.66" r="0.84" fill="#c98fca"/>
<circle cx="594.48" cy="51.13" r="2.8" fill="#7a187c"/><circle cx="594.48" cy="51.13" r="0.84" fill="#c98fca"/>
<circle cx="601.09" cy="51.66" r="2.8" fill="#7a187c"/><circle cx="601.09" cy="51.66" r="0.84" fill="#c98fca"/>
<circle cx="617.93" cy="51.86" r="2.8" fill="#7a187c"/><circle cx="617.93" cy="51.86" r="0.84" fill="#c98fca"/>
<circle cx="624.78" cy="51.53" r="2.8" fill="#7a187c"/><circle cx="624.78" cy="51.53" r="0.84" fill="#c98fca"/>
<circle cx="530.7" cy="51.8" r="2.8" fill="#7a187c"/><circle cx="530.7" cy="51.8" r="0.84" fill="#c98fca"/>
<g clip-path="url(#clipR22)"><circle cx="640.7" cy="51.8" r="2.8" fill="#7a187c"/><circle cx="640.7" cy="51.8" r="0.84" fill="#c98fca"/></g>
<circle cx="539.9" cy="51.5" r="3.75" fill="#3a3a41"/><circle cx="539.9" cy="51.5" r="1.57" fill="#b9b9bf"/>
<circle cx="563.1" cy="51.5" r="3.75" fill="#3a3a41"/><circle cx="563.1" cy="51.5" r="1.57" fill="#b9b9bf"/>
<circle cx="586" cy="51.5" r="3.75" fill="#3a3a41"/><circle cx="586" cy="51.5" r="1.57" fill="#b9b9bf"/>
<circle cx="609.3" cy="51.5" r="3.75" fill="#3a3a41"/><circle cx="609.3" cy="51.5" r="1.57" fill="#b9b9bf"/>
<circle cx="632.5" cy="51.5" r="3.75" fill="#3a3a41"/><circle cx="632.5" cy="51.5" r="1.57" fill="#b9b9bf"/>
<circle cx="548.02" cy="85.58" r="2.8" fill="#7a187c"/><circle cx="548.02" cy="85.58" r="0.84" fill="#c98fca"/>
<circle cx="554.37" cy="85.64" r="2.8" fill="#7a187c"/><circle cx="554.37" cy="85.64" r="0.84" fill="#c98fca"/>
<circle cx="571.34" cy="85.04" r="2.8" fill="#7a187c"/><circle cx="571.34" cy="85.04" r="0.84" fill="#c98fca"/>
<circle cx="577.51" cy="85.26" r="2.8" fill="#7a187c"/><circle cx="577.51" cy="85.26" r="0.84" fill="#c98fca"/>
<circle cx="594.23" cy="84.83" r="2.8" fill="#7a187c"/><circle cx="594.23" cy="84.83" r="0.84" fill="#c98fca"/>
<circle cx="600.85" cy="84.98" r="2.8" fill="#7a187c"/><circle cx="600.85" cy="84.98" r="0.84" fill="#c98fca"/>
<circle cx="618.39" cy="85.43" r="2.8" fill="#7a187c"/><circle cx="618.39" cy="85.43" r="0.84" fill="#c98fca"/>
<circle cx="624.23" cy="84.86" r="2.8" fill="#7a187c"/><circle cx="624.23" cy="84.86" r="0.84" fill="#c98fca"/>
<circle cx="530.7" cy="85.5" r="2.8" fill="#7a187c"/><circle cx="530.7" cy="85.5" r="0.84" fill="#c98fca"/>
<g clip-path="url(#clipR22)"><circle cx="640.7" cy="85.5" r="2.8" fill="#7a187c"/><circle cx="640.7" cy="85.5" r="0.84" fill="#c98fca"/></g>
<circle cx="539.9" cy="85.2" r="3.75" fill="#3a3a41"/><circle cx="539.9" cy="85.2" r="1.57" fill="#b9b9bf"/>
<circle cx="563.1" cy="85.2" r="3.75" fill="#3a3a41"/><circle cx="563.1" cy="85.2" r="1.57" fill="#b9b9bf"/>
<circle cx="586" cy="85.2" r="3.75" fill="#3a3a41"/><circle cx="586" cy="85.2" r="1.57" fill="#b9b9bf"/>
<circle cx="609.3" cy="85.2" r="3.75" fill="#3a3a41"/><circle cx="609.3" cy="85.2" r="1.57" fill="#b9b9bf"/>
<circle cx="632.5" cy="85.2" r="3.75" fill="#3a3a41"/><circle cx="632.5" cy="85.2" r="1.57" fill="#b9b9bf"/>
<circle cx="548.79" cy="119.26" r="2.8" fill="#7a187c"/><circle cx="548.79" cy="119.26" r="0.84" fill="#c98fca"/>
<circle cx="554.42" cy="118.8" r="2.8" fill="#7a187c"/><circle cx="554.42" cy="118.8" r="0.84" fill="#c98fca"/>
<circle cx="571.25" cy="118.75" r="2.8" fill="#7a187c"/><circle cx="571.25" cy="118.75" r="0.84" fill="#c98fca"/>
<circle cx="578.2" cy="118.64" r="2.8" fill="#7a187c"/><circle cx="578.2" cy="118.64" r="0.84" fill="#c98fca"/>
<circle cx="594.14" cy="119.31" r="2.8" fill="#7a187c"/><circle cx="594.14" cy="119.31" r="0.84" fill="#c98fca"/>
<circle cx="600.56" cy="118.88" r="2.8" fill="#7a187c"/><circle cx="600.56" cy="118.88" r="0.84" fill="#c98fca"/>
<circle cx="618.12" cy="119.46" r="2.8" fill="#7a187c"/><circle cx="618.12" cy="119.46" r="0.84" fill="#c98fca"/>
<circle cx="624.27" cy="118.67" r="2.8" fill="#7a187c"/><circle cx="624.27" cy="118.67" r="0.84" fill="#c98fca"/>
<circle cx="530.7" cy="119.3" r="2.8" fill="#7a187c"/><circle cx="530.7" cy="119.3" r="0.84" fill="#c98fca"/>
<g clip-path="url(#clipR22)"><circle cx="640.7" cy="119.3" r="2.8" fill="#7a187c"/><circle cx="640.7" cy="119.3" r="0.84" fill="#c98fca"/></g>
<circle cx="539.9" cy="119" r="3.75" fill="#3a3a41"/><circle cx="539.9" cy="119" r="1.57" fill="#b9b9bf"/>
<circle cx="563.1" cy="119" r="3.75" fill="#3a3a41"/><circle cx="563.1" cy="119" r="1.57" fill="#b9b9bf"/>
<circle cx="586" cy="119" r="3.75" fill="#3a3a41"/><circle cx="586" cy="119" r="1.57" fill="#b9b9bf"/>
<circle cx="609.3" cy="119" r="3.75" fill="#3a3a41"/><circle cx="609.3" cy="119" r="1.57" fill="#b9b9bf"/>
<circle cx="632.5" cy="119" r="3.75" fill="#3a3a41"/><circle cx="632.5" cy="119" r="1.57" fill="#b9b9bf"/>
<circle cx="548.03" cy="153.61" r="2.8" fill="#7a187c"/><circle cx="548.03" cy="153.61" r="0.84" fill="#c98fca"/>
<circle cx="554.61" cy="152.92" r="2.8" fill="#7a187c"/><circle cx="554.61" cy="152.92" r="0.84" fill="#c98fca"/>
<circle cx="571.32" cy="153.15" r="2.8" fill="#7a187c"/><circle cx="571.32" cy="153.15" r="0.84" fill="#c98fca"/>
<circle cx="577.58" cy="152.9" r="2.8" fill="#7a187c"/><circle cx="577.58" cy="152.9" r="0.84" fill="#c98fca"/>
<circle cx="594.75" cy="153.4" r="2.8" fill="#7a187c"/><circle cx="594.75" cy="153.4" r="0.84" fill="#c98fca"/>
<circle cx="601.24" cy="152.98" r="2.8" fill="#7a187c"/><circle cx="601.24" cy="152.98" r="0.84" fill="#c98fca"/>
<circle cx="617.39" cy="152.99" r="2.8" fill="#7a187c"/><circle cx="617.39" cy="152.99" r="0.84" fill="#c98fca"/>
<circle cx="624.51" cy="153.79" r="2.8" fill="#7a187c"/><circle cx="624.51" cy="153.79" r="0.84" fill="#c98fca"/>
<circle cx="530.7" cy="153.5" r="2.8" fill="#7a187c"/><circle cx="530.7" cy="153.5" r="0.84" fill="#c98fca"/>
<g clip-path="url(#clipR22)"><circle cx="640.7" cy="153.5" r="2.8" fill="#7a187c"/><circle cx="640.7" cy="153.5" r="0.84" fill="#c98fca"/></g>
<circle cx="539.9" cy="153.2" r="3.75" fill="#3a3a41"/><circle cx="539.9" cy="153.2" r="1.57" fill="#b9b9bf"/>
<circle cx="563.1" cy="153.2" r="3.75" fill="#3a3a41"/><circle cx="563.1" cy="153.2" r="1.57" fill="#b9b9bf"/>
<circle cx="586" cy="153.2" r="3.75" fill="#3a3a41"/><circle cx="586" cy="153.2" r="1.57" fill="#b9b9bf"/>
<circle cx="609.3" cy="153.2" r="3.75" fill="#3a3a41"/><circle cx="609.3" cy="153.2" r="1.57" fill="#b9b9bf"/>
<circle cx="632.5" cy="153.2" r="3.75" fill="#3a3a41"/><circle cx="632.5" cy="153.2" r="1.57" fill="#b9b9bf"/>
<circle cx="547.98" cy="186.52" r="2.8" fill="#7a187c"/><circle cx="547.98" cy="186.52" r="0.84" fill="#c98fca"/>
<circle cx="555.2" cy="187.08" r="2.8" fill="#7a187c"/><circle cx="555.2" cy="187.08" r="0.84" fill="#c98fca"/>
<circle cx="571.84" cy="186.9" r="2.8" fill="#7a187c"/><circle cx="571.84" cy="186.9" r="0.84" fill="#c98fca"/>
<circle cx="577.64" cy="187.41" r="2.8" fill="#7a187c"/><circle cx="577.64" cy="187.41" r="0.84" fill="#c98fca"/>
<circle cx="594.63" cy="186.68" r="2.8" fill="#7a187c"/><circle cx="594.63" cy="186.68" r="0.84" fill="#c98fca"/>
<circle cx="600.69" cy="187.34" r="2.8" fill="#7a187c"/><circle cx="600.69" cy="187.34" r="0.84" fill="#c98fca"/>
<circle cx="618.05" cy="186.71" r="2.8" fill="#7a187c"/><circle cx="618.05" cy="186.71" r="0.84" fill="#c98fca"/>
<circle cx="624.6" cy="187.14" r="2.8" fill="#7a187c"/><circle cx="624.6" cy="187.14" r="0.84" fill="#c98fca"/>
<circle cx="530.7" cy="187.2" r="2.8" fill="#7a187c"/><circle cx="530.7" cy="187.2" r="0.84" fill="#c98fca"/>
<g clip-path="url(#clipR22)"><circle cx="640.7" cy="187.2" r="2.8" fill="#7a187c"/><circle cx="640.7" cy="187.2" r="0.84" fill="#c98fca"/></g>
<circle cx="539.9" cy="186.9" r="3.75" fill="#3a3a41"/><circle cx="539.9" cy="186.9" r="1.57" fill="#b9b9bf"/>
<circle cx="563.1" cy="186.9" r="3.75" fill="#3a3a41"/><circle cx="563.1" cy="186.9" r="1.57" fill="#b9b9bf"/>
<circle cx="586" cy="186.9" r="3.75" fill="#3a3a41"/><circle cx="586" cy="186.9" r="1.57" fill="#b9b9bf"/>
<circle cx="609.3" cy="186.9" r="3.75" fill="#3a3a41"/><circle cx="609.3" cy="186.9" r="1.57" fill="#b9b9bf"/>
<circle cx="632.5" cy="186.9" r="3.75" fill="#3a3a41"/><circle cx="632.5" cy="186.9" r="1.57" fill="#b9b9bf"/>
<line x1="462.3" y1="201.4" x2="465" y2="208" stroke="#8c8c8c" stroke-width="1.3"/>
<line x1="465" y1="208" x2="466.2" y2="212.8" stroke="#8c8c8c" stroke-width="1.3"/>
<line x1="466.2" y1="212.8" x2="466.2" y2="221.8" stroke="#8c8c8c" stroke-width="1.3"/>
<line x1="466.2" y1="221.8" x2="474" y2="224.9" stroke="#8c8c8c" stroke-width="1.3"/>
<line x1="474" y1="224.9" x2="478.2" y2="218.2" stroke="#8c8c8c" stroke-width="1.3"/>
<line x1="478.2" y1="218.2" x2="484.2" y2="218.2" stroke="#8c8c8c" stroke-width="1.3"/>
<line x1="484.2" y1="218.2" x2="483" y2="228.5" stroke="#8c8c8c" stroke-width="1.3"/>
<line x1="483" y1="228.5" x2="491.5" y2="229.1" stroke="#8c8c8c" stroke-width="1.3"/>
<line x1="491.5" y1="229.1" x2="494.5" y2="223.7" stroke="#8c8c8c" stroke-width="1.3"/>
<line x1="491.5" y1="229.1" x2="492.1" y2="235.3" stroke="#8c8c8c" stroke-width="1.3"/>
<line x1="492.1" y1="235.3" x2="489.1" y2="238.3" stroke="#8c8c8c" stroke-width="1.3"/>
<line x1="474" y1="224.9" x2="476.5" y2="232.5" stroke="#8c8c8c" stroke-width="1.3"/>
<line x1="476.5" y1="232.5" x2="481.5" y2="235" stroke="#8c8c8c" stroke-width="1.3"/>
<line x1="481.5" y1="235" x2="483" y2="228.5" stroke="#8c8c8c" stroke-width="1.3"/>
<line x1="481.5" y1="235" x2="482.5" y2="239" stroke="#8c8c8c" stroke-width="1.3"/>
<line x1="466.2" y1="221.8" x2="466.2" y2="234.9" stroke="#8c8c8c" stroke-width="1.3"/>
<line x1="466.2" y1="234.9" x2="472.2" y2="236.1" stroke="#8c8c8c" stroke-width="1.3"/>
<line x1="472.2" y1="236.1" x2="472.8" y2="244.5" stroke="#8c8c8c" stroke-width="1.3"/>
<line x1="472.8" y1="244.5" x2="465.6" y2="249.3" stroke="#8c8c8c" stroke-width="1.3"/>
<line x1="465.6" y1="249.3" x2="461" y2="245" stroke="#8c8c8c" stroke-width="1.3"/>
<line x1="461" y1="245" x2="462.6" y2="239.1" stroke="#8c8c8c" stroke-width="1.3"/>
<line x1="462.6" y1="239.1" x2="466.2" y2="234.9" stroke="#8c8c8c" stroke-width="1.3"/>
<line x1="465.6" y1="249.3" x2="469.8" y2="256" stroke="#8c8c8c" stroke-width="1.3"/>
<line x1="469.8" y1="256" x2="465.6" y2="260.8" stroke="#8c8c8c" stroke-width="1.3"/>
<line x1="469.8" y1="256" x2="474.6" y2="259" stroke="#8c8c8c" stroke-width="1.3"/>
<line x1="465.6" y1="260.8" x2="466.8" y2="265.6" stroke="#8c8c8c" stroke-width="1.3"/>
<line x1="472.8" y1="244.5" x2="476.5" y2="246" stroke="#8c8c8c" stroke-width="1.3"/>
<line x1="461" y1="245" x2="459.5" y2="250.5" stroke="#8c8c8c" stroke-width="1.3"/>
<line x1="462.6" y1="239.1" x2="459.5" y2="236.5" stroke="#8c8c8c" stroke-width="1.3"/>
<line x1="466.2" y1="221.8" x2="457.8" y2="222" stroke="#8c8c8c" stroke-width="1.3"/>
<line x1="457.8" y1="222" x2="452.5" y2="221" stroke="#8c8c8c" stroke-width="1.3"/>
<line x1="452.5" y1="221" x2="447" y2="220.5" stroke="#8c8c8c" stroke-width="1.3"/>
<line x1="447" y1="220.5" x2="441.5" y2="219.8" stroke="#8c8c8c" stroke-width="1.3"/>
<line x1="441.5" y1="219.8" x2="437" y2="219.5" stroke="#8c8c8c" stroke-width="1.3"/>
<line x1="437" y1="219.5" x2="433" y2="219" stroke="#8c8c8c" stroke-width="1.3"/>
<circle cx="462.3" cy="201.4" r="2.12" fill="#f2df1e" stroke="#d8c010" stroke-width="0.4"/>
<circle cx="465" cy="208" r="1.27" fill="#e6e6e6" stroke="#7b7b7b" stroke-width="1.1"/>
<circle cx="466.2" cy="212.8" r="1.61" fill="#3a48c4" stroke="#2a38b4" stroke-width="0.9"/>
<circle cx="466.2" cy="221.8" r="1.27" fill="#e6e6e6" stroke="#7b7b7b" stroke-width="1.1"/>
<circle cx="474" cy="224.9" r="1.61" fill="#3a48c4" stroke="#2a38b4" stroke-width="0.9"/>
<circle cx="478.2" cy="218.2" r="1.27" fill="#e6e6e6" stroke="#7b7b7b" stroke-width="1.1"/>
<circle cx="484.2" cy="218.2" r="1.27" fill="#e6e6e6" stroke="#7b7b7b" stroke-width="1.1"/>
<circle cx="483" cy="228.5" r="2.12" fill="#f2df1e" stroke="#d8c010" stroke-width="0.4"/>
<circle cx="491.5" cy="229.1" r="1.27" fill="#e6e6e6" stroke="#7b7b7b" stroke-width="1.1"/>
<circle cx="494.5" cy="223.7" r="1.53" fill="#e86a6a" stroke="#cf1a1a" stroke-width="1.25"/>
<circle cx="492.1" cy="235.3" r="1.53" fill="#e86a6a" stroke="#cf1a1a" stroke-width="1.25"/>
<circle cx="489.1" cy="238.3" r="1.1" fill="#f6f6f6" stroke="#cfcfcf" stroke-width="0.7"/>
<circle cx="476.5" cy="232.5" r="1.27" fill="#e6e6e6" stroke="#7b7b7b" stroke-width="1.1"/>
<circle cx="481.5" cy="235" r="1.27" fill="#e6e6e6" stroke="#7b7b7b" stroke-width="1.1"/>
<circle cx="482.5" cy="239" r="1.1" fill="#f6f6f6" stroke="#cfcfcf" stroke-width="0.7"/>
<circle cx="466.2" cy="234.9" r="1.61" fill="#3a48c4" stroke="#2a38b4" stroke-width="0.9"/>
<circle cx="472.2" cy="236.1" r="1.27" fill="#e6e6e6" stroke="#7b7b7b" stroke-width="1.1"/>
<circle cx="472.8" cy="244.5" r="1.27" fill="#e6e6e6" stroke="#7b7b7b" stroke-width="1.1"/>
<circle cx="465.6" cy="249.3" r="1.27" fill="#e6e6e6" stroke="#7b7b7b" stroke-width="1.1"/>
<circle cx="461" cy="245" r="1.27" fill="#e6e6e6" stroke="#7b7b7b" stroke-width="1.1"/>
<circle cx="462.6" cy="239.1" r="1.27" fill="#e6e6e6" stroke="#7b7b7b" stroke-width="1.1"/>
<circle cx="469.8" cy="256" r="1.27" fill="#e6e6e6" stroke="#7b7b7b" stroke-width="1.1"/>
<circle cx="465.6" cy="260.8" r="1.53" fill="#e86a6a" stroke="#cf1a1a" stroke-width="1.25"/>
<circle cx="474.6" cy="259" r="1.53" fill="#e86a6a" stroke="#cf1a1a" stroke-width="1.25"/>
<circle cx="466.8" cy="265.6" r="1.1" fill="#f6f6f6" stroke="#cfcfcf" stroke-width="0.7"/>
<circle cx="476.5" cy="246" r="1.1" fill="#f6f6f6" stroke="#cfcfcf" stroke-width="0.7"/>
<circle cx="459.5" cy="250.5" r="1.1" fill="#f6f6f6" stroke="#cfcfcf" stroke-width="0.7"/>
<circle cx="459.5" cy="236.5" r="1.1" fill="#f6f6f6" stroke="#cfcfcf" stroke-width="0.7"/>
<circle cx="457.8" cy="222" r="1.27" fill="#e6e6e6" stroke="#7b7b7b" stroke-width="1.1"/>
<circle cx="452.5" cy="221" r="1.27" fill="#e6e6e6" stroke="#7b7b7b" stroke-width="1.1"/>
<circle cx="447" cy="220.5" r="1.27" fill="#e6e6e6" stroke="#7b7b7b" stroke-width="1.1"/>
<circle cx="441.5" cy="219.8" r="1.27" fill="#e6e6e6" stroke="#7b7b7b" stroke-width="1.1"/>
<circle cx="437" cy="219.5" r="1.27" fill="#e6e6e6" stroke="#7b7b7b" stroke-width="1.1"/>
<circle cx="433" cy="219" r="1.53" fill="#e86a6a" stroke="#cf1a1a" stroke-width="1.25"/>
<line x1="585.5" y1="203.5" x2="580.2" y2="199.3" stroke="#8c8c8c" stroke-width="1.3"/>
<line x1="585.5" y1="203.5" x2="590.8" y2="199.3" stroke="#8c8c8c" stroke-width="1.3"/>
<line x1="585.5" y1="203.5" x2="585" y2="209.5" stroke="#8c8c8c" stroke-width="1.3"/>
<line x1="585" y1="209.5" x2="578.6" y2="213.4" stroke="#8c8c8c" stroke-width="1.3"/>
<line x1="585" y1="209.5" x2="589.6" y2="213.4" stroke="#8c8c8c" stroke-width="1.3"/>
<line x1="578.6" y1="213.4" x2="577.8" y2="221.8" stroke="#8c8c8c" stroke-width="1.3"/>
<line x1="589.6" y1="213.4" x2="589.2" y2="221.8" stroke="#8c8c8c" stroke-width="1.3"/>
<line x1="577.8" y1="221.8" x2="583.2" y2="224.9" stroke="#8c8c8c" stroke-width="1.3"/>
<line x1="589.2" y1="221.8" x2="583.2" y2="224.9" stroke="#8c8c8c" stroke-width="1.3"/>
<line x1="589.2" y1="221.8" x2="593.4" y2="225.5" stroke="#8c8c8c" stroke-width="1.3"/>
<line x1="593.4" y1="225.5" x2="598.8" y2="222.5" stroke="#8c8c8c" stroke-width="1.3"/>
<line x1="598.8" y1="222.5" x2="600" y2="218.2" stroke="#8c8c8c" stroke-width="1.3"/>
<line x1="598.8" y1="222.5" x2="604.3" y2="227.9" stroke="#8c8c8c" stroke-width="1.3"/>
<line x1="604.3" y1="227.9" x2="609.7" y2="224.9" stroke="#8c8c8c" stroke-width="1.3"/>
<line x1="609.7" y1="224.9" x2="610.9" y2="219.3" stroke="#8c8c8c" stroke-width="1.3"/>
<line x1="609.7" y1="224.9" x2="613.3" y2="229.7" stroke="#8c8c8c" stroke-width="1.3"/>
<line x1="613.3" y1="229.7" x2="616.9" y2="227.9" stroke="#8c8c8c" stroke-width="1.3"/>
<line x1="604.3" y1="227.9" x2="603.5" y2="235.8" stroke="#8c8c8c" stroke-width="1.3"/>
<line x1="603.5" y1="235.8" x2="598.8" y2="234.5" stroke="#8c8c8c" stroke-width="1.3"/>
<line x1="603.5" y1="235.8" x2="605.5" y2="239.5" stroke="#8c8c8c" stroke-width="1.3"/>
<line x1="598.8" y1="234.5" x2="596" y2="238.5" stroke="#8c8c8c" stroke-width="1.3"/>
<line x1="596" y1="238.5" x2="595.3" y2="243.5" stroke="#8c8c8c" stroke-width="1.3"/>
<line x1="596" y1="238.5" x2="591" y2="233.9" stroke="#8c8c8c" stroke-width="1.3"/>
<line x1="591" y1="233.9" x2="593.4" y2="225.5" stroke="#8c8c8c" stroke-width="1.3"/>
<line x1="574.8" y1="236.3" x2="569.3" y2="233.3" stroke="#8c8c8c" stroke-width="1.3"/>
<line x1="569.3" y1="233.3" x2="567.2" y2="228.5" stroke="#8c8c8c" stroke-width="1.3"/>
<line x1="569.3" y1="233.3" x2="573.4" y2="228.8" stroke="#8c8c8c" stroke-width="1.3"/>
<line x1="573.4" y1="228.8" x2="574.3" y2="224.5" stroke="#8c8c8c" stroke-width="1.3"/>
<line x1="573.4" y1="228.8" x2="577.8" y2="221.8" stroke="#8c8c8c" stroke-width="1.3"/>
<line x1="569.3" y1="233.3" x2="563.9" y2="239.9" stroke="#8c8c8c" stroke-width="1.3"/>
<line x1="563.9" y1="239.9" x2="560.3" y2="236.9" stroke="#8c8c8c" stroke-width="1.3"/>
<line x1="560.3" y1="236.9" x2="557.5" y2="239" stroke="#8c8c8c" stroke-width="1.3"/>
<line x1="563.9" y1="239.9" x2="562.7" y2="243.5" stroke="#8c8c8c" stroke-width="1.3"/>
<line x1="562.7" y1="243.5" x2="562.1" y2="248.3" stroke="#8c8c8c" stroke-width="1.3"/>
<line x1="562.7" y1="243.5" x2="570.6" y2="245.9" stroke="#8c8c8c" stroke-width="1.3"/>
<line x1="570.6" y1="245.9" x2="576.5" y2="240.5" stroke="#8c8c8c" stroke-width="1.3"/>
<line x1="576.5" y1="240.5" x2="574.8" y2="236.3" stroke="#8c8c8c" stroke-width="1.3"/>
<line x1="570.6" y1="245.9" x2="571.5" y2="250.5" stroke="#8c8c8c" stroke-width="1.3"/>
<line x1="583.8" y1="245.9" x2="579.6" y2="250.7" stroke="#8c8c8c" stroke-width="1.3"/>
<line x1="583.8" y1="245.9" x2="588.6" y2="250.7" stroke="#8c8c8c" stroke-width="1.3"/>
<line x1="579.6" y1="250.7" x2="579" y2="256.8" stroke="#8c8c8c" stroke-width="1.3"/>
<line x1="588.6" y1="250.7" x2="588" y2="257.4" stroke="#8c8c8c" stroke-width="1.3"/>
<line x1="579" y1="256.8" x2="582.6" y2="261" stroke="#8c8c8c" stroke-width="1.3"/>
<line x1="588" y1="257.4" x2="582.6" y2="261" stroke="#8c8c8c" stroke-width="1.3"/>
<line x1="582.6" y1="261" x2="582" y2="267.6" stroke="#8c8c8c" stroke-width="1.3"/>
<line x1="582" y1="267.6" x2="578.4" y2="271" stroke="#8c8c8c" stroke-width="1.3"/>
<line x1="582" y1="267.6" x2="586" y2="272.4" stroke="#8c8c8c" stroke-width="1.3"/>
<line x1="586" y1="272.4" x2="585.6" y2="276.6" stroke="#8c8c8c" stroke-width="1.3"/>
<line x1="579" y1="256.8" x2="576.2" y2="259.5" stroke="#8c8c8c" stroke-width="1.3"/>
<line x1="588" y1="257.4" x2="590.6" y2="260.5" stroke="#8c8c8c" stroke-width="1.3"/>
<line x1="588.6" y1="250.7" x2="591.5" y2="248.5" stroke="#8c8c8c" stroke-width="1.3"/>
<line x1="583.2" y1="224.9" x2="583.2" y2="234.8" stroke="#8c8c8c" stroke-width="1.3"/>
<line x1="583.2" y1="234.8" x2="591" y2="233.9" stroke="#8c8c8c" stroke-width="1.3"/>
<line x1="583.2" y1="234.8" x2="574.8" y2="236.3" stroke="#8c8c8c" stroke-width="1.3"/>
<line x1="583.2" y1="234.8" x2="583.8" y2="245.9" stroke="#8c8c8c" stroke-width="1.3"/>
<circle cx="585.5" cy="203.5" r="1.27" fill="#e6e6e6" stroke="#7b7b7b" stroke-width="1.1"/>
<circle cx="580.2" cy="199.3" r="1.53" fill="#e86a6a" stroke="#cf1a1a" stroke-width="1.25"/>
<circle cx="590.8" cy="199.3" r="1.53" fill="#e86a6a" stroke="#cf1a1a" stroke-width="1.25"/>
<circle cx="585" cy="209.5" r="1.27" fill="#e6e6e6" stroke="#7b7b7b" stroke-width="1.1"/>
<circle cx="578.6" cy="213.4" r="1.27" fill="#e6e6e6" stroke="#7b7b7b" stroke-width="1.1"/>
<circle cx="589.6" cy="213.4" r="1.27" fill="#e6e6e6" stroke="#7b7b7b" stroke-width="1.1"/>
<circle cx="577.8" cy="221.8" r="1.27" fill="#e6e6e6" stroke="#7b7b7b" stroke-width="1.1"/>
<circle cx="589.2" cy="221.8" r="1.27" fill="#e6e6e6" stroke="#7b7b7b" stroke-width="1.1"/>
<circle cx="583.2" cy="224.9" r="1.61" fill="#3a48c4" stroke="#2a38b4" stroke-width="0.9"/>
<circle cx="593.4" cy="225.5" r="1.27" fill="#e6e6e6" stroke="#7b7b7b" stroke-width="1.1"/>
<circle cx="598.8" cy="222.5" r="1.27" fill="#e6e6e6" stroke="#7b7b7b" stroke-width="1.1"/>
<circle cx="600" cy="218.2" r="1.1" fill="#f6f6f6" stroke="#cfcfcf" stroke-width="0.7"/>
<circle cx="604.3" cy="227.9" r="1.27" fill="#e6e6e6" stroke="#7b7b7b" stroke-width="1.1"/>
<circle cx="609.7" cy="224.9" r="1.27" fill="#e6e6e6" stroke="#7b7b7b" stroke-width="1.1"/>
<circle cx="610.9" cy="219.3" r="1.53" fill="#e86a6a" stroke="#cf1a1a" stroke-width="1.25"/>
<circle cx="613.3" cy="229.7" r="1.53" fill="#e86a6a" stroke="#cf1a1a" stroke-width="1.25"/>
<circle cx="616.9" cy="227.9" r="1.1" fill="#f6f6f6" stroke="#cfcfcf" stroke-width="0.7"/>
<circle cx="598.8" cy="234.5" r="2.12" fill="#f2df1e" stroke="#d8c010" stroke-width="0.4"/>
<circle cx="603.5" cy="235.8" r="1.27" fill="#e6e6e6" stroke="#7b7b7b" stroke-width="1.1"/>
<circle cx="605.5" cy="239.5" r="1.1" fill="#f6f6f6" stroke="#cfcfcf" stroke-width="0.7"/>
<circle cx="596" cy="238.5" r="1.27" fill="#e6e6e6" stroke="#7b7b7b" stroke-width="1.1"/>
<circle cx="595.3" cy="243.5" r="1.1" fill="#f6f6f6" stroke="#cfcfcf" stroke-width="0.7"/>
<circle cx="591" cy="233.9" r="1.61" fill="#3a48c4" stroke="#2a38b4" stroke-width="0.9"/>
<circle cx="574.8" cy="236.3" r="1.61" fill="#3a48c4" stroke="#2a38b4" stroke-width="0.9"/>
<circle cx="569.3" cy="233.3" r="1.27" fill="#e6e6e6" stroke="#7b7b7b" stroke-width="1.1"/>
<circle cx="567.2" cy="228.5" r="1.1" fill="#f6f6f6" stroke="#cfcfcf" stroke-width="0.7"/>
<circle cx="573.4" cy="228.8" r="1.27" fill="#e6e6e6" stroke="#7b7b7b" stroke-width="1.1"/>
<circle cx="574.3" cy="224.5" r="1.53" fill="#e86a6a" stroke="#cf1a1a" stroke-width="1.25"/>
<circle cx="563.9" cy="239.9" r="2.12" fill="#f2df1e" stroke="#d8c010" stroke-width="0.4"/>
<circle cx="560.3" cy="236.9" r="1.53" fill="#e86a6a" stroke="#cf1a1a" stroke-width="1.25"/>
<circle cx="557.5" cy="239" r="1.1" fill="#f6f6f6" stroke="#cfcfcf" stroke-width="0.7"/>
<circle cx="562.7" cy="243.5" r="1.27" fill="#e6e6e6" stroke="#7b7b7b" stroke-width="1.1"/>
<circle cx="562.1" cy="248.3" r="1.53" fill="#e86a6a" stroke="#cf1a1a" stroke-width="1.25"/>
<circle cx="570.6" cy="245.9" r="1.27" fill="#e6e6e6" stroke="#7b7b7b" stroke-width="1.1"/>
<circle cx="576.5" cy="240.5" r="1.27" fill="#e6e6e6" stroke="#7b7b7b" stroke-width="1.1"/>
<circle cx="571.5" cy="250.5" r="1.1" fill="#f6f6f6" stroke="#cfcfcf" stroke-width="0.7"/>
<circle cx="583.8" cy="245.9" r="1.61" fill="#3a48c4" stroke="#2a38b4" stroke-width="0.9"/>
<circle cx="579.6" cy="250.7" r="1.27" fill="#e6e6e6" stroke="#7b7b7b" stroke-width="1.1"/>
<circle cx="588.6" cy="250.7" r="1.27" fill="#e6e6e6" stroke="#7b7b7b" stroke-width="1.1"/>
<circle cx="579" cy="256.8" r="1.27" fill="#e6e6e6" stroke="#7b7b7b" stroke-width="1.1"/>
<circle cx="588" cy="257.4" r="1.27" fill="#e6e6e6" stroke="#7b7b7b" stroke-width="1.1"/>
<circle cx="582.6" cy="261" r="1.27" fill="#e6e6e6" stroke="#7b7b7b" stroke-width="1.1"/>
<circle cx="582" cy="267.6" r="1.27" fill="#e6e6e6" stroke="#7b7b7b" stroke-width="1.1"/>
<circle cx="578.4" cy="271" r="1.53" fill="#e86a6a" stroke="#cf1a1a" stroke-width="1.25"/>
<circle cx="586" cy="272.4" r="1.53" fill="#e86a6a" stroke="#cf1a1a" stroke-width="1.25"/>
<circle cx="585.6" cy="276.6" r="1.1" fill="#f6f6f6" stroke="#cfcfcf" stroke-width="0.7"/>
<circle cx="576.2" cy="259.5" r="1.1" fill="#f6f6f6" stroke="#cfcfcf" stroke-width="0.7"/>
<circle cx="590.6" cy="260.5" r="1.1" fill="#f6f6f6" stroke="#cfcfcf" stroke-width="0.7"/>
<circle cx="591.5" cy="248.5" r="1.1" fill="#f6f6f6" stroke="#cfcfcf" stroke-width="0.7"/>
<circle cx="583.2" cy="234.8" r="1.27" fill="#e6e6e6" stroke="#7b7b7b" stroke-width="1.1"/>
</g>
<g filter="url(#blur06)">
<ellipse cx="465" cy="149" rx="5" ry="2.4" fill="#5a5cc8" opacity="0.72"/>
<ellipse cx="465.8" cy="162.3" rx="5.2" ry="3.2" fill="#5a5cc8" opacity="0.72"/>
<ellipse cx="461.5" cy="169" rx="2.5" ry="1.6" fill="#e0615c" opacity="0.72"/>
<ellipse cx="465.6" cy="171" rx="3.5" ry="2" fill="#5a5cc8" opacity="0.72"/>
<ellipse cx="465.6" cy="176.7" rx="5" ry="2" fill="#e0615c" opacity="0.72"/>
<ellipse cx="465.6" cy="188" rx="15" ry="6.5" fill="#e0615c" opacity="0.72"/>
<ellipse cx="456" cy="185.5" rx="5" ry="3.5" fill="#8a2a6c" opacity="0.8"/>
<ellipse cx="475" cy="185.5" rx="5" ry="3.5" fill="#8a2a6c" opacity="0.8"/>
<ellipse cx="465.6" cy="183" rx="5" ry="3" fill="#5a5cc8" opacity="0.72"/>
<ellipse cx="442" cy="189.3" rx="3" ry="2.6" fill="#5a5cc8" opacity="0.72"/>
<ellipse cx="449" cy="192.5" rx="3.6" ry="2.6" fill="#5a5cc8" opacity="0.72"/>
<ellipse cx="481.8" cy="190.5" rx="5.5" ry="3.6" fill="#5a5cc8" opacity="0.72"/>
<ellipse cx="478" cy="181" rx="3" ry="2.4" fill="#5a5cc8" opacity="0.72"/>
<ellipse cx="465.5" cy="194.5" rx="6" ry="3" fill="#5a5cc8" opacity="0.72"/>
<ellipse cx="460.2" cy="201.8" rx="8.4" ry="8.6" fill="#e0615c" opacity="0.72"/>
<ellipse cx="463" cy="201" rx="3.5" ry="5" fill="#d01822" opacity="0.95"/>
<ellipse cx="469.8" cy="213.4" rx="5.2" ry="5" fill="#e0615c" opacity="0.72"/>
<ellipse cx="464" cy="216" rx="3.5" ry="3.5" fill="#e0615c" opacity="0.72"/>
<ellipse cx="466.2" cy="212.5" rx="3" ry="3" fill="#2d3bb8" opacity="0.85"/>
<ellipse cx="475" cy="214.5" rx="2" ry="2" fill="#5a5cc8" opacity="0.72"/>
<ellipse cx="434" cy="217.5" rx="2.6" ry="2.4" fill="#e0615c" opacity="0.72"/>
<ellipse cx="434" cy="222" rx="2.6" ry="2.4" fill="#e0615c" opacity="0.72"/>
<ellipse cx="440" cy="220" rx="2.8" ry="2.6" fill="#d01822" opacity="0.95"/>
<ellipse cx="446" cy="218" rx="2.6" ry="2.4" fill="#e0615c" opacity="0.72"/>
<ellipse cx="446.5" cy="223" rx="2.6" ry="2.4" fill="#e0615c" opacity="0.72"/>
<ellipse cx="453" cy="221" rx="3.2" ry="2.8" fill="#e0615c" opacity="0.72"/>
<ellipse cx="456.5" cy="219.5" rx="2.6" ry="2.2" fill="#e0615c" opacity="0.72"/>
<ellipse cx="458.5" cy="222.5" rx="2.6" ry="2" fill="#5a5cc8" opacity="0.72"/>
<ellipse cx="443" cy="220.5" rx="2" ry="2" fill="#5a5cc8" opacity="0.72"/>
<ellipse cx="466.2" cy="222.2" rx="5" ry="3.4" fill="#5a5cc8" opacity="0.72"/>
<ellipse cx="466" cy="226.5" rx="3.5" ry="2" fill="#e0615c" opacity="0.72"/>
<ellipse cx="474" cy="225.2" rx="2.8" ry="2.8" fill="#2d3bb8" opacity="0.85"/>
<ellipse cx="478" cy="218" rx="2.4" ry="2" fill="#e0615c" opacity="0.72"/>
<ellipse cx="484.5" cy="219.5" rx="2.6" ry="2.4" fill="#5a5cc8" opacity="0.72"/>
<ellipse cx="486" cy="215.2" rx="1.6" ry="1.6" fill="#e0615c" opacity="0.72"/>
<ellipse cx="466.2" cy="233.5" rx="2.8" ry="3.5" fill="#5a5cc8" opacity="0.72"/>
<ellipse cx="469.5" cy="232.5" rx="2" ry="2.5" fill="#e0615c" opacity="0.72"/>
<ellipse cx="472.5" cy="236.5" rx="2.5" ry="2.2" fill="#e0615c" opacity="0.72"/>
<ellipse cx="494.5" cy="223.7" rx="2.5" ry="2" fill="#d01822" opacity="0.95"/>
<ellipse cx="461.5" cy="241.5" rx="2" ry="2.5" fill="#e0615c" opacity="0.72"/>
<ellipse cx="468" cy="249.5" rx="2.8" ry="2.4" fill="#e0615c" opacity="0.72"/>
<ellipse cx="470" cy="251.5" rx="1.6" ry="1.6" fill="#e0615c" opacity="0.72"/>
</g>
<line x1="462.3" y1="201.4" x2="464.5" y2="195" stroke="#f0dc20" stroke-width="1.3"/><circle cx="462.3" cy="201.4" r="2.0" fill="#f5e21c"/>
<g filter="url(#blur06)">
<ellipse cx="586" cy="149" rx="5.2" ry="2.4" fill="#5a5cc8" opacity="0.72"/>
<ellipse cx="586.8" cy="162.3" rx="6" ry="3.2" fill="#5a5cc8" opacity="0.72"/>
<ellipse cx="583" cy="166.5" rx="2.5" ry="2" fill="#5a5cc8" opacity="0.72"/>
<ellipse cx="586" cy="171" rx="3" ry="2" fill="#e0615c" opacity="0.72"/>
<ellipse cx="586" cy="180" rx="10" ry="6" fill="#e0615c" opacity="0.72"/>
<ellipse cx="571.8" cy="178.8" rx="6.5" ry="5.2" fill="#5a5cc8" opacity="0.72"/>
<ellipse cx="604.3" cy="179.8" rx="5.4" ry="4" fill="#5a5cc8" opacity="0.72"/>
<ellipse cx="586" cy="178.5" rx="4" ry="3" fill="#5a5cc8" opacity="0.72"/>
<ellipse cx="586" cy="188" rx="17" ry="7.5" fill="#8a2a6c" opacity="0.8"/>
<ellipse cx="574" cy="186.5" rx="6" ry="6" fill="#2d3bb8" opacity="0.85"/>
<ellipse cx="597" cy="186" rx="6" ry="5.5" fill="#2d3bb8" opacity="0.85"/>
<ellipse cx="586" cy="193.5" rx="13" ry="4.5" fill="#e0615c" opacity="0.72"/>
<ellipse cx="561" cy="189.4" rx="3.4" ry="3" fill="#5a5cc8" opacity="0.72"/>
<ellipse cx="612.5" cy="188" rx="3.6" ry="3" fill="#5a5cc8" opacity="0.72"/>
<ellipse cx="567" cy="184" rx="3" ry="3" fill="#5a5cc8" opacity="0.72"/>
<ellipse cx="606" cy="186.5" rx="4" ry="3.5" fill="#5a5cc8" opacity="0.72"/>
<ellipse cx="580.2" cy="199.2" rx="4" ry="4" fill="#e0615c" opacity="0.72"/>
<ellipse cx="590.8" cy="199.2" rx="4" ry="4" fill="#e0615c" opacity="0.72"/>
<ellipse cx="585.3" cy="197.8" rx="3.2" ry="4.2" fill="#5a5cc8" opacity="0.72"/>
<ellipse cx="577.5" cy="197" rx="2.6" ry="2.6" fill="#5a5cc8" opacity="0.72"/>
<ellipse cx="593.5" cy="197" rx="2.6" ry="2.6" fill="#5a5cc8" opacity="0.72"/>
<ellipse cx="585" cy="203.8" rx="7.2" ry="2.8" fill="#e0615c" opacity="0.72"/>
<ellipse cx="580" cy="201.5" rx="2" ry="2" fill="#d01822" opacity="0.95"/>
<ellipse cx="590.5" cy="201.5" rx="2" ry="2" fill="#d01822" opacity="0.95"/>
<ellipse cx="584" cy="209.8" rx="8.2" ry="3" fill="#5a5cc8" opacity="0.72"/>
<ellipse cx="583.8" cy="214.8" rx="6.4" ry="2.6" fill="#e0615c" opacity="0.72"/>
<ellipse cx="578.5" cy="213.5" rx="2.2" ry="2.6" fill="#5a5cc8" opacity="0.72"/>
<ellipse cx="589.5" cy="213.5" rx="2.2" ry="2.6" fill="#5a5cc8" opacity="0.72"/>
<ellipse cx="583.2" cy="225.5" rx="3.8" ry="3.6" fill="#2d3bb8" opacity="0.85"/>
<ellipse cx="577.8" cy="221.8" rx="2.2" ry="2.2" fill="#5a5cc8" opacity="0.72"/>
<ellipse cx="589.2" cy="221.8" rx="2.2" ry="2.2" fill="#5a5cc8" opacity="0.72"/>
<ellipse cx="574.3" cy="224.7" rx="1.8" ry="1.6" fill="#e0615c" opacity="0.72"/>
<ellipse cx="582.6" cy="233.9" rx="6.4" ry="4.2" fill="#5a5cc8" opacity="0.72"/>
<ellipse cx="582.6" cy="238.9" rx="4.2" ry="2" fill="#e0615c" opacity="0.72"/>
<ellipse cx="574.5" cy="235.5" rx="3.4" ry="3" fill="#2d3bb8" opacity="0.85"/>
<ellipse cx="591" cy="233.5" rx="3.4" ry="3.2" fill="#2d3bb8" opacity="0.85"/>
<ellipse cx="583" cy="230.5" rx="2" ry="2" fill="#e0615c" opacity="0.72"/>
<ellipse cx="596" cy="232" rx="2.4" ry="2.2" fill="#5a5cc8" opacity="0.72"/>
<ellipse cx="593.5" cy="225.5" rx="2.4" ry="2.2" fill="#5a5cc8" opacity="0.72"/>
<ellipse cx="583.8" cy="245.5" rx="2" ry="2" fill="#2d3bb8" opacity="0.85"/>
</g>
<g filter="url(#blur04)">
<circle cx="465.6" cy="186.9" r="3.75" fill="#3a3a41"/><circle cx="465.6" cy="186.9" r="1.55" fill="#b9b9bf"/>
<circle cx="586.0" cy="186.9" r="3.75" fill="#3a3a41"/><circle cx="586.0" cy="186.9" r="1.55" fill="#b9b9bf"/>
<circle cx="455.5" cy="185.2" r="2.7" fill="#7a187c"/><circle cx="455.5" cy="185.2" r="0.85" fill="#c98fca"/>
<circle cx="451.5" cy="188.2" r="2.7" fill="#7a187c"/><circle cx="451.5" cy="188.2" r="0.85" fill="#c98fca"/>
<circle cx="475.5" cy="187.8" r="2.7" fill="#7a187c"/><circle cx="475.5" cy="187.8" r="0.85" fill="#c98fca"/>
<circle cx="480.5" cy="185.8" r="2.7" fill="#7a187c"/><circle cx="480.5" cy="185.8" r="0.85" fill="#c98fca"/>
<circle cx="573.5" cy="183.5" r="2.7" fill="#7a187c"/><circle cx="573.5" cy="183.5" r="0.85" fill="#c98fca"/>
<circle cx="577.2" cy="186.5" r="2.7" fill="#7a187c"/><circle cx="577.2" cy="186.5" r="0.85" fill="#c98fca"/>
<circle cx="573.2" cy="188.8" r="2.7" fill="#7a187c"/><circle cx="573.2" cy="188.8" r="0.85" fill="#c98fca"/>
<circle cx="596.5" cy="188.8" r="2.7" fill="#7a187c"/><circle cx="596.5" cy="188.8" r="0.85" fill="#c98fca"/>
<circle cx="600.5" cy="185.2" r="2.7" fill="#7a187c"/><circle cx="600.5" cy="185.2" r="0.85" fill="#c98fca"/>
<circle cx="465.8" cy="169.9" r="2.7" fill="#7a187c"/><circle cx="465.8" cy="169.9" r="0.85" fill="#c98fca"/>
<circle cx="586.6" cy="169.9" r="2.7" fill="#7a187c"/><circle cx="586.6" cy="169.9" r="0.85" fill="#c98fca"/>
</g>
<text x="466.2" y="295.6" font-size="14.3" text-anchor="middle" fill="#222" stroke="#222" stroke-width="0.35">-0.48 eV</text>
<text x="586" y="295.6" font-size="14.3" text-anchor="middle" fill="#222" stroke="#222" stroke-width="0.35">-1.70 eV</text>
<text transform="translate(474.4,269.9) scale(0.97,1)" font-size="12.8" text-anchor="start" fill="#222" stroke="#222" stroke-width="0.35">–SCN</text>
<text transform="translate(592.2,270) scale(0.98,1)" font-size="12.8" text-anchor="start" fill="#222" stroke="#222" stroke-width="0.35">–COO</text>
<circle cx="163" cy="329.4" r="7.2" fill="url(#gNi)"/>
<text transform="translate(163.6,358) scale(0.92,1)" font-size="14.3" text-anchor="middle" fill="#222" stroke="#222" stroke-width="0.35">Ni</text>
<circle cx="203.5" cy="329.4" r="4.2" fill="url(#gO)"/>
<text transform="translate(203.5,358) scale(0.92,1)" font-size="14.3" text-anchor="middle" fill="#222" stroke="#222" stroke-width="0.35">O</text>
<circle cx="243" cy="329.4" r="10.2" fill="url(#gPb)"/>
<text transform="translate(241.4,358) scale(0.92,1)" font-size="14.3" text-anchor="middle" fill="#222" stroke="#222" stroke-width="0.35">Pb</text>
<circle cx="287.6" cy="329.4" r="8.2" fill="url(#gRu)"/>
<text transform="translate(285.8,358) scale(0.92,1)" font-size="14.3" text-anchor="middle" fill="#222" stroke="#222" stroke-width="0.35">Ru</text>
<circle cx="332" cy="329.4" r="7.6" fill="url(#gI)"/>
<text transform="translate(330.6,358) scale(0.92,1)" font-size="14.3" text-anchor="middle" fill="#222" stroke="#222" stroke-width="0.35">I</text>
<circle cx="378.3" cy="329.4" r="6.2" fill="url(#gS)"/>
<text transform="translate(379.5,358) scale(0.92,1)" font-size="14.3" text-anchor="middle" fill="#222" stroke="#222" stroke-width="0.35">S</text>
<circle cx="420" cy="329.4" r="4.7" fill="url(#gN)"/>
<text transform="translate(420.2,358) scale(0.92,1)" font-size="14.3" text-anchor="middle" fill="#222" stroke="#222" stroke-width="0.35">N</text>
<circle cx="461.7" cy="329.4" r="4.6" fill="url(#gC)"/>
<text transform="translate(461.9,358) scale(0.92,1)" font-size="14.3" text-anchor="middle" fill="#222" stroke="#222" stroke-width="0.35">C</text>
<circle cx="501.3" cy="329.4" r="2.7" fill="url(#gH)"/>
<text transform="translate(502.7,358) scale(0.92,1)" font-size="14.3" text-anchor="middle" fill="#222" stroke="#222" stroke-width="0.35">H</text>
</g>
<g id="panel_b">
<text x="711" y="25" font-size="31" text-anchor="start" fill="#111" stroke="#111" stroke-width="0.2">(b)</text>
<g filter="url(#bsh)">
<rect x="718.3" y="174.2" width="50.3" height="136" fill="#b5b1d9"/>
<rect x="776.7" y="213.6" width="50" height="96.6" fill="#f1d0e7"/>
<rect x="836.5" y="206.2" width="50.3" height="104" fill="#d7288a"/>
<rect x="905.1" y="244.2" width="50.7" height="66" fill="#e06a22"/>
<rect x="965.7" y="254.7" width="50.6" height="56.5" fill="#e06a22"/>
<rect x="905.1" y="29.9" width="50.7" height="96.1" fill="#e06a22"/>
<rect x="965.7" y="29.9" width="50.6" height="92.2" fill="#e06a22"/>
<rect x="1026.2" y="29.9" width="50.3" height="106.6" fill="#a3a3a3"/>
</g>
<text transform="translate(930.5,121.52) scale(0.84,1)" font-size="17" text-anchor="middle" fill="#fff" stroke="#fff" stroke-width="0.35">-3.90</text>
<text transform="translate(991,118.02) scale(0.84,1)" font-size="17" text-anchor="middle" fill="#fff" stroke="#fff" stroke-width="0.35">-3.88</text>
<text transform="translate(1051.2,131.72) scale(0.84,1)" font-size="17" text-anchor="middle" fill="#fff" stroke="#fff" stroke-width="0.35">-4.10</text>
<text transform="translate(1051,52.5) scale(0.86,1)" font-size="16.5" text-anchor="middle" fill="#333" stroke="#333" stroke-width="0.35">C<tspan font-size="66%" dy="0.333em">60</tspan><tspan dy="-0.220em">&#8203;</tspan></text>
<text transform="translate(743.3,191.52) scale(0.84,1)" font-size="17" text-anchor="middle" fill="#2a2a3a" stroke="#2a2a3a" stroke-width="0.35">-4.72</text>
<text transform="translate(800.3,179.22) scale(0.84,1)" font-size="17" text-anchor="middle" fill="#222" stroke="#222" stroke-width="0.35">-4.46</text>
<text transform="translate(861.2,179.62) scale(0.84,1)" font-size="17" text-anchor="middle" fill="#222" stroke="#222" stroke-width="0.35">-4.50</text>
<text transform="translate(801.2,231.32) scale(0.84,1)" font-size="17" text-anchor="middle" fill="#333" stroke="#333" stroke-width="0.35">-5.25</text>
<text transform="translate(861.5,224.32) scale(0.84,1)" font-size="17" text-anchor="middle" fill="#fff" stroke="#fff" stroke-width="0.35">-5.20</text>
<text transform="translate(929.4,210.22) scale(0.84,1)" font-size="17" text-anchor="middle" fill="#222" stroke="#222" stroke-width="0.35">-4.90</text>
<text transform="translate(990.3,177.52) scale(0.84,1)" font-size="17" text-anchor="middle" fill="#222" stroke="#222" stroke-width="0.35">-4.87</text>
<text transform="translate(990.3,217.92) scale(0.84,1)" font-size="17" text-anchor="middle" fill="#222" stroke="#222" stroke-width="0.35">-4.97</text>
<text transform="translate(930.5,263.02) scale(0.84,1)" font-size="17" text-anchor="middle" fill="#fff" stroke="#fff" stroke-width="0.35">-5.50</text>
<text transform="translate(991,271.82) scale(0.84,1)" font-size="17" text-anchor="middle" fill="#fff" stroke="#fff" stroke-width="0.35">-5.56</text>
<line x1="776.4" y1="155.9" x2="825.5" y2="155.9" stroke="#111" stroke-width="2.2" stroke-dasharray="4.7 1.5"/>
<line x1="837.9" y1="158.9" x2="888.5" y2="158.9" stroke="#111" stroke-width="2.2" stroke-dasharray="4.7 1.5"/>
<line x1="906.5" y1="187.6" x2="954.5" y2="187.6" stroke="#111" stroke-width="2.2" stroke-dasharray="4.7 1.5"/>
<line x1="967.5" y1="184.4" x2="1017" y2="184.4" stroke="#111" stroke-width="2.2" stroke-dasharray="4.7 1.5"/>
<line x1="967.5" y1="194.6" x2="1017" y2="194.6" stroke="#111" stroke-width="2.2" stroke-dasharray="4.7 1.5"/>
<text transform="translate(741.5,343.54) scale(0.84,1)" font-size="16.5" text-anchor="middle" fill="#222" stroke="#222" stroke-width="0.35">ITO</text>
<text transform="translate(799.6,343.54) scale(0.84,1)" font-size="16.5" text-anchor="middle" fill="#222" stroke="#222" stroke-width="0.35">NiO<tspan font-size="65%" dy="0.308em">x</tspan><tspan dy="-0.200em">&#8203;</tspan></text>
<text transform="translate(859.4,343.54) scale(0.84,1)" font-size="16.5" text-anchor="middle" fill="#222" stroke="#222" stroke-width="0.35">NiO<tspan font-size="65%" dy="0.308em">x</tspan><tspan dy="-0.200em">&#8203;</tspan>/N719</text>
<text transform="translate(929.4,330.54) scale(0.84,1)" font-size="16.5" text-anchor="middle" fill="#222" stroke="#222" stroke-width="0.35">PVK</text>
<text transform="translate(929.8,353.04) scale(0.84,1)" font-size="16.5" text-anchor="middle" fill="#222" stroke="#222" stroke-width="0.35">(1.60 eV)</text>
<text transform="translate(992,330.54) scale(0.84,1)" font-size="16.5" text-anchor="middle" fill="#222" stroke="#222" stroke-width="0.35">PVK</text>
<text transform="translate(992.4,353.04) scale(0.84,1)" font-size="16.5" text-anchor="middle" fill="#222" stroke="#222" stroke-width="0.35">(1.68 eV)</text>
</g>
<g id="panel_c">
<text x="5.5" y="405" font-size="31" text-anchor="start" fill="#111" stroke="#111" stroke-width="0.2">(c)</text>
<polygon points="130.4,433 455,454.2 455,752 307.5,751 130.4,642.4" fill="url(#zpan)"/>
<g>
<rect x="5.6" y="428.3" width="7" height="21" fill="#cdcdcd"/>
<rect x="162.7" y="430.2" width="7.1" height="21" fill="#cbccd2"/>
<polygon points="5.2,448.21 7.94,448.14 10.69,448.04 13.43,447.93 16.17,447.83 18.92,447.75 21.66,447.7 24.4,447.7 27.15,447.74 29.89,447.79 32.63,447.87 35.38,447.95 38.12,448.05 40.86,448.16 43.61,448.27 46.35,448.37 49.09,448.47 51.84,448.58 54.58,448.71 57.32,448.85 60.07,448.98 62.81,449.12 65.55,449.24 68.3,449.34 71.04,449.45 73.78,449.57 76.53,449.66 79.27,449.7 82.01,449.7 84.76,449.61 87.5,449.44 90.24,449.23 92.99,449.03 95.73,448.79 98.47,448.53 101.22,448.31 103.96,448.2 106.7,448.2 109.45,448.25 112.19,448.33 114.93,448.42 117.68,448.53 120.42,448.64 123.16,448.74 125.91,448.82 128.65,448.89 131.39,448.96 134.14,449.03 136.88,449.1 139.62,449.17 142.37,449.24 145.11,449.3 147.85,449.36 150.6,449.41 153.34,449.47 156.08,449.52 158.83,449.56 161.57,449.6 164.31,449.64 167.06,449.67 169.8,449.7 169.8,465 167.06,464.94 164.31,464.89 161.57,464.83 158.83,464.76 156.08,464.68 153.34,464.59 150.6,464.48 147.85,464.39 145.11,464.28 142.37,464.17 139.62,464.05 136.88,463.93 134.14,463.8 131.39,463.67 128.65,463.54 125.91,463.42 123.16,463.28 120.42,463.09 117.68,462.9 114.93,462.7 112.19,462.53 109.45,462.39 106.7,462.31 103.96,462.3 101.22,462.5 98.47,462.9 95.73,463.37 92.99,463.8 90.24,464.16 87.5,464.53 84.76,464.83 82.01,465 79.27,465.01 76.53,464.92 73.78,464.77 71.04,464.55 68.3,464.36 65.55,464.17 62.81,463.95 60.07,463.71 57.32,463.47 54.58,463.22 51.84,462.99 49.09,462.79 46.35,462.61 43.61,462.42 40.86,462.23 38.12,462.04 35.38,461.86 32.63,461.7 29.89,461.56 27.15,461.46 24.4,461.4 21.66,461.4 18.92,461.49 16.17,461.64 13.43,461.82 10.69,462.01 7.94,462.19 5.2,462.32" fill="#dde8f6"/>
<polygon points="5.2,462.32 7.94,462.19 10.69,462.01 13.43,461.82 16.17,461.64 18.92,461.49 21.66,461.4 24.4,461.4 27.15,461.46 29.89,461.56 32.63,461.7 35.38,461.86 38.12,462.04 40.86,462.23 43.61,462.42 46.35,462.61 49.09,462.79 51.84,462.99 54.58,463.22 57.32,463.47 60.07,463.71 62.81,463.95 65.55,464.17 68.3,464.36 71.04,464.55 73.78,464.77 76.53,464.92 79.27,465.01 82.01,465 84.76,464.83 87.5,464.53 90.24,464.16 92.99,463.8 95.73,463.37 98.47,462.9 101.22,462.5 103.96,462.3 106.7,462.31 109.45,462.39 112.19,462.53 114.93,462.7 117.68,462.9 120.42,463.09 123.16,463.28 125.91,463.42 128.65,463.54 131.39,463.67 134.14,463.8 136.88,463.93 139.62,464.05 142.37,464.17 145.11,464.28 147.85,464.39 150.6,464.48 153.34,464.59 156.08,464.68 158.83,464.76 161.57,464.83 164.31,464.89 167.06,464.94 169.8,465 169.8,477.7 167.06,477.64 164.31,477.58 161.57,477.51 158.83,477.43 156.08,477.34 153.34,477.24 150.6,477.13 147.85,477.02 145.11,476.9 142.37,476.78 139.62,476.64 136.88,476.51 134.14,476.36 131.39,476.22 128.65,476.08 125.91,475.94 123.16,475.78 120.42,475.58 117.68,475.36 114.93,475.15 112.19,474.95 109.45,474.8 106.7,474.71 103.96,474.7 101.22,474.92 98.47,475.36 95.73,475.88 92.99,476.36 90.24,476.77 87.5,477.18 84.76,477.52 82.01,477.7 79.27,477.71 76.53,477.62 73.78,477.44 71.04,477.2 68.3,476.99 65.55,476.78 62.81,476.53 60.07,476.27 57.32,476 54.58,475.72 51.84,475.46 49.09,475.24 46.35,475.04 43.61,474.83 40.86,474.62 38.12,474.41 35.38,474.21 32.63,474.03 29.89,473.88 27.15,473.77 24.4,473.71 21.66,473.7 18.92,473.8 16.17,473.96 13.43,474.17 10.69,474.38 7.94,474.57 5.2,474.72" fill="#f8b786"/>
<polygon points="5.2,474.72 7.94,474.57 10.69,474.38 13.43,474.17 16.17,473.96 18.92,473.8 21.66,473.7 24.4,473.71 27.15,473.77 29.89,473.88 32.63,474.03 35.38,474.21 38.12,474.41 40.86,474.62 43.61,474.83 46.35,475.04 49.09,475.24 51.84,475.46 54.58,475.72 57.32,476 60.07,476.27 62.81,476.53 65.55,476.78 68.3,476.99 71.04,477.2 73.78,477.44 76.53,477.62 79.27,477.71 82.01,477.7 84.76,477.52 87.5,477.18 90.24,476.77 92.99,476.36 95.73,475.88 98.47,475.36 101.22,474.92 103.96,474.7 106.7,474.71 109.45,474.8 112.19,474.95 114.93,475.15 117.68,475.36 120.42,475.58 123.16,475.78 125.91,475.94 128.65,476.08 131.39,476.22 134.14,476.36 136.88,476.51 139.62,476.64 142.37,476.78 145.11,476.9 147.85,477.02 150.6,477.13 153.34,477.24 156.08,477.34 158.83,477.43 161.57,477.51 164.31,477.58 167.06,477.64 169.8,477.7 169.8,491.5 167.06,491.44 164.31,491.38 161.57,491.31 158.83,491.23 156.08,491.14 153.34,491.04 150.6,490.93 147.85,490.82 145.11,490.7 142.37,490.58 139.62,490.44 136.88,490.31 134.14,490.16 131.39,490.02 128.65,489.88 125.91,489.74 123.16,489.58 120.42,489.38 117.68,489.16 114.93,488.95 112.19,488.75 109.45,488.6 106.7,488.51 103.96,488.5 101.22,488.72 98.47,489.16 95.73,489.68 92.99,490.16 90.24,490.57 87.5,490.98 84.76,491.32 82.01,491.5 79.27,491.51 76.53,491.42 73.78,491.24 71.04,491 68.3,490.79 65.55,490.58 62.81,490.33 60.07,490.07 57.32,489.8 54.58,489.52 51.84,489.26 49.09,489.04 46.35,488.84 43.61,488.63 40.86,488.42 38.12,488.21 35.38,488.01 32.63,487.83 29.89,487.68 27.15,487.57 24.4,487.51 21.66,487.5 18.92,487.6 16.17,487.76 13.43,487.97 10.69,488.18 7.94,488.37 5.2,488.52" fill="#767881"/>
<polygon points="5.2,488.52 7.94,488.37 10.69,488.18 13.43,487.97 16.17,487.76 18.92,487.6 21.66,487.5 24.4,487.51 27.15,487.57 29.89,487.68 32.63,487.83 35.38,488.01 38.12,488.21 40.86,488.42 43.61,488.63 46.35,488.84 49.09,489.04 51.84,489.26 54.58,489.52 57.32,489.8 60.07,490.07 62.81,490.33 65.55,490.58 68.3,490.79 71.04,491 73.78,491.24 76.53,491.42 79.27,491.51 82.01,491.5 84.76,491.32 87.5,490.98 90.24,490.57 92.99,490.16 95.73,489.68 98.47,489.16 101.22,488.72 103.96,488.5 106.7,488.51 109.45,488.6 112.19,488.75 114.93,488.95 117.68,489.16 120.42,489.38 123.16,489.58 125.91,489.74 128.65,489.88 131.39,490.02 134.14,490.16 136.88,490.31 139.62,490.44 142.37,490.58 145.11,490.7 147.85,490.82 150.6,490.93 153.34,491.04 156.08,491.14 158.83,491.23 161.57,491.31 164.31,491.38 167.06,491.44 169.8,491.5 169.8,556.15 153.2,531.4 136.7,556.3 120.2,531.4 103.6,556.3 87.2,531.4 70.7,556.3 54.6,531.4 38.2,556.3 22.3,531.4 5.6,556.3" fill="#b85b1f"/>
<polygon points="5.6,556.3 22.3,531.4 38.2,556.3 54.6,531.4 70.7,556.3 87.2,531.4 103.6,556.3 120.2,531.4 136.7,556.3 153.2,531.4 169.8,556.15 169.8,580.95 153.2,556.2 136.7,581.1 120.2,556.2 103.6,581.1 87.2,556.2 70.7,581.1 54.6,556.2 38.2,581.1 22.3,556.2 5.6,581.1" fill="#a9a3c6"/>
<polygon points="5.6,581.1 22.3,556.2 38.2,581.1 54.6,556.2 70.7,581.1 87.2,556.2 103.6,581.1 120.2,556.2 136.7,581.1 153.2,556.2 169.8,580.95 169.8,596.75 153.2,572 136.7,596.9 120.2,572 103.6,596.9 87.2,572 70.7,596.9 54.6,572 38.2,596.9 22.3,572 5.6,596.9" fill="#f9b98a"/>
<polygon points="5.6,596.9 22.3,572 38.2,596.9 54.6,572 70.7,596.9 87.2,572 103.6,596.9 120.2,572 136.7,596.9 153.2,572 169.8,596.75 169.8,612.85 153.2,588.6 136.7,613 120.2,588.6 103.6,613 87.2,588.6 70.7,613 54.6,588.6 38.2,613 22.3,588.6 5.6,613" fill="#4badcf"/>
<polygon points="5.6,613 22.3,588.6 38.2,613 54.6,588.6 70.7,613 87.2,588.6 103.6,613 120.2,588.6 136.7,613 153.2,588.6 169.8,612.85 169.8,627.66 153.2,604.4 136.7,627.8 120.2,604.4 103.6,627.8 87.2,604.4 70.7,627.8 54.6,604.4 38.2,627.8 22.3,604.4 5.6,627.8" fill="#b6d9c9"/>
<polygon points="5.6,627.8 22.3,604.4 38.2,627.8 54.6,604.4 70.7,627.8 87.2,604.4 103.6,627.8 120.2,604.4 136.7,627.8 153.2,604.4 169.8,627.66 169.8,699.74 153.2,723.2 136.7,699.6 120.2,723.2 103.6,699.6 87.2,723.2 70.7,699.6 54.6,723.2 38.2,699.6 22.3,723.2 5.6,699.6" fill="#07529f"/>
<polygon points="5.6,699.6 22.3,723.2 38.2,699.6 54.6,723.2 70.7,699.6 87.2,723.2 103.6,699.6 120.2,723.2 136.7,699.6 153.2,723.2 169.8,699.74 169.8,715.64 153.2,739.1 136.7,715.5 120.2,739.1 103.6,715.5 87.2,739.1 70.7,715.5 54.6,739.1 38.2,715.5 22.3,739.1 5.6,715.5" fill="#b6d9c9"/>
<polygon points="5.6,715.5 22.3,739.1 38.2,715.5 54.6,739.1 70.7,715.5 87.2,739.1 103.6,715.5 120.2,739.1 136.7,715.5 153.2,739.1 169.8,715.64 169.8,731.44 153.2,754.9 136.7,731.3 120.2,754.9 103.6,731.3 87.2,754.9 70.7,731.3 54.6,754.9 38.2,731.3 22.3,754.9 5.6,731.3" fill="#5f8c46"/>
<polygon points="5.6,731.3 22.3,754.9 38.2,731.3 54.6,754.9 70.7,731.3 87.2,754.9 103.6,731.3 120.2,754.9 136.7,731.3 153.2,754.9 169.8,731.44 169.8,748.14 153.2,771.6 136.7,748 120.2,771.6 103.6,748 87.2,771.6 70.7,748 54.6,771.6 38.2,748 22.3,771.6 5.6,748" fill="#e2e1e5"/>
<polygon points="5.6,748 22.3,771.6 38.2,748 54.6,771.6 70.7,748 87.2,771.6 103.6,748 120.2,771.6 136.7,748 153.2,771.6 169.8,748.14 169.8,764.04 153.2,787.5 136.7,763.9 120.2,787.5 103.6,763.9 87.2,787.5 70.7,763.9 54.6,787.5 38.2,763.9 22.3,787.5 5.6,763.9" fill="#cbcbcb"/>
<polyline points="5.6,556.3 22.3,531.4 38.2,556.3 54.6,531.4 70.7,556.3 87.2,531.4 103.6,556.3 120.2,531.4 136.7,556.3 153.2,531.4 169.8,556.15" fill="none" stroke="#ffd24e" stroke-width="1.4"/>
</g>
<text transform="translate(87.6,664.2) scale(1.08,1)" font-size="15" text-anchor="middle" fill="#cfe2f6" stroke="#cfe2f6" stroke-width="0.35">c-Si</text>
<path d="M92.9,642.4 L92.9,434 Q92.9,432.4 96.5,432.6" fill="none" stroke="#f1f3f8" stroke-width="5.2" stroke-dasharray="5 4.7" opacity="0.93"/>
<path d="M130.4,642.4 L130.4,436" fill="none" stroke="#eef0f7" stroke-width="5.2" stroke-dasharray="5 4.7" opacity="0.93"/>
<path d="M92.9,642.4 L130.4,642.4" fill="none" stroke="#eef0f7" stroke-width="5.2" stroke-dasharray="5 4.7"/>
<path d="M130.4,642.4 L170,666.6" fill="none" stroke="#d5dbe8" stroke-width="5.2" stroke-dasharray="5 4.7"/>
<path d="M170,666.6 L307.5,751" fill="none" stroke="#bcbcbc" stroke-width="5" stroke-dasharray="5 4.7"/>
<path d="M92.9,447 L92.9,436" fill="none" stroke="#d8d8dc" stroke-width="5.2" stroke-dasharray="5 4.7"/>
<line x1="165.5" y1="437.0" x2="187.8" y2="437.0" stroke="#111" stroke-width="1.3"/>
<circle cx="165.5" cy="437.0" r="2.7" fill="#111"/><circle cx="187.8" cy="437.0" r="2.8" fill="#111"/>
<text x="193.6" y="442.3" font-size="14.9" text-anchor="start" fill="#1c1c1c" stroke="#1c1c1c" stroke-width="0.45">Ag</text>
<line x1="165.5" y1="455.0" x2="187.8" y2="455.0" stroke="#111" stroke-width="1.3"/>
<circle cx="165.5" cy="455.0" r="2.7" fill="#111"/><circle cx="187.8" cy="455.0" r="2.8" fill="#111"/>
<text x="193.6" y="460.3" font-size="14.9" text-anchor="start" fill="#1c1c1c" stroke="#1c1c1c" stroke-width="0.45">MgF<tspan font-size="70%" dy="0.343em">2</tspan><tspan dy="-0.240em">&#8203;</tspan></text>
<line x1="165.5" y1="471.7" x2="187.8" y2="471.7" stroke="#111" stroke-width="1.3"/>
<circle cx="165.5" cy="471.7" r="2.7" fill="#111"/><circle cx="187.8" cy="471.7" r="2.8" fill="#111"/>
<text x="193.6" y="477" font-size="14.9" text-anchor="start" fill="#1c1c1c" stroke="#1c1c1c" stroke-width="0.45">IZO</text>
<line x1="165.5" y1="486.4" x2="187.8" y2="486.4" stroke="#111" stroke-width="1.3"/>
<circle cx="165.5" cy="486.4" r="2.7" fill="#111"/><circle cx="187.8" cy="486.4" r="2.8" fill="#111"/>
<text x="193.6" y="491.7" font-size="14.9" text-anchor="start" fill="#1c1c1c" stroke="#1c1c1c" stroke-width="0.45">LiF/C<tspan font-size="70%" dy="0.343em">60</tspan><tspan dy="-0.240em">&#8203;</tspan>/SnO<tspan font-size="70%" dy="0.343em">x</tspan><tspan dy="-0.240em">&#8203;</tspan></text>
<line x1="165.5" y1="516.0" x2="187.8" y2="516.0" stroke="#111" stroke-width="1.3"/>
<circle cx="165.5" cy="516.0" r="2.7" fill="#111"/><circle cx="187.8" cy="516.0" r="2.8" fill="#111"/>
<text x="193.6" y="521.3" font-size="14.9" text-anchor="start" fill="#1c1c1c" stroke="#1c1c1c" stroke-width="0.45">Perovskite</text>
<line x1="165.5" y1="550.0" x2="187.8" y2="550.0" stroke="#111" stroke-width="1.3"/>
<circle cx="165.5" cy="550.0" r="2.7" fill="#111"/><circle cx="187.8" cy="550.0" r="2.8" fill="#111"/>
<text x="193" y="555.3" font-size="14.9" text-anchor="start" fill="#1c1c1c" stroke="#1c1c1c" stroke-width="0.45">N719</text>
<line x1="165.5" y1="566.4" x2="187.8" y2="566.4" stroke="#111" stroke-width="1.3"/>
<circle cx="165.5" cy="566.4" r="2.7" fill="#111"/><circle cx="187.8" cy="566.4" r="2.8" fill="#111"/>
<text x="193.6" y="571.7" font-size="14.9" text-anchor="start" fill="#1c1c1c" stroke="#1c1c1c" stroke-width="0.45">NiO<tspan font-size="70%" dy="0.343em">x</tspan><tspan dy="-0.240em">&#8203;</tspan></text>
<line x1="165.5" y1="582.2" x2="187.8" y2="582.2" stroke="#111" stroke-width="1.3"/>
<circle cx="165.5" cy="582.2" r="2.7" fill="#111"/><circle cx="187.8" cy="582.2" r="2.8" fill="#111"/>
<text x="193.6" y="587.5" font-size="14.9" text-anchor="start" fill="#1c1c1c" stroke="#1c1c1c" stroke-width="0.45">ITO</text>
<line x1="165.5" y1="599.0" x2="187.8" y2="599.0" stroke="#111" stroke-width="1.3"/>
<circle cx="165.5" cy="599.0" r="2.7" fill="#111"/><circle cx="187.8" cy="599.0" r="2.8" fill="#111"/>
<text x="193.3" y="604.3" font-size="14.9" text-anchor="start" fill="#1c1c1c" stroke="#1c1c1c" stroke-width="0.45">a-Si:H(n)</text>
<line x1="165.5" y1="615.6" x2="187.8" y2="615.6" stroke="#111" stroke-width="1.3"/>
<circle cx="165.5" cy="615.6" r="2.7" fill="#111"/><circle cx="187.8" cy="615.6" r="2.8" fill="#111"/>
<text x="193.3" y="620.9" font-size="14.9" text-anchor="start" fill="#1c1c1c" stroke="#1c1c1c" stroke-width="0.45">a-Si:H(i)</text>
<line x1="165.5" y1="707.3" x2="187.8" y2="707.3" stroke="#111" stroke-width="1.3"/>
<circle cx="165.5" cy="707.3" r="2.7" fill="#111"/><circle cx="187.8" cy="707.3" r="2.8" fill="#111"/>
<text x="193.3" y="712.6" font-size="14.9" text-anchor="start" fill="#1c1c1c" stroke="#1c1c1c" stroke-width="0.45">a-Si:H(i)</text>
<line x1="165.5" y1="724.2" x2="187.8" y2="724.2" stroke="#111" stroke-width="1.3"/>
<circle cx="165.5" cy="724.2" r="2.7" fill="#111"/><circle cx="187.8" cy="724.2" r="2.8" fill="#111"/>
<text x="193.3" y="729.5" font-size="14.9" text-anchor="start" fill="#1c1c1c" stroke="#1c1c1c" stroke-width="0.45">a-Si:H(p)</text>
<line x1="165.5" y1="742.8" x2="187.8" y2="742.8" stroke="#111" stroke-width="1.3"/>
<circle cx="165.5" cy="742.8" r="2.7" fill="#111"/><circle cx="187.8" cy="742.8" r="2.8" fill="#111"/>
<text x="193.6" y="748.1" font-size="14.9" text-anchor="start" fill="#1c1c1c" stroke="#1c1c1c" stroke-width="0.45">ITO</text>
<line x1="157.7" y1="770.6" x2="179.0" y2="770.6" stroke="#111" stroke-width="1.3"/>
<circle cx="157.7" cy="770.6" r="2.7" fill="#111"/><circle cx="179.0" cy="770.6" r="2.8" fill="#111"/>
<text x="186.4" y="775.9" font-size="14.9" text-anchor="start" fill="#1c1c1c" stroke="#1c1c1c" stroke-width="0.45">Ag</text>
<path d="M96.5,432.6 L452,453.4" fill="none" stroke="#bdbdc0" stroke-width="5" stroke-dasharray="5 4.7"/>
<clipPath id="semclip"><rect x="303.75" y="458.75" width="241.65" height="291.25"/></clipPath>
<g clip-path="url(#semclip)">
<rect x="303.75" y="458.75" width="241.65" height="291.25" fill="url(#semtop)"/>
<rect x="303.75" y="458.75" width="241.65" height="120" fill="url(#semside)"/>
<g fill="none" stroke-linecap="butt">
<polyline points="303.75,550.2 330,550.8 360,551.2 390,551.4 420,551.2 444,548.2 468,545.4 490,542.2 504,540.6 545.5,540.4" stroke="url(#hz)" stroke-width="16" opacity="0.45" filter="url(#blur3)"/>
<polyline points="303.75,555.2 330,555.8 360,556.2 390,556.4 420,556.2 444,553.2 468,550.4 490,547.2 504,545.6 545.5,545.4" stroke="url(#hz)" stroke-width="7" opacity="0.75" filter="url(#blur2)"/>
</g>
<clipPath id="pvkclip"><polygon points="303.75,577 320,579.5 336,581.8 351.8,586.6 367.4,585.4 384.3,584.4 400,587 408.3,588.2 420,585.4 430,583 444,578 468,572.7 487.4,568.5 504.3,569 545.5,569.7 545.5,640 533.75,628.75 516.25,628.75 485,593.75 460,622.5 453.75,620 430.5,643.75 406.25,612.5 365,653.75 357.5,647.5 315,643.75 303.75,641.25"/></clipPath>
<polygon points="303.75,577 320,579.5 336,581.8 351.8,586.6 367.4,585.4 384.3,584.4 400,587 408.3,588.2 420,585.4 430,583 444,578 468,572.7 487.4,568.5 504.3,569 545.5,569.7 545.5,640 533.75,628.75 516.25,628.75 485,593.75 460,622.5 453.75,620 430.5,643.75 406.25,612.5 365,653.75 357.5,647.5 315,643.75 303.75,641.25" fill="#a68e7e"/>
<g clip-path="url(#pvkclip)"><rect x="303.75" y="565" width="241.65" height="92" filter="url(#pvktex)"/>
<g filter="url(#blur2)"><ellipse cx="318" cy="600" rx="10" ry="17" fill="#b8a190" opacity="0.5" transform="rotate(10 318 600)"/><ellipse cx="340" cy="615" rx="14" ry="10" fill="#94806f" opacity="0.5" transform="rotate(-30 340 615)"/><ellipse cx="372" cy="600" rx="12" ry="8" fill="#c4ae9c" opacity="0.5" transform="rotate(0 372 600)"/><ellipse cx="392" cy="598" rx="9" ry="7" fill="#cdb8a4" opacity="0.5" transform="rotate(0 392 598)"/><ellipse cx="350" cy="632" rx="18" ry="9" fill="#b29a88" opacity="0.5" transform="rotate(5 350 632)"/><ellipse cx="385" cy="620" rx="10" ry="12" fill="#9b8574" opacity="0.5" transform="rotate(-35 385 620)"/><ellipse cx="418" cy="602" rx="10" ry="10" fill="#ae9786" opacity="0.5" transform="rotate(0 418 602)"/><ellipse cx="436" cy="618" rx="9" ry="13" fill="#b9a290" opacity="0.5" transform="rotate(30 436 618)"/><ellipse cx="456" cy="598" rx="14" ry="12" fill="#a99280" opacity="0.5" transform="rotate(-10 456 598)"/><ellipse cx="470" cy="606" rx="8" ry="12" fill="#bea894" opacity="0.5" transform="rotate(20 470 606)"/><ellipse cx="505" cy="596" rx="12" ry="14" fill="#b59e8c" opacity="0.5" transform="rotate(0 505 596)"/><ellipse cx="528" cy="606" rx="11" ry="12" fill="#a08a78" opacity="0.5" transform="rotate(0 528 606)"/><ellipse cx="520" cy="582" rx="16" ry="7" fill="#b8a290" opacity="0.5" transform="rotate(0 520 582)"/><ellipse cx="312" cy="626" rx="9" ry="10" fill="#a58f7d" opacity="0.5" transform="rotate(0 312 626)"/><ellipse cx="540" cy="590" rx="8" ry="14" fill="#c0aa98" opacity="0.5" transform="rotate(0 540 590)"/></g>
<g fill="none" stroke="#6b574b" stroke-width="0.9" opacity="0.65" filter="url(#blur05)"><path d="M352,587 L343,596 L336,600 L339,607 L335,622 M336,600 L329,597"/></g>
</g>
<clipPath id="bluclip"><polygon points="303.75,559.2 330,559.8 360,560.2 390,560.4 420,560.2 444,557.2 468,554.4 490,551.2 504,549.6 545.5,549.4 545.5,569.7 504.3,569 487.4,568.5 468,572.7 444,578 430,583 420,585.4 408.3,588.2 400,587 384.3,584.4 367.4,585.4 351.8,586.6 336,581.8 320,579.5 303.75,577"/></clipPath>
<polygon points="303.75,559.2 330,559.8 360,560.2 390,560.4 420,560.2 444,557.2 468,554.4 490,551.2 504,549.6 545.5,549.4 545.5,569.7 504.3,569 487.4,568.5 468,572.7 444,578 430,583 420,585.4 408.3,588.2 400,587 384.3,584.4 367.4,585.4 351.8,586.6 336,581.8 320,579.5 303.75,577" fill="#c9d8ec" filter="url(#blur05)"/>
<g clip-path="url(#bluclip)"><rect x="303.75" y="545" width="241.65" height="46" filter="url(#blutex)" opacity="0.85"/></g>
<g filter="url(#blur08c)" fill="none">
<polyline points="303.75,561 330,561.6 360,562 390,562.2 420,562 444,559 468,556.2 490,553 504,551.4 545.5,551.2" stroke="#9fb2cb" stroke-width="1.6" opacity="0.7" stroke-dasharray="22 9 12 6"/>
<polyline points="303.75,563.8 330,564.4 360,564.8 390,565 420,564.8 444,561.8 468,559 490,555.8 504,554.2 545.5,554" stroke="#e6eef9" stroke-width="2.2" opacity="0.9"/>
<polyline points="303.75,573.8 320,576.3 336,578.6 351.8,583.4 367.4,582.2 384.3,581.2 400,583.8 408.3,585 420,582.2 430,579.8 444,574.8 468,569.5 487.4,565.3 504.3,565.8 545.5,566.5" stroke="#dfe9f6" stroke-width="2.6" opacity="0.8"/>
<polyline points="303.75,576.6 320,579.1 336,581.4 351.8,586.2 367.4,585 384.3,584 400,586.6 408.3,587.8 420,585 430,582.6 444,577.6 468,572.3 487.4,568.1 504.3,568.6 545.5,569.3" stroke="#4f627c" stroke-width="1.7"/>
<polyline points="303.75,558.9 330,559.5 360,559.9 390,560.1 420,559.9 444,556.9 468,554.1 490,550.9 504,549.3 545.5,549.1" stroke="#a9b6c8" stroke-width="1.2" opacity="0.8"/>
</g>
<polygon points="303.75,641.25 315,643.75 357.5,647.5 365,653.75 406.25,612.5 430.5,643.75 453.75,620 460,622.5 485,593.75 516.25,628.75 533.75,628.75 545.5,640 545.4,750.0 303.75,750.0" fill="url(#csi)"/>
<ellipse cx="406.5" cy="626.5" rx="10" ry="4.5" fill="#b98aa0" opacity="0.5" filter="url(#blur2)"/>
<ellipse cx="485.5" cy="607.5" rx="11" ry="4.5" fill="#b98aa0" opacity="0.45" filter="url(#blur2)"/>
<g filter="url(#blur05)">
<polyline points="303.75,641.25 315,643.75 357.5,647.5 365,653.75 406.25,612.5 430.5,643.75 453.75,620 460,622.5 485,593.75 516.25,628.75 533.75,628.75 545.5,640" fill="none" stroke="#f4f2f4" stroke-width="1.8" stroke-linejoin="miter"/>
<polygon points="315,642.5 357.5,646.6 365,653.2 358.5,650.6 315,645.8" fill="#e9e6ea"/>
<polygon points="516.25,627.8 533.75,627.8 536.8,632 517.5,631.8" fill="#e9e6ea"/>
<polygon points="453.75,619.3 460,621.6 458,624.4 452.5,622.4" fill="#e9e6ea"/>
<polygon points="390,628 406.25,611.8 409,615.2 395,629.5" fill="#e9e6ea" opacity="0.85"/>
</g>
<rect x="303.75" y="747.4" width="241.65" height="2.6" fill="#38252f"/>
</g>
<line x1="333.75" y1="538.25" x2="313" y2="567.5" stroke="#fff" stroke-width="1.2"/>
<circle cx="333.75" cy="538.25" r="2" fill="#fff"/><circle cx="313" cy="567.5" r="2" fill="#fff"/>
<line x1="313" y1="644.5" x2="333.75" y2="676.25" stroke="#fff" stroke-width="1.2"/>
<circle cx="313" cy="644.5" r="2" fill="#fff"/><circle cx="333.75" cy="676.25" r="2" fill="#fff"/>
<text x="338.6" y="540" font-size="15.5" text-anchor="start" fill="#f1f1f1">C<tspan font-size="62%" dy="0.323em">60</tspan><tspan dy="-0.200em">&#8203;</tspan>/SnO<tspan font-size="62%" dy="0.323em">2</tspan><tspan dy="-0.200em">&#8203;</tspan>/IZO/Ag/MgF<tspan font-size="62%" dy="0.323em">2</tspan><tspan dy="-0.200em">&#8203;</tspan></text>
<text transform="translate(352.5,617) scale(0.92,1)" font-size="15" text-anchor="start" fill="#f3eadb" stroke="#f3eadb" stroke-width="0.1">PVK</text>
<text x="338.6" y="684.3" font-size="15.5" text-anchor="start" fill="#f1eef1">NiO<tspan font-size="62%" dy="0.323em">x</tspan><tspan dy="-0.200em">&#8203;</tspan>/N719</text>
<text x="358.6" y="720.8" font-size="14.2" text-anchor="start" fill="#ece6ec">c-Si</text>
<text x="498.6" y="727" font-size="12.3" text-anchor="start" fill="#f4f2f4">1 µm</text>
<rect x="482.5" y="733.25" width="60" height="8.5" fill="#fff"/>
</g>
<g id="panel_d">
<text x="604.4" y="410.2" font-size="31" text-anchor="start" fill="#111" stroke="#111" stroke-width="0.2">(d)</text>
<clipPath id="dclip"><rect x="666.8" y="432.4" width="408.60000000000014" height="309.4"/></clipPath>
<g clip-path="url(#dclip)">
<polyline points="666.8,458.5 668.76,458.67 671.28,458.88 674.24,459.13 677.57,459.41 681.17,459.72 684.95,460.05 688.82,460.4 692.68,460.76 696.43,461.13 700,461.5 703.46,461.89 706.97,462.3 710.51,462.73 714.08,463.18 717.66,463.64 721.26,464.11 724.86,464.59 728.45,465.06 732.04,465.54 735.6,466 739.09,466.46 742.48,466.91 745.81,467.36 749.12,467.81 752.46,468.27 755.87,468.73 759.39,469.2 763.05,469.69 766.91,470.18 771,470.7 775.39,471.24 780.07,471.81 784.98,472.4 790.05,473 795.21,473.61 800.4,474.22 805.53,474.82 810.56,475.41 815.4,475.97 820,476.5 824.38,477.01 828.65,477.5 832.8,477.98 836.86,478.45 840.84,478.9 844.75,479.34 848.61,479.77 852.43,480.19 856.22,480.6 860,481 863.79,481.39 867.58,481.77 871.36,482.14 875.09,482.51 878.78,482.86 882.38,483.19 885.88,483.52 889.27,483.83 892.51,484.12 895.6,484.4 898.55,484.66 901.39,484.9 904.12,485.12 906.74,485.33 909.25,485.53 911.64,485.72 913.91,485.9 916.07,486.07 918.1,486.23 920,486.4 921.74,486.55 923.3,486.69 924.71,486.81 925.99,486.92 927.16,487.02 928.26,487.13 929.31,487.25 930.33,487.38 931.35,487.53 932.4,487.7 933.44,487.9 934.43,488.13 935.37,488.37 936.27,488.63 937.14,488.89 938,489.16 938.84,489.42 939.69,489.67 940.54,489.9 941.4,490.1 942.27,490.27 943.14,490.4 944.01,490.51 944.87,490.61 945.72,490.7 946.57,490.8 947.42,490.92 948.25,491.07 949.08,491.26 949.9,491.5 950.71,491.79 951.51,492.11 952.31,492.46 953.1,492.85 953.88,493.25 954.66,493.67 955.43,494.12 956.19,494.57 956.95,495.03 957.7,495.5 958.44,495.98 959.16,496.48 959.87,497 960.57,497.53 961.26,498.07 961.96,498.63 962.67,499.19 963.39,499.76 964.13,500.33 964.9,500.9 965.68,501.45 966.46,501.98 967.25,502.5 968.05,503.02 968.87,503.56 969.7,504.12 970.56,504.72 971.44,505.38 972.35,506.1 973.3,506.9 974.3,507.76 975.36,508.65 976.46,509.59 977.6,510.57 978.75,511.6 979.9,512.69 981.03,513.85 982.14,515.09 983.2,516.4 984.2,517.8 985.13,519.28 986.01,520.83 986.85,522.45 987.66,524.13 988.46,525.89 989.24,527.73 990.04,529.63 990.86,531.61 991.71,533.67 992.6,535.8 993.55,538 994.54,540.27 995.56,542.61 996.61,545.01 997.66,547.5 998.71,550.07 999.74,552.71 1000.74,555.45 1001.7,558.28 1002.6,561.2 1003.44,564.21 1004.22,567.32 1004.95,570.5 1005.66,573.78 1006.34,577.14 1007.03,580.58 1007.72,584.11 1008.44,587.72 1009.19,591.42 1010,595.2 1010.86,599.02 1011.76,602.87 1012.69,606.76 1013.64,610.73 1014.6,614.81 1015.57,619.01 1016.53,623.36 1017.48,627.89 1018.41,632.63 1019.3,637.6 1020.17,642.92 1021.05,648.64 1021.91,654.65 1022.76,660.87 1023.61,667.19 1024.43,673.53 1025.24,679.78 1026.02,685.86 1026.77,691.66 1027.5,697.1 1028.22,702.38 1028.94,707.73 1029.65,713.06 1030.35,718.27 1031.01,723.27 1031.64,727.97 1032.21,732.29 1032.72,736.13 1033.15,739.39 1033.5,742" fill="none" stroke="#9a9aba" stroke-width="1.6"/>
<polyline points="666.8,456.8 668.74,456.9 671.21,457.03 674.11,457.17 677.36,457.34 680.9,457.52 684.64,457.71 688.49,457.92 692.39,458.14 696.26,458.37 700,458.6 703.74,458.84 707.64,459.1 711.64,459.37 715.72,459.65 719.85,459.94 723.99,460.24 728.11,460.55 732.17,460.86 736.15,461.18 740,461.5 743.7,461.83 747.26,462.16 750.73,462.51 754.13,462.86 757.53,463.21 760.94,463.57 764.41,463.93 767.99,464.29 771.7,464.65 775.6,465 779.7,465.35 783.99,465.7 788.41,466.05 792.94,466.4 797.53,466.75 802.13,467.1 806.73,467.45 811.26,467.8 815.7,468.15 820,468.5 824.2,468.85 828.35,469.21 832.46,469.56 836.53,469.92 840.55,470.28 844.53,470.63 848.46,470.98 852.35,471.33 856.2,471.67 860,472 863.79,472.33 867.58,472.66 871.36,472.98 875.09,473.31 878.78,473.62 882.38,473.94 885.88,474.24 889.27,474.54 892.51,474.82 895.6,475.1 898.52,475.36 901.31,475.61 903.96,475.84 906.5,476.07 908.93,476.29 911.27,476.5 913.54,476.72 915.74,476.94 917.89,477.17 920,477.4 922.07,477.64 924.09,477.89 926.05,478.14 927.95,478.39 929.77,478.64 931.51,478.9 933.16,479.15 934.71,479.4 936.16,479.65 937.5,479.9 938.69,480.14 939.72,480.38 940.61,480.61 941.4,480.84 942.11,481.07 942.78,481.3 943.44,481.54 944.1,481.78 944.82,482.04 945.6,482.3 946.43,482.57 947.27,482.83 948.1,483.1 948.95,483.37 949.79,483.65 950.64,483.94 951.5,484.25 952.36,484.58 953.23,484.92 954.1,485.3 954.98,485.69 955.88,486.1 956.78,486.51 957.69,486.95 958.61,487.4 959.52,487.88 960.43,488.38 961.33,488.92 962.22,489.49 963.1,490.1 963.96,490.74 964.82,491.39 965.66,492.07 966.5,492.78 967.33,493.52 968.16,494.3 968.99,495.13 969.82,496 970.66,496.92 971.5,497.9 972.35,498.93 973.19,499.99 974.04,501.09 974.88,502.24 975.73,503.43 976.58,504.68 977.43,505.99 978.29,507.36 979.14,508.79 980,510.3 980.86,511.85 981.73,513.41 982.59,515.01 983.46,516.67 984.33,518.39 985.2,520.21 986.08,522.15 986.95,524.21 987.83,526.42 988.7,528.8 989.58,531.41 990.46,534.27 991.34,537.32 992.22,540.51 993.11,543.79 993.99,547.11 994.87,550.41 995.75,553.65 996.63,556.76 997.5,559.7 998.37,562.43 999.23,565 1000.09,567.45 1000.94,569.83 1001.8,572.19 1002.66,574.58 1003.51,577.06 1004.37,579.67 1005.23,582.47 1006.1,585.5 1006.97,588.75 1007.86,592.16 1008.74,595.71 1009.63,599.39 1010.53,603.17 1011.41,607.04 1012.3,610.97 1013.18,614.95 1014.04,618.97 1014.9,623 1015.74,627.05 1016.58,631.15 1017.4,635.3 1018.22,639.5 1019.04,643.76 1019.85,648.09 1020.66,652.48 1021.47,656.94 1022.28,661.48 1023.1,666.1 1023.94,670.94 1024.81,676.06 1025.7,681.38 1026.6,686.8 1027.48,692.23 1028.34,697.57 1029.17,702.74 1029.95,707.62 1030.66,712.14 1031.3,716.2 1031.87,719.88 1032.39,723.33 1032.86,726.54 1033.28,729.51 1033.66,732.23 1034,734.7 1034.3,736.92 1034.57,738.88 1034.8,740.57 1035,742" fill="none" stroke="#8a8ab0" stroke-width="1.9"/>
<polyline points="667.4,457.8 669.34,457.89 671.81,457.99 674.71,458.11 677.96,458.25 681.5,458.4 685.24,458.57 689.09,458.75 692.99,458.95 696.86,459.17 700.6,459.4 704.37,459.66 708.32,459.97 712.42,460.31 716.59,460.66 720.8,461.02 724.99,461.39 729.12,461.74 733.13,462.06 736.97,462.35 740.6,462.6 743.91,462.8 746.92,462.96 749.71,463.09 752.36,463.2 754.98,463.3 757.64,463.39 760.44,463.47 763.48,463.57 766.84,463.67 770.6,463.8 774.84,463.94 779.48,464.1 784.45,464.25 789.64,464.42 794.98,464.58 800.36,464.75 805.71,464.91 810.92,465.08 815.92,465.24 820.6,465.4 825.02,465.55 829.31,465.71 833.47,465.86 837.53,466.01 841.5,466.16 845.4,466.31 849.24,466.46 853.04,466.61 856.82,466.75 860.6,466.9 864.39,467.05 868.18,467.2 871.96,467.35 875.69,467.51 879.38,467.66 882.98,467.8 886.48,467.94 889.87,468.07 893.11,468.19 896.2,468.3 899.14,468.39 901.98,468.47 904.7,468.54 907.31,468.6 909.81,468.66 912.2,468.71 914.47,468.75 916.63,468.8 918.67,468.85 920.6,468.9 922.38,468.95 924,469 925.47,469.04 926.83,469.09 928.08,469.13 929.26,469.18 930.38,469.22 931.46,469.28 932.53,469.33 933.6,469.4 934.64,469.47 935.58,469.55 936.47,469.64 937.3,469.73 938.1,469.83 938.89,469.92 939.69,470.02 940.51,470.11 941.37,470.21 942.3,470.3 943.29,470.39 944.33,470.47 945.4,470.55 946.5,470.63 947.61,470.71 948.71,470.8 949.81,470.89 950.88,470.98 951.91,471.09 952.9,471.2 953.84,471.32 954.75,471.45 955.63,471.59 956.48,471.73 957.32,471.88 958.16,472.03 958.98,472.19 959.81,472.35 960.65,472.52 961.5,472.7 962.36,472.88 963.2,473.07 964.05,473.26 964.89,473.45 965.74,473.66 966.59,473.87 967.45,474.08 968.32,474.31 969.2,474.55 970.1,474.8 971.03,475.06 972,475.31 972.99,475.57 974,475.84 975.01,476.12 976.01,476.42 976.99,476.73 977.94,477.06 978.84,477.42 979.7,477.8 980.48,478.2 981.2,478.63 981.86,479.07 982.49,479.53 983.1,480.01 983.72,480.51 984.36,481.03 985.04,481.57 985.78,482.12 986.6,482.7 987.51,483.29 988.49,483.88 989.52,484.48 990.6,485.1 991.7,485.74 992.81,486.42 993.91,487.12 994.99,487.87 996.02,488.66 997,489.5 997.93,490.38 998.82,491.28 999.68,492.2 1000.53,493.16 1001.36,494.17 1002.18,495.22 1003,496.34 1003.82,497.52 1004.65,498.77 1005.5,500.1 1006.36,501.5 1007.23,502.95 1008.1,504.45 1008.98,506.02 1009.85,507.65 1010.72,509.35 1011.6,511.14 1012.47,513 1013.34,514.95 1014.2,517 1015.06,519.12 1015.91,521.28 1016.76,523.51 1017.6,525.82 1018.44,528.22 1019.29,530.72 1020.13,533.33 1020.98,536.08 1021.84,538.96 1022.7,542 1023.57,545.17 1024.44,548.43 1025.32,551.8 1026.2,555.3 1027.09,558.93 1027.97,562.69 1028.86,566.61 1029.74,570.7 1030.62,574.96 1031.5,579.4 1032.37,583.99 1033.25,588.7 1034.12,593.54 1034.99,598.53 1035.86,603.69 1036.72,609.05 1037.59,614.62 1038.46,620.42 1039.33,626.48 1040.2,632.8 1041.09,639.66 1042.01,647.2 1042.95,655.21 1043.89,663.51 1044.82,671.91 1045.73,680.21 1046.61,688.23 1047.44,695.78 1048.2,702.67 1048.9,708.7 1049.53,714.01 1050.13,718.86 1050.67,723.28 1051.18,727.29 1051.64,730.89 1052.06,734.12 1052.44,736.99 1052.77,739.51 1053.06,741.71 1053.3,743.6" fill="none" stroke="#f3b27a" stroke-width="1.3"/>
<polyline points="666.8,457.8 668.74,457.9 671.21,458.02 674.11,458.16 677.36,458.32 680.9,458.5 684.64,458.68 688.49,458.87 692.39,459.05 696.26,459.23 700,459.4 703.77,459.56 707.72,459.73 711.82,459.89 715.99,460.06 720.2,460.22 724.39,460.39 728.52,460.55 732.53,460.71 736.37,460.86 740,461 743.31,461.13 746.32,461.26 749.11,461.38 751.76,461.49 754.38,461.6 757.04,461.71 759.85,461.82 762.88,461.94 766.23,462.07 770,462.2 774.24,462.34 778.88,462.5 783.85,462.65 789.04,462.82 794.38,462.98 799.76,463.15 805.11,463.31 810.32,463.48 815.32,463.64 820,463.8 824.42,463.95 828.71,464.11 832.87,464.26 836.93,464.41 840.9,464.56 844.8,464.71 848.64,464.86 852.44,465.01 856.22,465.15 860,465.3 863.79,465.45 867.58,465.6 871.36,465.75 875.09,465.91 878.78,466.06 882.38,466.2 885.88,466.34 889.27,466.47 892.51,466.59 895.6,466.7 898.54,466.79 901.38,466.87 904.1,466.94 906.71,467 909.21,467.06 911.6,467.11 913.87,467.15 916.03,467.2 918.07,467.25 920,467.3 921.78,467.35 923.4,467.4 924.87,467.44 926.23,467.49 927.48,467.53 928.66,467.58 929.78,467.62 930.86,467.68 931.93,467.73 933,467.8 934.04,467.87 934.98,467.95 935.87,468.04 936.7,468.13 937.5,468.22 938.29,468.32 939.09,468.42 939.91,468.51 940.77,468.61 941.7,468.7 942.69,468.79 943.73,468.87 944.8,468.95 945.9,469.03 947.01,469.11 948.11,469.2 949.21,469.29 950.28,469.38 951.31,469.49 952.3,469.6 953.24,469.72 954.15,469.85 955.03,469.99 955.88,470.13 956.72,470.28 957.56,470.43 958.38,470.59 959.21,470.75 960.05,470.92 960.9,471.1 961.76,471.28 962.62,471.47 963.49,471.66 964.35,471.85 965.21,472.06 966.07,472.27 966.93,472.48 967.79,472.71 968.65,472.95 969.5,473.2 970.35,473.45 971.22,473.71 972.08,473.97 972.95,474.24 973.81,474.52 974.66,474.82 975.5,475.13 976.32,475.46 977.12,475.82 977.9,476.2 978.63,476.6 979.32,477.03 979.97,477.47 980.6,477.93 981.22,478.41 981.86,478.91 982.52,479.43 983.22,479.97 983.98,480.52 984.8,481.1 985.71,481.69 986.69,482.28 987.72,482.88 988.8,483.5 989.9,484.14 991.01,484.82 992.11,485.52 993.19,486.27 994.22,487.06 995.2,487.9 996.13,488.78 997.02,489.68 997.88,490.6 998.73,491.56 999.56,492.57 1000.38,493.62 1001.2,494.74 1002.02,495.92 1002.85,497.17 1003.7,498.5 1004.56,499.9 1005.43,501.35 1006.3,502.85 1007.18,504.42 1008.05,506.05 1008.92,507.75 1009.8,509.54 1010.67,511.4 1011.54,513.35 1012.4,515.4 1013.26,517.52 1014.11,519.68 1014.96,521.91 1015.8,524.22 1016.64,526.62 1017.49,529.12 1018.33,531.73 1019.18,534.48 1020.04,537.36 1020.9,540.4 1021.77,543.57 1022.64,546.83 1023.52,550.2 1024.4,553.7 1025.29,557.32 1026.17,561.09 1027.06,565.01 1027.94,569.1 1028.82,573.36 1029.7,577.8 1030.57,582.39 1031.45,587.1 1032.32,591.94 1033.19,596.93 1034.06,602.09 1034.92,607.45 1035.79,613.02 1036.66,618.82 1037.53,624.88 1038.4,631.2 1039.29,638.06 1040.21,645.6 1041.15,653.61 1042.09,661.91 1043.02,670.31 1043.93,678.61 1044.81,686.63 1045.64,694.18 1046.4,701.07 1047.1,707.1 1047.73,712.41 1048.33,717.26 1048.87,721.68 1049.38,725.69 1049.84,729.29 1050.26,732.52 1050.64,735.39 1050.97,737.91 1051.26,740.11 1051.5,742" fill="none" stroke="#f0a35c" stroke-width="1.5"/>
<g fill="#fff" stroke="#666" stroke-width="1"><path d="M662.35,458.55L667.35,453.55L672.35,458.55L667.35,463.55z"/><path d="M670.9,459.27L675.9,454.27L680.9,459.27L675.9,464.27z"/><path d="M679.45,460L684.45,455L689.45,460L684.45,465z"/><path d="M688,460.79L693,455.79L698,460.79L693,465.79z"/><path d="M696.55,461.67L701.55,456.67L706.55,461.67L701.55,466.67z"/><path d="M705.1,462.68L710.1,457.68L715.1,462.68L710.1,467.68z"/><path d="M713.65,463.77L718.65,458.77L723.65,463.77L718.65,468.77z"/><path d="M722.2,464.9L727.2,459.9L732.2,464.9L727.2,469.9z"/><path d="M730.75,466.02L735.75,461.02L740.75,466.02L735.75,471.02z"/><path d="M739.3,467.16L744.3,462.16L749.3,467.16L744.3,472.16z"/><path d="M747.85,468.32L752.85,463.32L757.85,468.32L752.85,473.32z"/><path d="M756.4,469.47L761.4,464.47L766.4,469.47L761.4,474.47z"/><path d="M764.95,470.57L769.95,465.57L774.95,470.57L769.95,475.57z"/><path d="M773.5,471.62L778.5,466.62L783.5,471.62L778.5,476.62z"/><path d="M782.05,472.65L787.05,467.65L792.05,472.65L787.05,477.65z"/><path d="M790.6,473.66L795.6,468.66L800.6,473.66L795.6,478.66z"/><path d="M799.15,474.66L804.15,469.66L809.15,474.66L804.15,479.66z"/><path d="M807.7,475.65L812.7,470.65L817.7,475.65L812.7,480.65z"/><path d="M816.25,476.64L821.25,471.64L826.25,476.64L821.25,481.64z"/><path d="M824.8,477.63L829.8,472.63L834.8,477.63L829.8,482.63z"/><path d="M833.35,478.62L838.35,473.62L843.35,478.62L838.35,483.62z"/><path d="M841.9,479.58L846.9,474.58L851.9,479.58L846.9,484.58z"/><path d="M850.45,480.52L855.45,475.52L860.45,480.52L855.45,485.52z"/><path d="M859,481.41L864,476.41L869,481.41L864,486.41z"/><path d="M867.55,482.26L872.55,477.26L877.55,482.26L872.55,487.26z"/><path d="M876.1,483.07L881.1,478.07L886.1,483.07L881.1,488.07z"/><path d="M884.65,483.86L889.65,478.86L894.65,483.86L889.65,488.86z"/><path d="M893.2,484.63L898.2,479.63L903.2,484.63L898.2,489.63z"/><path d="M901.75,485.33L906.75,480.33L911.75,485.33L906.75,490.33z"/><path d="M910.3,486.01L915.3,481.01L920.3,486.01L915.3,491.01z"/><path d="M918.85,486.73L923.85,481.73L928.85,486.73L923.85,491.73z"/><path d="M927.4,487.7L932.4,482.7L937.4,487.7L932.4,492.7z"/><path d="M936.4,490.1L941.4,485.1L946.4,490.1L941.4,495.1z"/><path d="M944.9,491.5L949.9,486.5L954.9,491.5L949.9,496.5z"/><path d="M952.7,495.5L957.7,490.5L962.7,495.5L957.7,500.5z"/><path d="M959.9,500.9L964.9,495.9L969.9,500.9L964.9,505.9z"/><path d="M968.3,506.9L973.3,501.9L978.3,506.9L973.3,511.9z"/><path d="M979.2,517.8L984.2,512.8L989.2,517.8L984.2,522.8z"/><path d="M987.6,535.8L992.6,530.8L997.6,535.8L992.6,540.8z"/><path d="M997.6,561.2L1002.6,556.2L1007.6,561.2L1002.6,566.2z"/><path d="M1005,595.2L1010,590.2L1015,595.2L1010,600.2z"/><path d="M1014.3,637.6L1019.3,632.6L1024.3,637.6L1019.3,642.6z"/><path d="M1022.5,697.1L1027.5,692.1L1032.5,697.1L1027.5,702.1z"/></g>
<g fill="#fff" stroke="#e2705a" stroke-width="1"><circle cx="669.75" cy="457.91" r="4.1"/><circle cx="678.3" cy="458.26" r="4.1"/><circle cx="686.85" cy="458.64" r="4.1"/><circle cx="695.4" cy="459.09" r="4.1"/><circle cx="703.95" cy="459.63" r="4.1"/><circle cx="712.5" cy="460.31" r="4.1"/><circle cx="721.05" cy="461.05" r="4.1"/><circle cx="729.6" cy="461.78" r="4.1"/><circle cx="738.15" cy="462.43" r="4.1"/><circle cx="746.7" cy="462.95" r="4.1"/><circle cx="755.25" cy="463.31" r="4.1"/><circle cx="763.8" cy="463.58" r="4.1"/><circle cx="772.35" cy="463.86" r="4.1"/><circle cx="780.9" cy="464.14" r="4.1"/><circle cx="789.45" cy="464.41" r="4.1"/><circle cx="798" cy="464.67" r="4.1"/><circle cx="806.55" cy="464.94" r="4.1"/><circle cx="815.1" cy="465.22" r="4.1"/><circle cx="823.65" cy="465.51" r="4.1"/><circle cx="832.2" cy="465.81" r="4.1"/><circle cx="840.75" cy="466.13" r="4.1"/><circle cx="849.3" cy="466.46" r="4.1"/><circle cx="857.85" cy="466.79" r="4.1"/><circle cx="866.4" cy="467.13" r="4.1"/><circle cx="874.95" cy="467.48" r="4.1"/><circle cx="883.5" cy="467.82" r="4.1"/><circle cx="892.05" cy="468.15" r="4.1"/><circle cx="900.6" cy="468.43" r="4.1"/><circle cx="909.15" cy="468.64" r="4.1"/><circle cx="917.7" cy="468.82" r="4.1"/><circle cx="926.25" cy="469.07" r="4.1"/><circle cx="934.8" cy="469.49" r="4.1"/><circle cx="943.5" cy="470.4" r="4.1"/><circle cx="954.1" cy="471.36" r="4.1"/><circle cx="962.7" cy="472.96" r="4.1"/><circle cx="971.3" cy="475.13" r="4.1"/><circle cx="979.7" cy="477.8" r="4.1"/><circle cx="986.6" cy="482.7" r="4.1"/><circle cx="997" cy="489.5" r="4.1"/><circle cx="1005.5" cy="500.1" r="4.1"/><circle cx="1014.2" cy="517" r="4.1"/><circle cx="1022.7" cy="542" r="4.1"/><circle cx="1031.5" cy="579.4" r="4.1"/><circle cx="1040.2" cy="632.8" r="4.1"/><circle cx="1048.9" cy="708.7" r="4.1"/></g>
<g fill="#0a0a0a" stroke="#0a0a0a" stroke-width="1"><path d="M667.45,457.09L672.45,452.09L677.45,457.09L672.45,462.09z"/><path d="M676,457.52L681,452.52L686,457.52L681,462.52z"/><path d="M684.55,457.98L689.55,452.98L694.55,457.98L689.55,462.98z"/><path d="M693.1,458.48L698.1,453.48L703.1,458.48L698.1,463.48z"/><path d="M701.65,459.03L706.65,454.03L711.65,459.03L706.65,464.03z"/><path d="M710.2,459.62L715.2,454.62L720.2,459.62L715.2,464.62z"/><path d="M718.75,460.23L723.75,455.23L728.75,460.23L723.75,465.23z"/><path d="M727.3,460.87L732.3,455.87L737.3,460.87L732.3,465.87z"/><path d="M735.85,461.57L740.85,456.57L745.85,461.57L740.85,466.57z"/><path d="M744.4,462.37L749.4,457.37L754.4,462.37L749.4,467.37z"/><path d="M752.95,463.26L757.95,458.26L762.95,463.26L757.95,468.26z"/><path d="M761.5,464.14L766.5,459.14L771.5,464.14L766.5,469.14z"/><path d="M770.05,464.95L775.05,459.95L780.05,464.95L775.05,469.95z"/><path d="M778.6,465.67L783.6,460.67L788.6,465.67L783.6,470.67z"/><path d="M787.15,466.34L792.15,461.34L797.15,466.34L792.15,471.34z"/><path d="M795.7,466.99L800.7,461.99L805.7,466.99L800.7,471.99z"/><path d="M804.25,467.64L809.25,462.64L814.25,467.64L809.25,472.64z"/><path d="M812.8,468.32L817.8,463.32L822.8,468.32L817.8,473.32z"/><path d="M821.35,469.04L826.35,464.04L831.35,469.04L826.35,474.04z"/><path d="M829.9,469.78L834.9,464.78L839.9,469.78L834.9,474.78z"/><path d="M838.45,470.53L843.45,465.53L848.45,470.53L843.45,475.53z"/><path d="M847,471.29L852,466.29L857,471.29L852,476.29z"/><path d="M855.55,472.05L860.55,467.05L865.55,472.05L860.55,477.05z"/><path d="M864.1,472.79L869.1,467.79L874.1,472.79L869.1,477.79z"/><path d="M872.65,473.53L877.65,468.53L882.65,473.53L877.65,478.53z"/><path d="M881.2,474.27L886.2,469.27L891.2,474.27L886.2,479.27z"/><path d="M889.75,475.02L894.75,470.02L899.75,475.02L894.75,480.02z"/><path d="M898.3,475.78L903.3,470.78L908.3,475.78L903.3,480.78z"/><path d="M906.85,476.56L911.85,471.56L916.85,476.56L911.85,481.56z"/><path d="M915.4,477.45L920.4,472.45L925.4,477.45L920.4,482.45z"/><path d="M923.95,478.53L928.95,473.53L933.95,478.53L928.95,483.53z"/><path d="M932.5,479.9L937.5,474.9L942.5,479.9L937.5,484.9z"/><path d="M940.6,482.3L945.6,477.3L950.6,482.3L945.6,487.3z"/><path d="M949.1,485.3L954.1,480.3L959.1,485.3L954.1,490.3z"/><path d="M958.1,490.1L963.1,485.1L968.1,490.1L963.1,495.1z"/><path d="M966.5,497.9L971.5,492.9L976.5,497.9L971.5,502.9z"/><path d="M975,510.3L980,505.3L985,510.3L980,515.3z"/><path d="M983.7,528.8L988.7,523.8L993.7,528.8L988.7,533.8z"/><path d="M992.5,559.7L997.5,554.7L1002.5,559.7L997.5,564.7z"/><path d="M1001.1,585.5L1006.1,580.5L1011.1,585.5L1006.1,590.5z"/><path d="M1009.9,623L1014.9,618L1019.9,623L1014.9,628z"/><path d="M1018.1,666.1L1023.1,661.1L1028.1,666.1L1023.1,671.1z"/><path d="M1026.3,716.2L1031.3,711.2L1036.3,716.2L1031.3,721.2z"/></g>
<g fill="#d5101e" stroke="#d5101e" stroke-width="1"><circle cx="667.95" cy="457.86" r="4.1"/><circle cx="676.5" cy="458.28" r="4.1"/><circle cx="685.05" cy="458.7" r="4.1"/><circle cx="693.6" cy="459.11" r="4.1"/><circle cx="702.15" cy="459.49" r="4.1"/><circle cx="710.7" cy="459.85" r="4.1"/><circle cx="719.25" cy="460.19" r="4.1"/><circle cx="727.8" cy="460.52" r="4.1"/><circle cx="736.35" cy="460.86" r="4.1"/><circle cx="744.9" cy="461.2" r="4.1"/><circle cx="753.45" cy="461.56" r="4.1"/><circle cx="762" cy="461.91" r="4.1"/><circle cx="770.55" cy="462.22" r="4.1"/><circle cx="779.1" cy="462.5" r="4.1"/><circle cx="787.65" cy="462.77" r="4.1"/><circle cx="796.2" cy="463.04" r="4.1"/><circle cx="804.75" cy="463.3" r="4.1"/><circle cx="813.3" cy="463.58" r="4.1"/><circle cx="821.85" cy="463.86" r="4.1"/><circle cx="830.4" cy="464.17" r="4.1"/><circle cx="838.95" cy="464.49" r="4.1"/><circle cx="847.5" cy="464.82" r="4.1"/><circle cx="856.05" cy="465.15" r="4.1"/><circle cx="864.6" cy="465.48" r="4.1"/><circle cx="873.15" cy="465.83" r="4.1"/><circle cx="881.7" cy="466.17" r="4.1"/><circle cx="890.25" cy="466.51" r="4.1"/><circle cx="898.8" cy="466.8" r="4.1"/><circle cx="907.35" cy="467.02" r="4.1"/><circle cx="915.9" cy="467.2" r="4.1"/><circle cx="924.45" cy="467.43" r="4.1"/><circle cx="933" cy="467.8" r="4.1"/><circle cx="941.7" cy="468.7" r="4.1"/><circle cx="952.3" cy="469.6" r="4.1"/><circle cx="960.9" cy="471.1" r="4.1"/><circle cx="969.5" cy="473.2" r="4.1"/><circle cx="977.9" cy="476.2" r="4.1"/><circle cx="984.8" cy="481.1" r="4.1"/><circle cx="995.2" cy="487.9" r="4.1"/><circle cx="1003.7" cy="498.5" r="4.1"/><circle cx="1012.4" cy="515.4" r="4.1"/><circle cx="1020.9" cy="540.4" r="4.1"/><circle cx="1029.7" cy="577.8" r="4.1"/><circle cx="1038.4" cy="631.2" r="4.1"/><circle cx="1047.1" cy="707.1" r="4.1"/></g>
</g>
<rect x="666.8" y="432.4" width="408.60000000000014" height="309.4" fill="none" stroke="#555" stroke-width="1.6"/>
<line x1="666.8" y1="727.17" x2="669.8" y2="727.17" stroke="#555" stroke-width="1.3"/>
<line x1="666.8" y1="712.34" x2="672.3" y2="712.34" stroke="#555" stroke-width="1.3"/>
<line x1="666.8" y1="697.51" x2="669.8" y2="697.51" stroke="#555" stroke-width="1.3"/>
<line x1="666.8" y1="682.68" x2="672.3" y2="682.68" stroke="#555" stroke-width="1.3"/>
<line x1="666.8" y1="667.85" x2="669.8" y2="667.85" stroke="#555" stroke-width="1.3"/>
<line x1="666.8" y1="653.02" x2="672.3" y2="653.02" stroke="#555" stroke-width="1.3"/>
<line x1="666.8" y1="638.19" x2="669.8" y2="638.19" stroke="#555" stroke-width="1.3"/>
<line x1="666.8" y1="623.36" x2="672.3" y2="623.36" stroke="#555" stroke-width="1.3"/>
<line x1="666.8" y1="608.53" x2="669.8" y2="608.53" stroke="#555" stroke-width="1.3"/>
<line x1="666.8" y1="593.7" x2="672.3" y2="593.7" stroke="#555" stroke-width="1.3"/>
<line x1="666.8" y1="578.87" x2="669.8" y2="578.87" stroke="#555" stroke-width="1.3"/>
<line x1="666.8" y1="564.04" x2="672.3" y2="564.04" stroke="#555" stroke-width="1.3"/>
<line x1="666.8" y1="549.21" x2="669.8" y2="549.21" stroke="#555" stroke-width="1.3"/>
<line x1="666.8" y1="534.38" x2="672.3" y2="534.38" stroke="#555" stroke-width="1.3"/>
<line x1="666.8" y1="519.55" x2="669.8" y2="519.55" stroke="#555" stroke-width="1.3"/>
<line x1="666.8" y1="504.72" x2="672.3" y2="504.72" stroke="#555" stroke-width="1.3"/>
<line x1="666.8" y1="489.89" x2="669.8" y2="489.89" stroke="#555" stroke-width="1.3"/>
<line x1="666.8" y1="475.06" x2="672.3" y2="475.06" stroke="#555" stroke-width="1.3"/>
<line x1="666.8" y1="460.23" x2="669.8" y2="460.23" stroke="#555" stroke-width="1.3"/>
<line x1="666.8" y1="445.4" x2="672.3" y2="445.4" stroke="#555" stroke-width="1.3"/>
<line x1="688.18" y1="741.8" x2="688.18" y2="738.8" stroke="#555" stroke-width="1.3"/>
<line x1="709.56" y1="741.8" x2="709.56" y2="736.3" stroke="#555" stroke-width="1.3"/>
<line x1="730.94" y1="741.8" x2="730.94" y2="738.8" stroke="#555" stroke-width="1.3"/>
<line x1="752.32" y1="741.8" x2="752.32" y2="736.3" stroke="#555" stroke-width="1.3"/>
<line x1="773.7" y1="741.8" x2="773.7" y2="738.8" stroke="#555" stroke-width="1.3"/>
<line x1="795.08" y1="741.8" x2="795.08" y2="736.3" stroke="#555" stroke-width="1.3"/>
<line x1="816.46" y1="741.8" x2="816.46" y2="738.8" stroke="#555" stroke-width="1.3"/>
<line x1="837.84" y1="741.8" x2="837.84" y2="736.3" stroke="#555" stroke-width="1.3"/>
<line x1="859.22" y1="741.8" x2="859.22" y2="738.8" stroke="#555" stroke-width="1.3"/>
<line x1="880.6" y1="741.8" x2="880.6" y2="736.3" stroke="#555" stroke-width="1.3"/>
<line x1="901.98" y1="741.8" x2="901.98" y2="738.8" stroke="#555" stroke-width="1.3"/>
<line x1="923.36" y1="741.8" x2="923.36" y2="736.3" stroke="#555" stroke-width="1.3"/>
<line x1="944.74" y1="741.8" x2="944.74" y2="738.8" stroke="#555" stroke-width="1.3"/>
<line x1="966.12" y1="741.8" x2="966.12" y2="736.3" stroke="#555" stroke-width="1.3"/>
<line x1="987.5" y1="741.8" x2="987.5" y2="738.8" stroke="#555" stroke-width="1.3"/>
<line x1="1008.88" y1="741.8" x2="1008.88" y2="736.3" stroke="#555" stroke-width="1.3"/>
<line x1="1030.26" y1="741.8" x2="1030.26" y2="738.8" stroke="#555" stroke-width="1.3"/>
<line x1="1051.64" y1="741.8" x2="1051.64" y2="736.3" stroke="#555" stroke-width="1.3"/>
<line x1="1073.02" y1="741.8" x2="1073.02" y2="738.8" stroke="#555" stroke-width="1.3"/>
<text x="661" y="718.64" font-size="17.5" text-anchor="end" fill="#222" stroke="#222" stroke-width="0.5">2</text>
<text x="661" y="688.98" font-size="17.5" text-anchor="end" fill="#222" stroke="#222" stroke-width="0.5">4</text>
<text x="661" y="659.32" font-size="17.5" text-anchor="end" fill="#222" stroke="#222" stroke-width="0.5">6</text>
<text x="661" y="629.66" font-size="17.5" text-anchor="end" fill="#222" stroke="#222" stroke-width="0.5">8</text>
<text x="661" y="600" font-size="17.5" text-anchor="end" fill="#222" stroke="#222" stroke-width="0.5">10</text>
<text x="661" y="570.34" font-size="17.5" text-anchor="end" fill="#222" stroke="#222" stroke-width="0.5">12</text>
<text x="661" y="540.68" font-size="17.5" text-anchor="end" fill="#222" stroke="#222" stroke-width="0.5">14</text>
<text x="661" y="511.02" font-size="17.5" text-anchor="end" fill="#222" stroke="#222" stroke-width="0.5">16</text>
<text x="661" y="481.36" font-size="17.5" text-anchor="end" fill="#222" stroke="#222" stroke-width="0.5">18</text>
<text x="661" y="451.7" font-size="17.5" text-anchor="end" fill="#222" stroke="#222" stroke-width="0.5">20</text>
<text x="666.8" y="763.3" font-size="17.5" text-anchor="middle" fill="#222" stroke="#222" stroke-width="0.5">0.0</text>
<text x="709.56" y="763.3" font-size="17.5" text-anchor="middle" fill="#222" stroke="#222" stroke-width="0.5">0.2</text>
<text x="752.32" y="763.3" font-size="17.5" text-anchor="middle" fill="#222" stroke="#222" stroke-width="0.5">0.4</text>
<text x="795.08" y="763.3" font-size="17.5" text-anchor="middle" fill="#222" stroke="#222" stroke-width="0.5">0.6</text>
<text x="837.84" y="763.3" font-size="17.5" text-anchor="middle" fill="#222" stroke="#222" stroke-width="0.5">0.8</text>
<text x="880.6" y="763.3" font-size="17.5" text-anchor="middle" fill="#222" stroke="#222" stroke-width="0.5">1.0</text>
<text x="923.36" y="763.3" font-size="17.5" text-anchor="middle" fill="#222" stroke="#222" stroke-width="0.5">1.2</text>
<text x="966.12" y="763.3" font-size="17.5" text-anchor="middle" fill="#222" stroke="#222" stroke-width="0.5">1.4</text>
<text x="1008.88" y="763.3" font-size="17.5" text-anchor="middle" fill="#222" stroke="#222" stroke-width="0.5">1.6</text>
<text x="1051.64" y="763.3" font-size="17.5" text-anchor="middle" fill="#222" stroke="#222" stroke-width="0.5">1.8</text>
<text x="869.8" y="783.3" font-size="20.5" text-anchor="middle" fill="#222" stroke="#222" stroke-width="0.5">Voltage (V)</text>
<text transform="translate(630.8,580) rotate(-90)" font-size="20" text-anchor="middle" fill="#222" stroke="#222" stroke-width="0.5">Current density (mA/cm<tspan font-size="62%" dy="-0.613em">2</tspan><tspan dy="0.380em">&#8203;</tspan>)</text>
<line x1="764.4" y1="507.3" x2="787.2" y2="507.3" stroke="#222" stroke-width="1.3"/>
<polygon points="770,507.3 775.6,501.7 781.2,507.3 775.6,512.9" fill="#0a0a0a" stroke="#222" stroke-width="1.1"/>
<line x1="799.6" y1="507.3" x2="822.8" y2="507.3" stroke="#e8785a" stroke-width="1.3"/>
<circle cx="810.8" cy="507.3" r="4.9" fill="#d5101e" stroke="#d5101e" stroke-width="1.1"/>
<line x1="764.4" y1="535.6" x2="787.2" y2="535.6" stroke="#222" stroke-width="1.3"/>
<polygon points="770,535.6 775.6,530 781.2,535.6 775.6,541.2" fill="#fff" stroke="#222" stroke-width="1.1"/>
<line x1="799.6" y1="535.6" x2="822.8" y2="535.6" stroke="#e8785a" stroke-width="1.3"/>
<circle cx="810.8" cy="535.6" r="4.9" fill="#fff" stroke="#e06a50" stroke-width="1.1"/>
<text x="836.5" y="514.5" font-size="18" text-anchor="start" fill="#222" stroke="#222" stroke-width="0.5">V<tspan font-size="68%" dy="0.250em">OC</tspan><tspan dy="-0.170em">&#8203;</tspan> to J<tspan font-size="68%" dy="0.250em">SC</tspan><tspan dy="-0.170em">&#8203;</tspan></text>
<text x="836.5" y="542.5" font-size="18" text-anchor="start" fill="#222" stroke="#222" stroke-width="0.5">J<tspan font-size="68%" dy="0.250em">SC</tspan><tspan dy="-0.170em">&#8203;</tspan> to V<tspan font-size="68%" dy="0.250em">OC</tspan><tspan dy="-0.170em">&#8203;</tspan></text>
<rect x="683.1" y="583.1" width="308.9" height="26.9" fill="#5d8fd1"/>
<rect x="683.1" y="610" width="308.9" height="116" fill="#f6f7fc"/>
<rect x="683.1" y="612.0" width="308.9" height="26.7" fill="#cfd6ec"/>
<rect x="683.1" y="641.3" width="308.9" height="26.7" fill="#e9ecf7"/>
<rect x="683.1" y="671.0" width="308.9" height="26.8" fill="#cfd6ec"/>
<rect x="683.1" y="700.0" width="308.9" height="25.8" fill="#e9ecf7"/>
<line x1="803.1" y1="583.1" x2="803.1" y2="725.8" stroke="#f4f6fc" stroke-width="1.3"/>
<line x1="909.8" y1="583.1" x2="909.8" y2="725.8" stroke="#f4f6fc" stroke-width="1.3"/>
<line x1="807.5" y1="597.2" x2="829" y2="597.2" stroke="#111" stroke-width="1.4"/>
<polygon points="812.8,597.2 818.2,591.8 823.6,597.2 818.2,602.6" fill="#0a0a0a" stroke="#0a0a0a" stroke-width="1.1"/>
<text x="833.6" y="603.5" font-size="18" text-anchor="start" fill="#fff" font-weight="bold" stroke="#fff" stroke-width="0.2">Control</text>
<line x1="913" y1="597.2" x2="937" y2="597.2" stroke="#d5101e" stroke-width="1.4"/>
<circle cx="925.5" cy="597.2" r="5.2" fill="#d5101e"/>
<text x="939.6" y="603.5" font-size="18" text-anchor="start" fill="#fff" font-weight="bold" stroke="#fff" stroke-width="0.2">N719</text>
<text x="742.8" y="631.8" font-size="18" text-anchor="middle" fill="#222" stroke="#222" stroke-width="0.5">PCE (%)</text>
<text x="856" y="631.8" font-size="18" text-anchor="middle" fill="#222" stroke="#222" stroke-width="0.5">23.5</text>
<text x="951" y="631.8" font-size="18" text-anchor="middle" fill="#222" stroke="#222" stroke-width="0.5">26.2</text>
<text x="742.8" y="661" font-size="18" text-anchor="middle" fill="#222" stroke="#222" stroke-width="0.5">V<tspan font-size="68%" dy="0.250em">OC</tspan><tspan dy="-0.170em">&#8203;</tspan> (V)</text>
<text x="856" y="661" font-size="18" text-anchor="middle" fill="#222" stroke="#222" stroke-width="0.5">1.72</text>
<text x="951" y="661" font-size="18" text-anchor="middle" fill="#222" stroke="#222" stroke-width="0.5">1.78</text>
<text x="742.8" y="690.5" font-size="18" text-anchor="middle" fill="#222" stroke="#222" stroke-width="0.5">J<tspan font-size="68%" dy="0.250em">SC</tspan><tspan dy="-0.170em">&#8203;</tspan> (mA/cm<tspan font-size="62%" dy="-0.613em">2</tspan><tspan dy="0.380em">&#8203;</tspan>)</text>
<text x="856" y="690.5" font-size="18" text-anchor="middle" fill="#222" stroke="#222" stroke-width="0.5">19.2</text>
<text x="951" y="690.5" font-size="18" text-anchor="middle" fill="#222" stroke="#222" stroke-width="0.5">19.2</text>
<text x="742.8" y="719.5" font-size="18" text-anchor="middle" fill="#222" stroke="#222" stroke-width="0.5">FF (%)</text>
<text x="856" y="719.5" font-size="18" text-anchor="middle" fill="#222" stroke="#222" stroke-width="0.5">71.0</text>
<text x="951" y="719.5" font-size="18" text-anchor="middle" fill="#222" stroke="#222" stroke-width="0.5">76.8</text>
</g>
</g>
</svg>
</body>
</html>
